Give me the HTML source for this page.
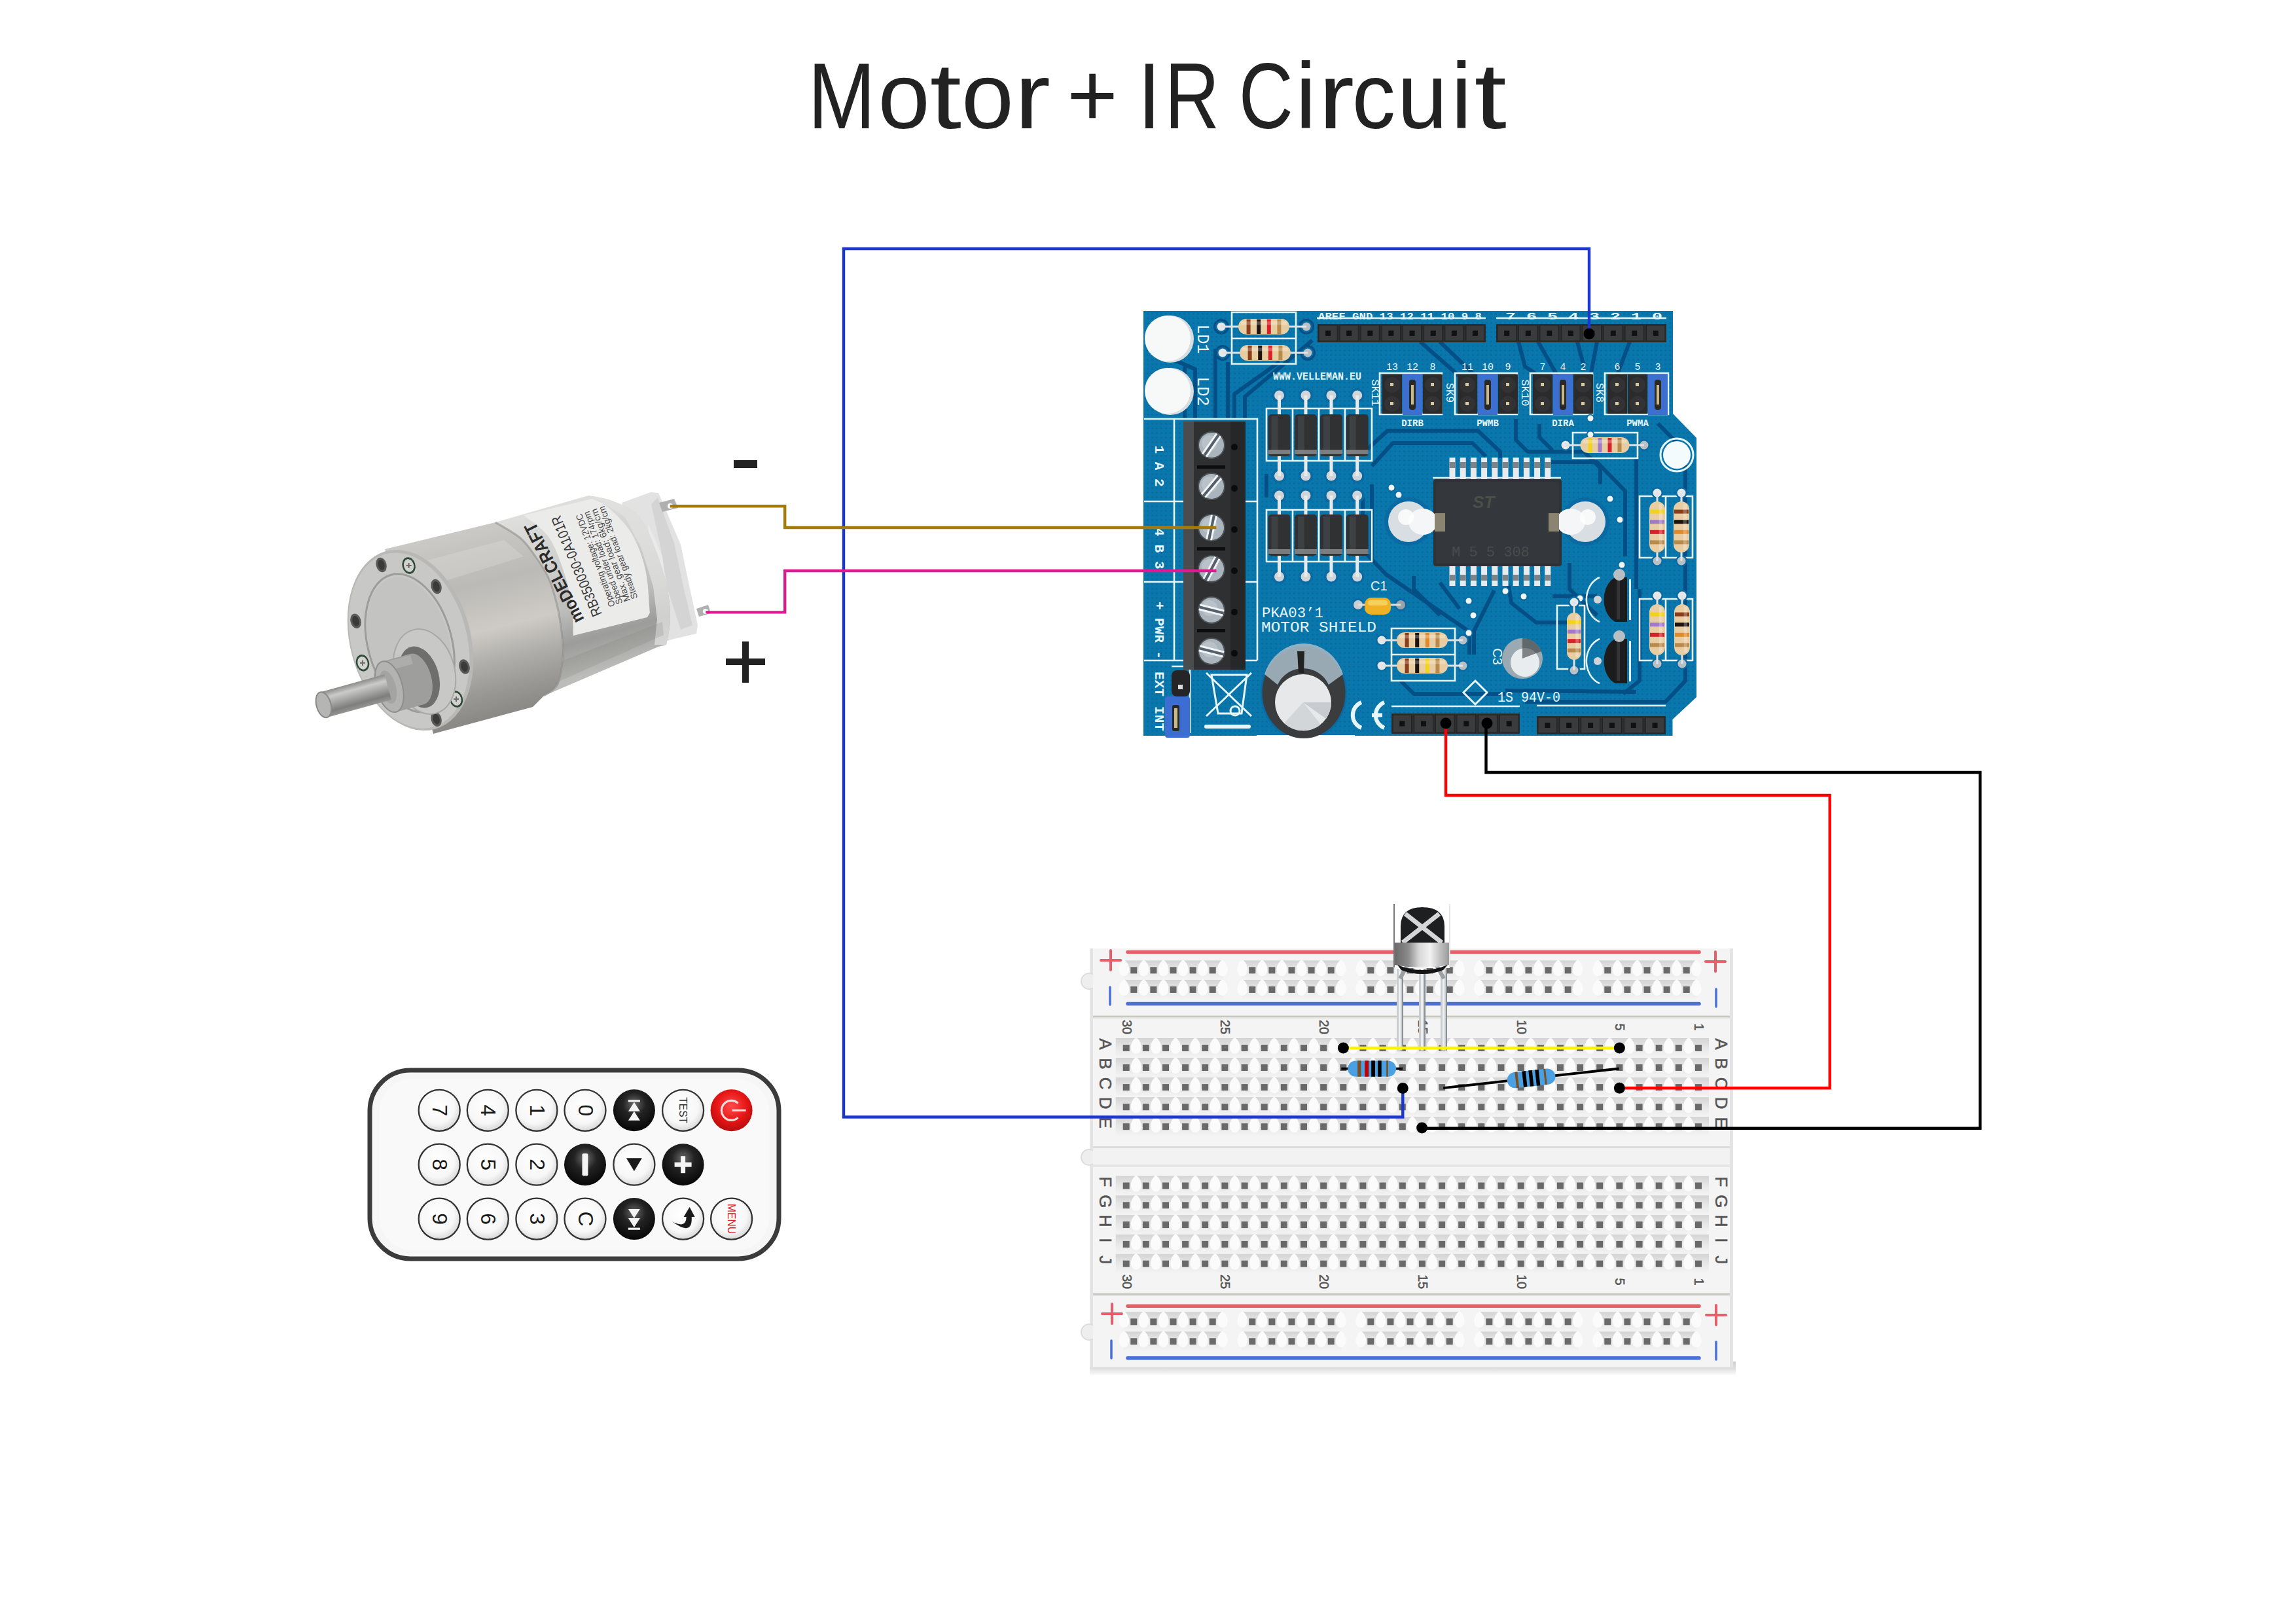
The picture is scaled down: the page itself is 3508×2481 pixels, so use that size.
<!DOCTYPE html>
<html><head><meta charset="utf-8"><style>
html,body{margin:0;padding:0;background:#fff;width:3508px;height:2481px;overflow:hidden}
svg{display:block}
</style></head><body><svg width="3508" height="2481" viewBox="0 0 3508 2481">
<defs>
 <linearGradient id="rowg" x1="0" y1="0" x2="0" y2="1">
  <stop offset="0" stop-color="#d4d4d4"/>
  <stop offset="0.45" stop-color="#e6e6e6"/>
  <stop offset="1" stop-color="#f4f4f4"/>
 </linearGradient>
 <radialGradient id="bump" cx="0.5" cy="0.45" r="0.5">
  <stop offset="0" stop-color="#ffffff"/>
  <stop offset="0.7" stop-color="#fafafa"/>
  <stop offset="1" stop-color="#f0f0f0"/>
 </radialGradient>
 <pattern id="pcbdots" x="0" y="0" width="7" height="7" patternUnits="userSpaceOnUse">
  <circle cx="3.5" cy="3.5" r="1.3" fill="#055d93" opacity="0.6"/>
 </pattern>
 <radialGradient id="whitebtn" cx="0.45" cy="0.4" r="0.6">
  <stop offset="0" stop-color="#ffffff"/><stop offset="0.7" stop-color="#f7f7f7"/><stop offset="1" stop-color="#d9d9d9"/>
 </radialGradient>
 <radialGradient id="blackbtn" cx="0.5" cy="0.35" r="0.6">
  <stop offset="0" stop-color="#6a6a6a"/><stop offset="0.45" stop-color="#232323"/><stop offset="1" stop-color="#0a0a0a"/>
 </radialGradient>
 <radialGradient id="redbtn" cx="0.5" cy="0.4" r="0.6">
  <stop offset="0" stop-color="#ff4a4a"/><stop offset="0.6" stop-color="#e61616"/><stop offset="1" stop-color="#b80c0c"/>
 </radialGradient>
 <linearGradient id="can" x1="0" y1="0" x2="1" y2="0">
  <stop offset="0" stop-color="#6a6a6a"/><stop offset="0.25" stop-color="#8c8c8c"/><stop offset="0.45" stop-color="#d8d8d8"/><stop offset="0.65" stop-color="#f2f2f2"/><stop offset="0.85" stop-color="#bdbdbd"/><stop offset="1" stop-color="#9a9a9a"/>
 </linearGradient>
 <linearGradient id="metalcyl" x1="0" y1="0" x2="0" y2="1">
  <stop offset="0" stop-color="#d6d6d4"/><stop offset="0.2" stop-color="#c9c9c7"/><stop offset="0.45" stop-color="#bdbdbb"/><stop offset="0.7" stop-color="#b0b0ae"/><stop offset="1" stop-color="#8e8e8c"/>
 </linearGradient>
 <linearGradient id="faceg" x1="0" y1="0" x2="1" y2="1">
  <stop offset="0" stop-color="#c9c9c7"/><stop offset="1" stop-color="#aeaeac"/>
 </linearGradient>
 <linearGradient id="shaftg" x1="0" y1="0" x2="0" y2="1">
  <stop offset="0" stop-color="#8a8a88"/><stop offset="0.35" stop-color="#d8d8d6"/><stop offset="0.7" stop-color="#a2a2a0"/><stop offset="1" stop-color="#707070"/>
 </linearGradient>
 <linearGradient id="bbshadow" x1="0" y1="0" x2="0" y2="1">
  <stop offset="0" stop-color="#cfcfcf"/><stop offset="0.5" stop-color="#e0e0e0"/><stop offset="1" stop-color="#ffffff"/>
 </linearGradient>
</defs>
<text transform="translate(1234.5 196.3) scale(0.865 1)" font-family="Liberation Sans, sans-serif" font-size="143" fill="#222">M</text><text transform="translate(1341.4 196.3) scale(0.997 1)" font-family="Liberation Sans, sans-serif" font-size="143" fill="#222">o</text><text transform="translate(1420.7 196.3) scale(1.214 1)" font-family="Liberation Sans, sans-serif" font-size="143" fill="#222">t</text><text transform="translate(1469.0 196.3) scale(1.004 1)" font-family="Liberation Sans, sans-serif" font-size="143" fill="#222">o</text><text transform="translate(1549.9 196.3) scale(1.154 1)" font-family="Liberation Sans, sans-serif" font-size="143" fill="#222">r</text><text transform="translate(1738.4 196.3) scale(0.879 1)" font-family="Liberation Sans, sans-serif" font-size="143" fill="#222">I</text><text transform="translate(1779.4 196.3) scale(0.811 1)" font-family="Liberation Sans, sans-serif" font-size="143" fill="#222">R</text><text transform="translate(1892.7 196.3) scale(0.805 1)" font-family="Liberation Sans, sans-serif" font-size="143" fill="#222">C</text><text transform="translate(1979.3 196.3) scale(1.000 1)" font-family="Liberation Sans, sans-serif" font-size="143" fill="#222">i</text><text transform="translate(2014.5 196.3) scale(1.146 1)" font-family="Liberation Sans, sans-serif" font-size="143" fill="#222">r</text><text transform="translate(2065.7 196.3) scale(0.927 1)" font-family="Liberation Sans, sans-serif" font-size="143" fill="#222">c</text><text transform="translate(2135.1 196.3) scale(0.961 1)" font-family="Liberation Sans, sans-serif" font-size="143" fill="#222">u</text><text transform="translate(2217.1 196.3) scale(1.000 1)" font-family="Liberation Sans, sans-serif" font-size="143" fill="#222">i</text><text transform="translate(2252.5 196.3) scale(1.243 1)" font-family="Liberation Sans, sans-serif" font-size="143" fill="#222">t</text><rect x="1636.6" y="142" width="64.6" height="9.2" fill="#222"/><rect x="1664.3" y="112.7" width="9.6" height="67.6" fill="#222"/><rect x="1121" y="703" width="36" height="12" fill="#222"/><rect x="1109" y="1006" width="60" height="10" fill="#222"/><rect x="1134" y="980" width="10" height="63" fill="#222"/><rect x="1665" y="2080" width="987" height="22" fill="url(#bbshadow)"/><rect x="1665" y="1449" width="983" height="640" fill="#e4e4e4"/><circle cx="1664" cy="1499" r="12" fill="#eeeeee" stroke="#dddddd" stroke-width="2"/><circle cx="1664" cy="1768" r="12" fill="#eeeeee" stroke="#dddddd" stroke-width="2"/><circle cx="1664" cy="2035" r="12" fill="#eeeeee" stroke="#dddddd" stroke-width="2"/><rect x="1670" y="1449" width="973" height="102" fill="#f4f4f4"/><rect x="1670" y="1556" width="973" height="196" fill="#f4f4f4"/><rect x="1670" y="1782" width="973" height="193" fill="#f4f4f4"/><rect x="1670" y="1980" width="973" height="108" fill="#f4f4f4"/><rect x="1670" y="1752" width="973" height="30" fill="#f2f2f2"/><rect x="1670" y="1751" width="973" height="3" fill="#dcdcdc"/><rect x="1670" y="1779" width="973" height="4" fill="#e6e6e6"/><rect x="1670" y="1551" width="973" height="5" fill="#e2e2de"/><rect x="1670" y="1552" width="973" height="2" fill="#c8c8c2"/><rect x="1670" y="1975" width="973" height="5" fill="#e2e2de"/><rect x="1670" y="1976" width="973" height="2" fill="#c8c8c2"/><rect x="1704.7" y="1586.0" width="906.3" height="30" fill="url(#rowg)"/><path d="M1735.8 1585.0C1746.8 1592.0 1745.8 1610.0 1735.8 1610.0C1725.8 1610.0 1724.8 1592.0 1735.8 1585.0Z" fill="#fbfbfb"/><path d="M1766.0 1585.0C1777.0 1592.0 1776.0 1610.0 1766.0 1610.0C1756.0 1610.0 1755.0 1592.0 1766.0 1585.0Z" fill="#fbfbfb"/><path d="M1796.1 1585.0C1807.1 1592.0 1806.1 1610.0 1796.1 1610.0C1786.1 1610.0 1785.1 1592.0 1796.1 1585.0Z" fill="#fbfbfb"/><path d="M1826.2 1585.0C1837.2 1592.0 1836.2 1610.0 1826.2 1610.0C1816.2 1610.0 1815.2 1592.0 1826.2 1585.0Z" fill="#fbfbfb"/><path d="M1856.4 1585.0C1867.4 1592.0 1866.4 1610.0 1856.4 1610.0C1846.4 1610.0 1845.4 1592.0 1856.4 1585.0Z" fill="#fbfbfb"/><path d="M1886.6 1585.0C1897.6 1592.0 1896.6 1610.0 1886.6 1610.0C1876.6 1610.0 1875.6 1592.0 1886.6 1585.0Z" fill="#fbfbfb"/><path d="M1916.7 1585.0C1927.7 1592.0 1926.7 1610.0 1916.7 1610.0C1906.7 1610.0 1905.7 1592.0 1916.7 1585.0Z" fill="#fbfbfb"/><path d="M1946.8 1585.0C1957.8 1592.0 1956.8 1610.0 1946.8 1610.0C1936.8 1610.0 1935.8 1592.0 1946.8 1585.0Z" fill="#fbfbfb"/><path d="M1977.0 1585.0C1988.0 1592.0 1987.0 1610.0 1977.0 1610.0C1967.0 1610.0 1966.0 1592.0 1977.0 1585.0Z" fill="#fbfbfb"/><path d="M2007.2 1585.0C2018.2 1592.0 2017.2 1610.0 2007.2 1610.0C1997.2 1610.0 1996.2 1592.0 2007.2 1585.0Z" fill="#fbfbfb"/><path d="M2037.3 1585.0C2048.3 1592.0 2047.3 1610.0 2037.3 1610.0C2027.3 1610.0 2026.3 1592.0 2037.3 1585.0Z" fill="#fbfbfb"/><path d="M2067.4 1585.0C2078.4 1592.0 2077.4 1610.0 2067.4 1610.0C2057.4 1610.0 2056.4 1592.0 2067.4 1585.0Z" fill="#fbfbfb"/><path d="M2097.6 1585.0C2108.6 1592.0 2107.6 1610.0 2097.6 1610.0C2087.6 1610.0 2086.6 1592.0 2097.6 1585.0Z" fill="#fbfbfb"/><path d="M2127.8 1585.0C2138.8 1592.0 2137.8 1610.0 2127.8 1610.0C2117.8 1610.0 2116.8 1592.0 2127.8 1585.0Z" fill="#fbfbfb"/><path d="M2157.9 1585.0C2168.9 1592.0 2167.9 1610.0 2157.9 1610.0C2147.9 1610.0 2146.9 1592.0 2157.9 1585.0Z" fill="#fbfbfb"/><path d="M2188.1 1585.0C2199.1 1592.0 2198.1 1610.0 2188.1 1610.0C2178.1 1610.0 2177.1 1592.0 2188.1 1585.0Z" fill="#fbfbfb"/><path d="M2218.2 1585.0C2229.2 1592.0 2228.2 1610.0 2218.2 1610.0C2208.2 1610.0 2207.2 1592.0 2218.2 1585.0Z" fill="#fbfbfb"/><path d="M2248.3 1585.0C2259.3 1592.0 2258.3 1610.0 2248.3 1610.0C2238.3 1610.0 2237.3 1592.0 2248.3 1585.0Z" fill="#fbfbfb"/><path d="M2278.5 1585.0C2289.5 1592.0 2288.5 1610.0 2278.5 1610.0C2268.5 1610.0 2267.5 1592.0 2278.5 1585.0Z" fill="#fbfbfb"/><path d="M2308.7 1585.0C2319.7 1592.0 2318.7 1610.0 2308.7 1610.0C2298.7 1610.0 2297.7 1592.0 2308.7 1585.0Z" fill="#fbfbfb"/><path d="M2338.8 1585.0C2349.8 1592.0 2348.8 1610.0 2338.8 1610.0C2328.8 1610.0 2327.8 1592.0 2338.8 1585.0Z" fill="#fbfbfb"/><path d="M2368.9 1585.0C2379.9 1592.0 2378.9 1610.0 2368.9 1610.0C2358.9 1610.0 2357.9 1592.0 2368.9 1585.0Z" fill="#fbfbfb"/><path d="M2399.1 1585.0C2410.1 1592.0 2409.1 1610.0 2399.1 1610.0C2389.1 1610.0 2388.1 1592.0 2399.1 1585.0Z" fill="#fbfbfb"/><path d="M2429.2 1585.0C2440.2 1592.0 2439.2 1610.0 2429.2 1610.0C2419.2 1610.0 2418.2 1592.0 2429.2 1585.0Z" fill="#fbfbfb"/><path d="M2459.4 1585.0C2470.4 1592.0 2469.4 1610.0 2459.4 1610.0C2449.4 1610.0 2448.4 1592.0 2459.4 1585.0Z" fill="#fbfbfb"/><path d="M2489.6 1585.0C2500.6 1592.0 2499.6 1610.0 2489.6 1610.0C2479.6 1610.0 2478.6 1592.0 2489.6 1585.0Z" fill="#fbfbfb"/><path d="M2519.7 1585.0C2530.7 1592.0 2529.7 1610.0 2519.7 1610.0C2509.7 1610.0 2508.7 1592.0 2519.7 1585.0Z" fill="#fbfbfb"/><path d="M2549.8 1585.0C2560.8 1592.0 2559.8 1610.0 2549.8 1610.0C2539.8 1610.0 2538.8 1592.0 2549.8 1585.0Z" fill="#fbfbfb"/><path d="M2580.0 1585.0C2591.0 1592.0 2590.0 1610.0 2580.0 1610.0C2570.0 1610.0 2569.0 1592.0 2580.0 1585.0Z" fill="#fbfbfb"/><rect x="1715.7" y="1596.0" width="10" height="10" fill="#696969"/><rect x="1745.8" y="1596.0" width="10" height="10" fill="#696969"/><rect x="1776.0" y="1596.0" width="10" height="10" fill="#696969"/><rect x="1806.1" y="1596.0" width="10" height="10" fill="#696969"/><rect x="1836.2" y="1596.0" width="10" height="10" fill="#696969"/><rect x="1866.4" y="1596.0" width="10" height="10" fill="#696969"/><rect x="1896.6" y="1596.0" width="10" height="10" fill="#696969"/><rect x="1926.7" y="1596.0" width="10" height="10" fill="#696969"/><rect x="1956.8" y="1596.0" width="10" height="10" fill="#696969"/><rect x="1987.0" y="1596.0" width="10" height="10" fill="#696969"/><rect x="2017.2" y="1596.0" width="10" height="10" fill="#696969"/><rect x="2047.3" y="1596.0" width="10" height="10" fill="#696969"/><rect x="2077.4" y="1596.0" width="10" height="10" fill="#696969"/><rect x="2107.6" y="1596.0" width="10" height="10" fill="#696969"/><rect x="2137.8" y="1596.0" width="10" height="10" fill="#696969"/><rect x="2167.9" y="1596.0" width="10" height="10" fill="#696969"/><rect x="2198.1" y="1596.0" width="10" height="10" fill="#696969"/><rect x="2228.2" y="1596.0" width="10" height="10" fill="#696969"/><rect x="2258.3" y="1596.0" width="10" height="10" fill="#696969"/><rect x="2288.5" y="1596.0" width="10" height="10" fill="#696969"/><rect x="2318.7" y="1596.0" width="10" height="10" fill="#696969"/><rect x="2348.8" y="1596.0" width="10" height="10" fill="#696969"/><rect x="2378.9" y="1596.0" width="10" height="10" fill="#696969"/><rect x="2409.1" y="1596.0" width="10" height="10" fill="#696969"/><rect x="2439.2" y="1596.0" width="10" height="10" fill="#696969"/><rect x="2469.4" y="1596.0" width="10" height="10" fill="#696969"/><rect x="2499.6" y="1596.0" width="10" height="10" fill="#696969"/><rect x="2529.7" y="1596.0" width="10" height="10" fill="#696969"/><rect x="2559.8" y="1596.0" width="10" height="10" fill="#696969"/><rect x="2590.0" y="1596.0" width="10" height="10" fill="#696969"/><rect x="1704.7" y="1616.0" width="906.3" height="30" fill="url(#rowg)"/><path d="M1735.8 1615.0C1746.8 1622.0 1745.8 1640.0 1735.8 1640.0C1725.8 1640.0 1724.8 1622.0 1735.8 1615.0Z" fill="#fbfbfb"/><path d="M1766.0 1615.0C1777.0 1622.0 1776.0 1640.0 1766.0 1640.0C1756.0 1640.0 1755.0 1622.0 1766.0 1615.0Z" fill="#fbfbfb"/><path d="M1796.1 1615.0C1807.1 1622.0 1806.1 1640.0 1796.1 1640.0C1786.1 1640.0 1785.1 1622.0 1796.1 1615.0Z" fill="#fbfbfb"/><path d="M1826.2 1615.0C1837.2 1622.0 1836.2 1640.0 1826.2 1640.0C1816.2 1640.0 1815.2 1622.0 1826.2 1615.0Z" fill="#fbfbfb"/><path d="M1856.4 1615.0C1867.4 1622.0 1866.4 1640.0 1856.4 1640.0C1846.4 1640.0 1845.4 1622.0 1856.4 1615.0Z" fill="#fbfbfb"/><path d="M1886.6 1615.0C1897.6 1622.0 1896.6 1640.0 1886.6 1640.0C1876.6 1640.0 1875.6 1622.0 1886.6 1615.0Z" fill="#fbfbfb"/><path d="M1916.7 1615.0C1927.7 1622.0 1926.7 1640.0 1916.7 1640.0C1906.7 1640.0 1905.7 1622.0 1916.7 1615.0Z" fill="#fbfbfb"/><path d="M1946.8 1615.0C1957.8 1622.0 1956.8 1640.0 1946.8 1640.0C1936.8 1640.0 1935.8 1622.0 1946.8 1615.0Z" fill="#fbfbfb"/><path d="M1977.0 1615.0C1988.0 1622.0 1987.0 1640.0 1977.0 1640.0C1967.0 1640.0 1966.0 1622.0 1977.0 1615.0Z" fill="#fbfbfb"/><path d="M2007.2 1615.0C2018.2 1622.0 2017.2 1640.0 2007.2 1640.0C1997.2 1640.0 1996.2 1622.0 2007.2 1615.0Z" fill="#fbfbfb"/><path d="M2037.3 1615.0C2048.3 1622.0 2047.3 1640.0 2037.3 1640.0C2027.3 1640.0 2026.3 1622.0 2037.3 1615.0Z" fill="#fbfbfb"/><path d="M2067.4 1615.0C2078.4 1622.0 2077.4 1640.0 2067.4 1640.0C2057.4 1640.0 2056.4 1622.0 2067.4 1615.0Z" fill="#fbfbfb"/><path d="M2097.6 1615.0C2108.6 1622.0 2107.6 1640.0 2097.6 1640.0C2087.6 1640.0 2086.6 1622.0 2097.6 1615.0Z" fill="#fbfbfb"/><path d="M2127.8 1615.0C2138.8 1622.0 2137.8 1640.0 2127.8 1640.0C2117.8 1640.0 2116.8 1622.0 2127.8 1615.0Z" fill="#fbfbfb"/><path d="M2157.9 1615.0C2168.9 1622.0 2167.9 1640.0 2157.9 1640.0C2147.9 1640.0 2146.9 1622.0 2157.9 1615.0Z" fill="#fbfbfb"/><path d="M2188.1 1615.0C2199.1 1622.0 2198.1 1640.0 2188.1 1640.0C2178.1 1640.0 2177.1 1622.0 2188.1 1615.0Z" fill="#fbfbfb"/><path d="M2218.2 1615.0C2229.2 1622.0 2228.2 1640.0 2218.2 1640.0C2208.2 1640.0 2207.2 1622.0 2218.2 1615.0Z" fill="#fbfbfb"/><path d="M2248.3 1615.0C2259.3 1622.0 2258.3 1640.0 2248.3 1640.0C2238.3 1640.0 2237.3 1622.0 2248.3 1615.0Z" fill="#fbfbfb"/><path d="M2278.5 1615.0C2289.5 1622.0 2288.5 1640.0 2278.5 1640.0C2268.5 1640.0 2267.5 1622.0 2278.5 1615.0Z" fill="#fbfbfb"/><path d="M2308.7 1615.0C2319.7 1622.0 2318.7 1640.0 2308.7 1640.0C2298.7 1640.0 2297.7 1622.0 2308.7 1615.0Z" fill="#fbfbfb"/><path d="M2338.8 1615.0C2349.8 1622.0 2348.8 1640.0 2338.8 1640.0C2328.8 1640.0 2327.8 1622.0 2338.8 1615.0Z" fill="#fbfbfb"/><path d="M2368.9 1615.0C2379.9 1622.0 2378.9 1640.0 2368.9 1640.0C2358.9 1640.0 2357.9 1622.0 2368.9 1615.0Z" fill="#fbfbfb"/><path d="M2399.1 1615.0C2410.1 1622.0 2409.1 1640.0 2399.1 1640.0C2389.1 1640.0 2388.1 1622.0 2399.1 1615.0Z" fill="#fbfbfb"/><path d="M2429.2 1615.0C2440.2 1622.0 2439.2 1640.0 2429.2 1640.0C2419.2 1640.0 2418.2 1622.0 2429.2 1615.0Z" fill="#fbfbfb"/><path d="M2459.4 1615.0C2470.4 1622.0 2469.4 1640.0 2459.4 1640.0C2449.4 1640.0 2448.4 1622.0 2459.4 1615.0Z" fill="#fbfbfb"/><path d="M2489.6 1615.0C2500.6 1622.0 2499.6 1640.0 2489.6 1640.0C2479.6 1640.0 2478.6 1622.0 2489.6 1615.0Z" fill="#fbfbfb"/><path d="M2519.7 1615.0C2530.7 1622.0 2529.7 1640.0 2519.7 1640.0C2509.7 1640.0 2508.7 1622.0 2519.7 1615.0Z" fill="#fbfbfb"/><path d="M2549.8 1615.0C2560.8 1622.0 2559.8 1640.0 2549.8 1640.0C2539.8 1640.0 2538.8 1622.0 2549.8 1615.0Z" fill="#fbfbfb"/><path d="M2580.0 1615.0C2591.0 1622.0 2590.0 1640.0 2580.0 1640.0C2570.0 1640.0 2569.0 1622.0 2580.0 1615.0Z" fill="#fbfbfb"/><rect x="1715.7" y="1626.0" width="10" height="10" fill="#696969"/><rect x="1745.8" y="1626.0" width="10" height="10" fill="#696969"/><rect x="1776.0" y="1626.0" width="10" height="10" fill="#696969"/><rect x="1806.1" y="1626.0" width="10" height="10" fill="#696969"/><rect x="1836.2" y="1626.0" width="10" height="10" fill="#696969"/><rect x="1866.4" y="1626.0" width="10" height="10" fill="#696969"/><rect x="1896.6" y="1626.0" width="10" height="10" fill="#696969"/><rect x="1926.7" y="1626.0" width="10" height="10" fill="#696969"/><rect x="1956.8" y="1626.0" width="10" height="10" fill="#696969"/><rect x="1987.0" y="1626.0" width="10" height="10" fill="#696969"/><rect x="2017.2" y="1626.0" width="10" height="10" fill="#696969"/><rect x="2047.3" y="1626.0" width="10" height="10" fill="#696969"/><rect x="2077.4" y="1626.0" width="10" height="10" fill="#696969"/><rect x="2107.6" y="1626.0" width="10" height="10" fill="#696969"/><rect x="2137.8" y="1626.0" width="10" height="10" fill="#696969"/><rect x="2167.9" y="1626.0" width="10" height="10" fill="#696969"/><rect x="2198.1" y="1626.0" width="10" height="10" fill="#696969"/><rect x="2228.2" y="1626.0" width="10" height="10" fill="#696969"/><rect x="2258.3" y="1626.0" width="10" height="10" fill="#696969"/><rect x="2288.5" y="1626.0" width="10" height="10" fill="#696969"/><rect x="2318.7" y="1626.0" width="10" height="10" fill="#696969"/><rect x="2348.8" y="1626.0" width="10" height="10" fill="#696969"/><rect x="2378.9" y="1626.0" width="10" height="10" fill="#696969"/><rect x="2409.1" y="1626.0" width="10" height="10" fill="#696969"/><rect x="2439.2" y="1626.0" width="10" height="10" fill="#696969"/><rect x="2469.4" y="1626.0" width="10" height="10" fill="#696969"/><rect x="2499.6" y="1626.0" width="10" height="10" fill="#696969"/><rect x="2529.7" y="1626.0" width="10" height="10" fill="#696969"/><rect x="2559.8" y="1626.0" width="10" height="10" fill="#696969"/><rect x="2590.0" y="1626.0" width="10" height="10" fill="#696969"/><rect x="1704.7" y="1646.1" width="906.3" height="30" fill="url(#rowg)"/><path d="M1735.8 1645.1C1746.8 1652.1 1745.8 1670.1 1735.8 1670.1C1725.8 1670.1 1724.8 1652.1 1735.8 1645.1Z" fill="#fbfbfb"/><path d="M1766.0 1645.1C1777.0 1652.1 1776.0 1670.1 1766.0 1670.1C1756.0 1670.1 1755.0 1652.1 1766.0 1645.1Z" fill="#fbfbfb"/><path d="M1796.1 1645.1C1807.1 1652.1 1806.1 1670.1 1796.1 1670.1C1786.1 1670.1 1785.1 1652.1 1796.1 1645.1Z" fill="#fbfbfb"/><path d="M1826.2 1645.1C1837.2 1652.1 1836.2 1670.1 1826.2 1670.1C1816.2 1670.1 1815.2 1652.1 1826.2 1645.1Z" fill="#fbfbfb"/><path d="M1856.4 1645.1C1867.4 1652.1 1866.4 1670.1 1856.4 1670.1C1846.4 1670.1 1845.4 1652.1 1856.4 1645.1Z" fill="#fbfbfb"/><path d="M1886.6 1645.1C1897.6 1652.1 1896.6 1670.1 1886.6 1670.1C1876.6 1670.1 1875.6 1652.1 1886.6 1645.1Z" fill="#fbfbfb"/><path d="M1916.7 1645.1C1927.7 1652.1 1926.7 1670.1 1916.7 1670.1C1906.7 1670.1 1905.7 1652.1 1916.7 1645.1Z" fill="#fbfbfb"/><path d="M1946.8 1645.1C1957.8 1652.1 1956.8 1670.1 1946.8 1670.1C1936.8 1670.1 1935.8 1652.1 1946.8 1645.1Z" fill="#fbfbfb"/><path d="M1977.0 1645.1C1988.0 1652.1 1987.0 1670.1 1977.0 1670.1C1967.0 1670.1 1966.0 1652.1 1977.0 1645.1Z" fill="#fbfbfb"/><path d="M2007.2 1645.1C2018.2 1652.1 2017.2 1670.1 2007.2 1670.1C1997.2 1670.1 1996.2 1652.1 2007.2 1645.1Z" fill="#fbfbfb"/><path d="M2037.3 1645.1C2048.3 1652.1 2047.3 1670.1 2037.3 1670.1C2027.3 1670.1 2026.3 1652.1 2037.3 1645.1Z" fill="#fbfbfb"/><path d="M2067.4 1645.1C2078.4 1652.1 2077.4 1670.1 2067.4 1670.1C2057.4 1670.1 2056.4 1652.1 2067.4 1645.1Z" fill="#fbfbfb"/><path d="M2097.6 1645.1C2108.6 1652.1 2107.6 1670.1 2097.6 1670.1C2087.6 1670.1 2086.6 1652.1 2097.6 1645.1Z" fill="#fbfbfb"/><path d="M2127.8 1645.1C2138.8 1652.1 2137.8 1670.1 2127.8 1670.1C2117.8 1670.1 2116.8 1652.1 2127.8 1645.1Z" fill="#fbfbfb"/><path d="M2157.9 1645.1C2168.9 1652.1 2167.9 1670.1 2157.9 1670.1C2147.9 1670.1 2146.9 1652.1 2157.9 1645.1Z" fill="#fbfbfb"/><path d="M2188.1 1645.1C2199.1 1652.1 2198.1 1670.1 2188.1 1670.1C2178.1 1670.1 2177.1 1652.1 2188.1 1645.1Z" fill="#fbfbfb"/><path d="M2218.2 1645.1C2229.2 1652.1 2228.2 1670.1 2218.2 1670.1C2208.2 1670.1 2207.2 1652.1 2218.2 1645.1Z" fill="#fbfbfb"/><path d="M2248.3 1645.1C2259.3 1652.1 2258.3 1670.1 2248.3 1670.1C2238.3 1670.1 2237.3 1652.1 2248.3 1645.1Z" fill="#fbfbfb"/><path d="M2278.5 1645.1C2289.5 1652.1 2288.5 1670.1 2278.5 1670.1C2268.5 1670.1 2267.5 1652.1 2278.5 1645.1Z" fill="#fbfbfb"/><path d="M2308.7 1645.1C2319.7 1652.1 2318.7 1670.1 2308.7 1670.1C2298.7 1670.1 2297.7 1652.1 2308.7 1645.1Z" fill="#fbfbfb"/><path d="M2338.8 1645.1C2349.8 1652.1 2348.8 1670.1 2338.8 1670.1C2328.8 1670.1 2327.8 1652.1 2338.8 1645.1Z" fill="#fbfbfb"/><path d="M2368.9 1645.1C2379.9 1652.1 2378.9 1670.1 2368.9 1670.1C2358.9 1670.1 2357.9 1652.1 2368.9 1645.1Z" fill="#fbfbfb"/><path d="M2399.1 1645.1C2410.1 1652.1 2409.1 1670.1 2399.1 1670.1C2389.1 1670.1 2388.1 1652.1 2399.1 1645.1Z" fill="#fbfbfb"/><path d="M2429.2 1645.1C2440.2 1652.1 2439.2 1670.1 2429.2 1670.1C2419.2 1670.1 2418.2 1652.1 2429.2 1645.1Z" fill="#fbfbfb"/><path d="M2459.4 1645.1C2470.4 1652.1 2469.4 1670.1 2459.4 1670.1C2449.4 1670.1 2448.4 1652.1 2459.4 1645.1Z" fill="#fbfbfb"/><path d="M2489.6 1645.1C2500.6 1652.1 2499.6 1670.1 2489.6 1670.1C2479.6 1670.1 2478.6 1652.1 2489.6 1645.1Z" fill="#fbfbfb"/><path d="M2519.7 1645.1C2530.7 1652.1 2529.7 1670.1 2519.7 1670.1C2509.7 1670.1 2508.7 1652.1 2519.7 1645.1Z" fill="#fbfbfb"/><path d="M2549.8 1645.1C2560.8 1652.1 2559.8 1670.1 2549.8 1670.1C2539.8 1670.1 2538.8 1652.1 2549.8 1645.1Z" fill="#fbfbfb"/><path d="M2580.0 1645.1C2591.0 1652.1 2590.0 1670.1 2580.0 1670.1C2570.0 1670.1 2569.0 1652.1 2580.0 1645.1Z" fill="#fbfbfb"/><rect x="1715.7" y="1656.1" width="10" height="10" fill="#696969"/><rect x="1745.8" y="1656.1" width="10" height="10" fill="#696969"/><rect x="1776.0" y="1656.1" width="10" height="10" fill="#696969"/><rect x="1806.1" y="1656.1" width="10" height="10" fill="#696969"/><rect x="1836.2" y="1656.1" width="10" height="10" fill="#696969"/><rect x="1866.4" y="1656.1" width="10" height="10" fill="#696969"/><rect x="1896.6" y="1656.1" width="10" height="10" fill="#696969"/><rect x="1926.7" y="1656.1" width="10" height="10" fill="#696969"/><rect x="1956.8" y="1656.1" width="10" height="10" fill="#696969"/><rect x="1987.0" y="1656.1" width="10" height="10" fill="#696969"/><rect x="2017.2" y="1656.1" width="10" height="10" fill="#696969"/><rect x="2047.3" y="1656.1" width="10" height="10" fill="#696969"/><rect x="2077.4" y="1656.1" width="10" height="10" fill="#696969"/><rect x="2107.6" y="1656.1" width="10" height="10" fill="#696969"/><rect x="2137.8" y="1656.1" width="10" height="10" fill="#696969"/><rect x="2167.9" y="1656.1" width="10" height="10" fill="#696969"/><rect x="2198.1" y="1656.1" width="10" height="10" fill="#696969"/><rect x="2228.2" y="1656.1" width="10" height="10" fill="#696969"/><rect x="2258.3" y="1656.1" width="10" height="10" fill="#696969"/><rect x="2288.5" y="1656.1" width="10" height="10" fill="#696969"/><rect x="2318.7" y="1656.1" width="10" height="10" fill="#696969"/><rect x="2348.8" y="1656.1" width="10" height="10" fill="#696969"/><rect x="2378.9" y="1656.1" width="10" height="10" fill="#696969"/><rect x="2409.1" y="1656.1" width="10" height="10" fill="#696969"/><rect x="2439.2" y="1656.1" width="10" height="10" fill="#696969"/><rect x="2469.4" y="1656.1" width="10" height="10" fill="#696969"/><rect x="2499.6" y="1656.1" width="10" height="10" fill="#696969"/><rect x="2529.7" y="1656.1" width="10" height="10" fill="#696969"/><rect x="2559.8" y="1656.1" width="10" height="10" fill="#696969"/><rect x="2590.0" y="1656.1" width="10" height="10" fill="#696969"/><rect x="1704.7" y="1676.2" width="906.3" height="30" fill="url(#rowg)"/><path d="M1735.8 1675.2C1746.8 1682.2 1745.8 1700.2 1735.8 1700.2C1725.8 1700.2 1724.8 1682.2 1735.8 1675.2Z" fill="#fbfbfb"/><path d="M1766.0 1675.2C1777.0 1682.2 1776.0 1700.2 1766.0 1700.2C1756.0 1700.2 1755.0 1682.2 1766.0 1675.2Z" fill="#fbfbfb"/><path d="M1796.1 1675.2C1807.1 1682.2 1806.1 1700.2 1796.1 1700.2C1786.1 1700.2 1785.1 1682.2 1796.1 1675.2Z" fill="#fbfbfb"/><path d="M1826.2 1675.2C1837.2 1682.2 1836.2 1700.2 1826.2 1700.2C1816.2 1700.2 1815.2 1682.2 1826.2 1675.2Z" fill="#fbfbfb"/><path d="M1856.4 1675.2C1867.4 1682.2 1866.4 1700.2 1856.4 1700.2C1846.4 1700.2 1845.4 1682.2 1856.4 1675.2Z" fill="#fbfbfb"/><path d="M1886.6 1675.2C1897.6 1682.2 1896.6 1700.2 1886.6 1700.2C1876.6 1700.2 1875.6 1682.2 1886.6 1675.2Z" fill="#fbfbfb"/><path d="M1916.7 1675.2C1927.7 1682.2 1926.7 1700.2 1916.7 1700.2C1906.7 1700.2 1905.7 1682.2 1916.7 1675.2Z" fill="#fbfbfb"/><path d="M1946.8 1675.2C1957.8 1682.2 1956.8 1700.2 1946.8 1700.2C1936.8 1700.2 1935.8 1682.2 1946.8 1675.2Z" fill="#fbfbfb"/><path d="M1977.0 1675.2C1988.0 1682.2 1987.0 1700.2 1977.0 1700.2C1967.0 1700.2 1966.0 1682.2 1977.0 1675.2Z" fill="#fbfbfb"/><path d="M2007.2 1675.2C2018.2 1682.2 2017.2 1700.2 2007.2 1700.2C1997.2 1700.2 1996.2 1682.2 2007.2 1675.2Z" fill="#fbfbfb"/><path d="M2037.3 1675.2C2048.3 1682.2 2047.3 1700.2 2037.3 1700.2C2027.3 1700.2 2026.3 1682.2 2037.3 1675.2Z" fill="#fbfbfb"/><path d="M2067.4 1675.2C2078.4 1682.2 2077.4 1700.2 2067.4 1700.2C2057.4 1700.2 2056.4 1682.2 2067.4 1675.2Z" fill="#fbfbfb"/><path d="M2097.6 1675.2C2108.6 1682.2 2107.6 1700.2 2097.6 1700.2C2087.6 1700.2 2086.6 1682.2 2097.6 1675.2Z" fill="#fbfbfb"/><path d="M2127.8 1675.2C2138.8 1682.2 2137.8 1700.2 2127.8 1700.2C2117.8 1700.2 2116.8 1682.2 2127.8 1675.2Z" fill="#fbfbfb"/><path d="M2157.9 1675.2C2168.9 1682.2 2167.9 1700.2 2157.9 1700.2C2147.9 1700.2 2146.9 1682.2 2157.9 1675.2Z" fill="#fbfbfb"/><path d="M2188.1 1675.2C2199.1 1682.2 2198.1 1700.2 2188.1 1700.2C2178.1 1700.2 2177.1 1682.2 2188.1 1675.2Z" fill="#fbfbfb"/><path d="M2218.2 1675.2C2229.2 1682.2 2228.2 1700.2 2218.2 1700.2C2208.2 1700.2 2207.2 1682.2 2218.2 1675.2Z" fill="#fbfbfb"/><path d="M2248.3 1675.2C2259.3 1682.2 2258.3 1700.2 2248.3 1700.2C2238.3 1700.2 2237.3 1682.2 2248.3 1675.2Z" fill="#fbfbfb"/><path d="M2278.5 1675.2C2289.5 1682.2 2288.5 1700.2 2278.5 1700.2C2268.5 1700.2 2267.5 1682.2 2278.5 1675.2Z" fill="#fbfbfb"/><path d="M2308.7 1675.2C2319.7 1682.2 2318.7 1700.2 2308.7 1700.2C2298.7 1700.2 2297.7 1682.2 2308.7 1675.2Z" fill="#fbfbfb"/><path d="M2338.8 1675.2C2349.8 1682.2 2348.8 1700.2 2338.8 1700.2C2328.8 1700.2 2327.8 1682.2 2338.8 1675.2Z" fill="#fbfbfb"/><path d="M2368.9 1675.2C2379.9 1682.2 2378.9 1700.2 2368.9 1700.2C2358.9 1700.2 2357.9 1682.2 2368.9 1675.2Z" fill="#fbfbfb"/><path d="M2399.1 1675.2C2410.1 1682.2 2409.1 1700.2 2399.1 1700.2C2389.1 1700.2 2388.1 1682.2 2399.1 1675.2Z" fill="#fbfbfb"/><path d="M2429.2 1675.2C2440.2 1682.2 2439.2 1700.2 2429.2 1700.2C2419.2 1700.2 2418.2 1682.2 2429.2 1675.2Z" fill="#fbfbfb"/><path d="M2459.4 1675.2C2470.4 1682.2 2469.4 1700.2 2459.4 1700.2C2449.4 1700.2 2448.4 1682.2 2459.4 1675.2Z" fill="#fbfbfb"/><path d="M2489.6 1675.2C2500.6 1682.2 2499.6 1700.2 2489.6 1700.2C2479.6 1700.2 2478.6 1682.2 2489.6 1675.2Z" fill="#fbfbfb"/><path d="M2519.7 1675.2C2530.7 1682.2 2529.7 1700.2 2519.7 1700.2C2509.7 1700.2 2508.7 1682.2 2519.7 1675.2Z" fill="#fbfbfb"/><path d="M2549.8 1675.2C2560.8 1682.2 2559.8 1700.2 2549.8 1700.2C2539.8 1700.2 2538.8 1682.2 2549.8 1675.2Z" fill="#fbfbfb"/><path d="M2580.0 1675.2C2591.0 1682.2 2590.0 1700.2 2580.0 1700.2C2570.0 1700.2 2569.0 1682.2 2580.0 1675.2Z" fill="#fbfbfb"/><rect x="1715.7" y="1686.2" width="10" height="10" fill="#696969"/><rect x="1745.8" y="1686.2" width="10" height="10" fill="#696969"/><rect x="1776.0" y="1686.2" width="10" height="10" fill="#696969"/><rect x="1806.1" y="1686.2" width="10" height="10" fill="#696969"/><rect x="1836.2" y="1686.2" width="10" height="10" fill="#696969"/><rect x="1866.4" y="1686.2" width="10" height="10" fill="#696969"/><rect x="1896.6" y="1686.2" width="10" height="10" fill="#696969"/><rect x="1926.7" y="1686.2" width="10" height="10" fill="#696969"/><rect x="1956.8" y="1686.2" width="10" height="10" fill="#696969"/><rect x="1987.0" y="1686.2" width="10" height="10" fill="#696969"/><rect x="2017.2" y="1686.2" width="10" height="10" fill="#696969"/><rect x="2047.3" y="1686.2" width="10" height="10" fill="#696969"/><rect x="2077.4" y="1686.2" width="10" height="10" fill="#696969"/><rect x="2107.6" y="1686.2" width="10" height="10" fill="#696969"/><rect x="2137.8" y="1686.2" width="10" height="10" fill="#696969"/><rect x="2167.9" y="1686.2" width="10" height="10" fill="#696969"/><rect x="2198.1" y="1686.2" width="10" height="10" fill="#696969"/><rect x="2228.2" y="1686.2" width="10" height="10" fill="#696969"/><rect x="2258.3" y="1686.2" width="10" height="10" fill="#696969"/><rect x="2288.5" y="1686.2" width="10" height="10" fill="#696969"/><rect x="2318.7" y="1686.2" width="10" height="10" fill="#696969"/><rect x="2348.8" y="1686.2" width="10" height="10" fill="#696969"/><rect x="2378.9" y="1686.2" width="10" height="10" fill="#696969"/><rect x="2409.1" y="1686.2" width="10" height="10" fill="#696969"/><rect x="2439.2" y="1686.2" width="10" height="10" fill="#696969"/><rect x="2469.4" y="1686.2" width="10" height="10" fill="#696969"/><rect x="2499.6" y="1686.2" width="10" height="10" fill="#696969"/><rect x="2529.7" y="1686.2" width="10" height="10" fill="#696969"/><rect x="2559.8" y="1686.2" width="10" height="10" fill="#696969"/><rect x="2590.0" y="1686.2" width="10" height="10" fill="#696969"/><rect x="1704.7" y="1706.2" width="906.3" height="30" fill="url(#rowg)"/><path d="M1735.8 1705.2C1746.8 1712.2 1745.8 1730.2 1735.8 1730.2C1725.8 1730.2 1724.8 1712.2 1735.8 1705.2Z" fill="#fbfbfb"/><path d="M1766.0 1705.2C1777.0 1712.2 1776.0 1730.2 1766.0 1730.2C1756.0 1730.2 1755.0 1712.2 1766.0 1705.2Z" fill="#fbfbfb"/><path d="M1796.1 1705.2C1807.1 1712.2 1806.1 1730.2 1796.1 1730.2C1786.1 1730.2 1785.1 1712.2 1796.1 1705.2Z" fill="#fbfbfb"/><path d="M1826.2 1705.2C1837.2 1712.2 1836.2 1730.2 1826.2 1730.2C1816.2 1730.2 1815.2 1712.2 1826.2 1705.2Z" fill="#fbfbfb"/><path d="M1856.4 1705.2C1867.4 1712.2 1866.4 1730.2 1856.4 1730.2C1846.4 1730.2 1845.4 1712.2 1856.4 1705.2Z" fill="#fbfbfb"/><path d="M1886.6 1705.2C1897.6 1712.2 1896.6 1730.2 1886.6 1730.2C1876.6 1730.2 1875.6 1712.2 1886.6 1705.2Z" fill="#fbfbfb"/><path d="M1916.7 1705.2C1927.7 1712.2 1926.7 1730.2 1916.7 1730.2C1906.7 1730.2 1905.7 1712.2 1916.7 1705.2Z" fill="#fbfbfb"/><path d="M1946.8 1705.2C1957.8 1712.2 1956.8 1730.2 1946.8 1730.2C1936.8 1730.2 1935.8 1712.2 1946.8 1705.2Z" fill="#fbfbfb"/><path d="M1977.0 1705.2C1988.0 1712.2 1987.0 1730.2 1977.0 1730.2C1967.0 1730.2 1966.0 1712.2 1977.0 1705.2Z" fill="#fbfbfb"/><path d="M2007.2 1705.2C2018.2 1712.2 2017.2 1730.2 2007.2 1730.2C1997.2 1730.2 1996.2 1712.2 2007.2 1705.2Z" fill="#fbfbfb"/><path d="M2037.3 1705.2C2048.3 1712.2 2047.3 1730.2 2037.3 1730.2C2027.3 1730.2 2026.3 1712.2 2037.3 1705.2Z" fill="#fbfbfb"/><path d="M2067.4 1705.2C2078.4 1712.2 2077.4 1730.2 2067.4 1730.2C2057.4 1730.2 2056.4 1712.2 2067.4 1705.2Z" fill="#fbfbfb"/><path d="M2097.6 1705.2C2108.6 1712.2 2107.6 1730.2 2097.6 1730.2C2087.6 1730.2 2086.6 1712.2 2097.6 1705.2Z" fill="#fbfbfb"/><path d="M2127.8 1705.2C2138.8 1712.2 2137.8 1730.2 2127.8 1730.2C2117.8 1730.2 2116.8 1712.2 2127.8 1705.2Z" fill="#fbfbfb"/><path d="M2157.9 1705.2C2168.9 1712.2 2167.9 1730.2 2157.9 1730.2C2147.9 1730.2 2146.9 1712.2 2157.9 1705.2Z" fill="#fbfbfb"/><path d="M2188.1 1705.2C2199.1 1712.2 2198.1 1730.2 2188.1 1730.2C2178.1 1730.2 2177.1 1712.2 2188.1 1705.2Z" fill="#fbfbfb"/><path d="M2218.2 1705.2C2229.2 1712.2 2228.2 1730.2 2218.2 1730.2C2208.2 1730.2 2207.2 1712.2 2218.2 1705.2Z" fill="#fbfbfb"/><path d="M2248.3 1705.2C2259.3 1712.2 2258.3 1730.2 2248.3 1730.2C2238.3 1730.2 2237.3 1712.2 2248.3 1705.2Z" fill="#fbfbfb"/><path d="M2278.5 1705.2C2289.5 1712.2 2288.5 1730.2 2278.5 1730.2C2268.5 1730.2 2267.5 1712.2 2278.5 1705.2Z" fill="#fbfbfb"/><path d="M2308.7 1705.2C2319.7 1712.2 2318.7 1730.2 2308.7 1730.2C2298.7 1730.2 2297.7 1712.2 2308.7 1705.2Z" fill="#fbfbfb"/><path d="M2338.8 1705.2C2349.8 1712.2 2348.8 1730.2 2338.8 1730.2C2328.8 1730.2 2327.8 1712.2 2338.8 1705.2Z" fill="#fbfbfb"/><path d="M2368.9 1705.2C2379.9 1712.2 2378.9 1730.2 2368.9 1730.2C2358.9 1730.2 2357.9 1712.2 2368.9 1705.2Z" fill="#fbfbfb"/><path d="M2399.1 1705.2C2410.1 1712.2 2409.1 1730.2 2399.1 1730.2C2389.1 1730.2 2388.1 1712.2 2399.1 1705.2Z" fill="#fbfbfb"/><path d="M2429.2 1705.2C2440.2 1712.2 2439.2 1730.2 2429.2 1730.2C2419.2 1730.2 2418.2 1712.2 2429.2 1705.2Z" fill="#fbfbfb"/><path d="M2459.4 1705.2C2470.4 1712.2 2469.4 1730.2 2459.4 1730.2C2449.4 1730.2 2448.4 1712.2 2459.4 1705.2Z" fill="#fbfbfb"/><path d="M2489.6 1705.2C2500.6 1712.2 2499.6 1730.2 2489.6 1730.2C2479.6 1730.2 2478.6 1712.2 2489.6 1705.2Z" fill="#fbfbfb"/><path d="M2519.7 1705.2C2530.7 1712.2 2529.7 1730.2 2519.7 1730.2C2509.7 1730.2 2508.7 1712.2 2519.7 1705.2Z" fill="#fbfbfb"/><path d="M2549.8 1705.2C2560.8 1712.2 2559.8 1730.2 2549.8 1730.2C2539.8 1730.2 2538.8 1712.2 2549.8 1705.2Z" fill="#fbfbfb"/><path d="M2580.0 1705.2C2591.0 1712.2 2590.0 1730.2 2580.0 1730.2C2570.0 1730.2 2569.0 1712.2 2580.0 1705.2Z" fill="#fbfbfb"/><rect x="1715.7" y="1716.2" width="10" height="10" fill="#696969"/><rect x="1745.8" y="1716.2" width="10" height="10" fill="#696969"/><rect x="1776.0" y="1716.2" width="10" height="10" fill="#696969"/><rect x="1806.1" y="1716.2" width="10" height="10" fill="#696969"/><rect x="1836.2" y="1716.2" width="10" height="10" fill="#696969"/><rect x="1866.4" y="1716.2" width="10" height="10" fill="#696969"/><rect x="1896.6" y="1716.2" width="10" height="10" fill="#696969"/><rect x="1926.7" y="1716.2" width="10" height="10" fill="#696969"/><rect x="1956.8" y="1716.2" width="10" height="10" fill="#696969"/><rect x="1987.0" y="1716.2" width="10" height="10" fill="#696969"/><rect x="2017.2" y="1716.2" width="10" height="10" fill="#696969"/><rect x="2047.3" y="1716.2" width="10" height="10" fill="#696969"/><rect x="2077.4" y="1716.2" width="10" height="10" fill="#696969"/><rect x="2107.6" y="1716.2" width="10" height="10" fill="#696969"/><rect x="2137.8" y="1716.2" width="10" height="10" fill="#696969"/><rect x="2167.9" y="1716.2" width="10" height="10" fill="#696969"/><rect x="2198.1" y="1716.2" width="10" height="10" fill="#696969"/><rect x="2228.2" y="1716.2" width="10" height="10" fill="#696969"/><rect x="2258.3" y="1716.2" width="10" height="10" fill="#696969"/><rect x="2288.5" y="1716.2" width="10" height="10" fill="#696969"/><rect x="2318.7" y="1716.2" width="10" height="10" fill="#696969"/><rect x="2348.8" y="1716.2" width="10" height="10" fill="#696969"/><rect x="2378.9" y="1716.2" width="10" height="10" fill="#696969"/><rect x="2409.1" y="1716.2" width="10" height="10" fill="#696969"/><rect x="2439.2" y="1716.2" width="10" height="10" fill="#696969"/><rect x="2469.4" y="1716.2" width="10" height="10" fill="#696969"/><rect x="2499.6" y="1716.2" width="10" height="10" fill="#696969"/><rect x="2529.7" y="1716.2" width="10" height="10" fill="#696969"/><rect x="2559.8" y="1716.2" width="10" height="10" fill="#696969"/><rect x="2590.0" y="1716.2" width="10" height="10" fill="#696969"/><rect x="1704.7" y="1796.5" width="906.3" height="30" fill="url(#rowg)"/><path d="M1735.8 1795.5C1746.8 1802.5 1745.8 1820.5 1735.8 1820.5C1725.8 1820.5 1724.8 1802.5 1735.8 1795.5Z" fill="#fbfbfb"/><path d="M1766.0 1795.5C1777.0 1802.5 1776.0 1820.5 1766.0 1820.5C1756.0 1820.5 1755.0 1802.5 1766.0 1795.5Z" fill="#fbfbfb"/><path d="M1796.1 1795.5C1807.1 1802.5 1806.1 1820.5 1796.1 1820.5C1786.1 1820.5 1785.1 1802.5 1796.1 1795.5Z" fill="#fbfbfb"/><path d="M1826.2 1795.5C1837.2 1802.5 1836.2 1820.5 1826.2 1820.5C1816.2 1820.5 1815.2 1802.5 1826.2 1795.5Z" fill="#fbfbfb"/><path d="M1856.4 1795.5C1867.4 1802.5 1866.4 1820.5 1856.4 1820.5C1846.4 1820.5 1845.4 1802.5 1856.4 1795.5Z" fill="#fbfbfb"/><path d="M1886.6 1795.5C1897.6 1802.5 1896.6 1820.5 1886.6 1820.5C1876.6 1820.5 1875.6 1802.5 1886.6 1795.5Z" fill="#fbfbfb"/><path d="M1916.7 1795.5C1927.7 1802.5 1926.7 1820.5 1916.7 1820.5C1906.7 1820.5 1905.7 1802.5 1916.7 1795.5Z" fill="#fbfbfb"/><path d="M1946.8 1795.5C1957.8 1802.5 1956.8 1820.5 1946.8 1820.5C1936.8 1820.5 1935.8 1802.5 1946.8 1795.5Z" fill="#fbfbfb"/><path d="M1977.0 1795.5C1988.0 1802.5 1987.0 1820.5 1977.0 1820.5C1967.0 1820.5 1966.0 1802.5 1977.0 1795.5Z" fill="#fbfbfb"/><path d="M2007.2 1795.5C2018.2 1802.5 2017.2 1820.5 2007.2 1820.5C1997.2 1820.5 1996.2 1802.5 2007.2 1795.5Z" fill="#fbfbfb"/><path d="M2037.3 1795.5C2048.3 1802.5 2047.3 1820.5 2037.3 1820.5C2027.3 1820.5 2026.3 1802.5 2037.3 1795.5Z" fill="#fbfbfb"/><path d="M2067.4 1795.5C2078.4 1802.5 2077.4 1820.5 2067.4 1820.5C2057.4 1820.5 2056.4 1802.5 2067.4 1795.5Z" fill="#fbfbfb"/><path d="M2097.6 1795.5C2108.6 1802.5 2107.6 1820.5 2097.6 1820.5C2087.6 1820.5 2086.6 1802.5 2097.6 1795.5Z" fill="#fbfbfb"/><path d="M2127.8 1795.5C2138.8 1802.5 2137.8 1820.5 2127.8 1820.5C2117.8 1820.5 2116.8 1802.5 2127.8 1795.5Z" fill="#fbfbfb"/><path d="M2157.9 1795.5C2168.9 1802.5 2167.9 1820.5 2157.9 1820.5C2147.9 1820.5 2146.9 1802.5 2157.9 1795.5Z" fill="#fbfbfb"/><path d="M2188.1 1795.5C2199.1 1802.5 2198.1 1820.5 2188.1 1820.5C2178.1 1820.5 2177.1 1802.5 2188.1 1795.5Z" fill="#fbfbfb"/><path d="M2218.2 1795.5C2229.2 1802.5 2228.2 1820.5 2218.2 1820.5C2208.2 1820.5 2207.2 1802.5 2218.2 1795.5Z" fill="#fbfbfb"/><path d="M2248.3 1795.5C2259.3 1802.5 2258.3 1820.5 2248.3 1820.5C2238.3 1820.5 2237.3 1802.5 2248.3 1795.5Z" fill="#fbfbfb"/><path d="M2278.5 1795.5C2289.5 1802.5 2288.5 1820.5 2278.5 1820.5C2268.5 1820.5 2267.5 1802.5 2278.5 1795.5Z" fill="#fbfbfb"/><path d="M2308.7 1795.5C2319.7 1802.5 2318.7 1820.5 2308.7 1820.5C2298.7 1820.5 2297.7 1802.5 2308.7 1795.5Z" fill="#fbfbfb"/><path d="M2338.8 1795.5C2349.8 1802.5 2348.8 1820.5 2338.8 1820.5C2328.8 1820.5 2327.8 1802.5 2338.8 1795.5Z" fill="#fbfbfb"/><path d="M2368.9 1795.5C2379.9 1802.5 2378.9 1820.5 2368.9 1820.5C2358.9 1820.5 2357.9 1802.5 2368.9 1795.5Z" fill="#fbfbfb"/><path d="M2399.1 1795.5C2410.1 1802.5 2409.1 1820.5 2399.1 1820.5C2389.1 1820.5 2388.1 1802.5 2399.1 1795.5Z" fill="#fbfbfb"/><path d="M2429.2 1795.5C2440.2 1802.5 2439.2 1820.5 2429.2 1820.5C2419.2 1820.5 2418.2 1802.5 2429.2 1795.5Z" fill="#fbfbfb"/><path d="M2459.4 1795.5C2470.4 1802.5 2469.4 1820.5 2459.4 1820.5C2449.4 1820.5 2448.4 1802.5 2459.4 1795.5Z" fill="#fbfbfb"/><path d="M2489.6 1795.5C2500.6 1802.5 2499.6 1820.5 2489.6 1820.5C2479.6 1820.5 2478.6 1802.5 2489.6 1795.5Z" fill="#fbfbfb"/><path d="M2519.7 1795.5C2530.7 1802.5 2529.7 1820.5 2519.7 1820.5C2509.7 1820.5 2508.7 1802.5 2519.7 1795.5Z" fill="#fbfbfb"/><path d="M2549.8 1795.5C2560.8 1802.5 2559.8 1820.5 2549.8 1820.5C2539.8 1820.5 2538.8 1802.5 2549.8 1795.5Z" fill="#fbfbfb"/><path d="M2580.0 1795.5C2591.0 1802.5 2590.0 1820.5 2580.0 1820.5C2570.0 1820.5 2569.0 1802.5 2580.0 1795.5Z" fill="#fbfbfb"/><rect x="1715.7" y="1806.5" width="10" height="10" fill="#696969"/><rect x="1745.8" y="1806.5" width="10" height="10" fill="#696969"/><rect x="1776.0" y="1806.5" width="10" height="10" fill="#696969"/><rect x="1806.1" y="1806.5" width="10" height="10" fill="#696969"/><rect x="1836.2" y="1806.5" width="10" height="10" fill="#696969"/><rect x="1866.4" y="1806.5" width="10" height="10" fill="#696969"/><rect x="1896.6" y="1806.5" width="10" height="10" fill="#696969"/><rect x="1926.7" y="1806.5" width="10" height="10" fill="#696969"/><rect x="1956.8" y="1806.5" width="10" height="10" fill="#696969"/><rect x="1987.0" y="1806.5" width="10" height="10" fill="#696969"/><rect x="2017.2" y="1806.5" width="10" height="10" fill="#696969"/><rect x="2047.3" y="1806.5" width="10" height="10" fill="#696969"/><rect x="2077.4" y="1806.5" width="10" height="10" fill="#696969"/><rect x="2107.6" y="1806.5" width="10" height="10" fill="#696969"/><rect x="2137.8" y="1806.5" width="10" height="10" fill="#696969"/><rect x="2167.9" y="1806.5" width="10" height="10" fill="#696969"/><rect x="2198.1" y="1806.5" width="10" height="10" fill="#696969"/><rect x="2228.2" y="1806.5" width="10" height="10" fill="#696969"/><rect x="2258.3" y="1806.5" width="10" height="10" fill="#696969"/><rect x="2288.5" y="1806.5" width="10" height="10" fill="#696969"/><rect x="2318.7" y="1806.5" width="10" height="10" fill="#696969"/><rect x="2348.8" y="1806.5" width="10" height="10" fill="#696969"/><rect x="2378.9" y="1806.5" width="10" height="10" fill="#696969"/><rect x="2409.1" y="1806.5" width="10" height="10" fill="#696969"/><rect x="2439.2" y="1806.5" width="10" height="10" fill="#696969"/><rect x="2469.4" y="1806.5" width="10" height="10" fill="#696969"/><rect x="2499.6" y="1806.5" width="10" height="10" fill="#696969"/><rect x="2529.7" y="1806.5" width="10" height="10" fill="#696969"/><rect x="2559.8" y="1806.5" width="10" height="10" fill="#696969"/><rect x="2590.0" y="1806.5" width="10" height="10" fill="#696969"/><rect x="1704.7" y="1826.3" width="906.3" height="30" fill="url(#rowg)"/><path d="M1735.8 1825.3C1746.8 1832.3 1745.8 1850.3 1735.8 1850.3C1725.8 1850.3 1724.8 1832.3 1735.8 1825.3Z" fill="#fbfbfb"/><path d="M1766.0 1825.3C1777.0 1832.3 1776.0 1850.3 1766.0 1850.3C1756.0 1850.3 1755.0 1832.3 1766.0 1825.3Z" fill="#fbfbfb"/><path d="M1796.1 1825.3C1807.1 1832.3 1806.1 1850.3 1796.1 1850.3C1786.1 1850.3 1785.1 1832.3 1796.1 1825.3Z" fill="#fbfbfb"/><path d="M1826.2 1825.3C1837.2 1832.3 1836.2 1850.3 1826.2 1850.3C1816.2 1850.3 1815.2 1832.3 1826.2 1825.3Z" fill="#fbfbfb"/><path d="M1856.4 1825.3C1867.4 1832.3 1866.4 1850.3 1856.4 1850.3C1846.4 1850.3 1845.4 1832.3 1856.4 1825.3Z" fill="#fbfbfb"/><path d="M1886.6 1825.3C1897.6 1832.3 1896.6 1850.3 1886.6 1850.3C1876.6 1850.3 1875.6 1832.3 1886.6 1825.3Z" fill="#fbfbfb"/><path d="M1916.7 1825.3C1927.7 1832.3 1926.7 1850.3 1916.7 1850.3C1906.7 1850.3 1905.7 1832.3 1916.7 1825.3Z" fill="#fbfbfb"/><path d="M1946.8 1825.3C1957.8 1832.3 1956.8 1850.3 1946.8 1850.3C1936.8 1850.3 1935.8 1832.3 1946.8 1825.3Z" fill="#fbfbfb"/><path d="M1977.0 1825.3C1988.0 1832.3 1987.0 1850.3 1977.0 1850.3C1967.0 1850.3 1966.0 1832.3 1977.0 1825.3Z" fill="#fbfbfb"/><path d="M2007.2 1825.3C2018.2 1832.3 2017.2 1850.3 2007.2 1850.3C1997.2 1850.3 1996.2 1832.3 2007.2 1825.3Z" fill="#fbfbfb"/><path d="M2037.3 1825.3C2048.3 1832.3 2047.3 1850.3 2037.3 1850.3C2027.3 1850.3 2026.3 1832.3 2037.3 1825.3Z" fill="#fbfbfb"/><path d="M2067.4 1825.3C2078.4 1832.3 2077.4 1850.3 2067.4 1850.3C2057.4 1850.3 2056.4 1832.3 2067.4 1825.3Z" fill="#fbfbfb"/><path d="M2097.6 1825.3C2108.6 1832.3 2107.6 1850.3 2097.6 1850.3C2087.6 1850.3 2086.6 1832.3 2097.6 1825.3Z" fill="#fbfbfb"/><path d="M2127.8 1825.3C2138.8 1832.3 2137.8 1850.3 2127.8 1850.3C2117.8 1850.3 2116.8 1832.3 2127.8 1825.3Z" fill="#fbfbfb"/><path d="M2157.9 1825.3C2168.9 1832.3 2167.9 1850.3 2157.9 1850.3C2147.9 1850.3 2146.9 1832.3 2157.9 1825.3Z" fill="#fbfbfb"/><path d="M2188.1 1825.3C2199.1 1832.3 2198.1 1850.3 2188.1 1850.3C2178.1 1850.3 2177.1 1832.3 2188.1 1825.3Z" fill="#fbfbfb"/><path d="M2218.2 1825.3C2229.2 1832.3 2228.2 1850.3 2218.2 1850.3C2208.2 1850.3 2207.2 1832.3 2218.2 1825.3Z" fill="#fbfbfb"/><path d="M2248.3 1825.3C2259.3 1832.3 2258.3 1850.3 2248.3 1850.3C2238.3 1850.3 2237.3 1832.3 2248.3 1825.3Z" fill="#fbfbfb"/><path d="M2278.5 1825.3C2289.5 1832.3 2288.5 1850.3 2278.5 1850.3C2268.5 1850.3 2267.5 1832.3 2278.5 1825.3Z" fill="#fbfbfb"/><path d="M2308.7 1825.3C2319.7 1832.3 2318.7 1850.3 2308.7 1850.3C2298.7 1850.3 2297.7 1832.3 2308.7 1825.3Z" fill="#fbfbfb"/><path d="M2338.8 1825.3C2349.8 1832.3 2348.8 1850.3 2338.8 1850.3C2328.8 1850.3 2327.8 1832.3 2338.8 1825.3Z" fill="#fbfbfb"/><path d="M2368.9 1825.3C2379.9 1832.3 2378.9 1850.3 2368.9 1850.3C2358.9 1850.3 2357.9 1832.3 2368.9 1825.3Z" fill="#fbfbfb"/><path d="M2399.1 1825.3C2410.1 1832.3 2409.1 1850.3 2399.1 1850.3C2389.1 1850.3 2388.1 1832.3 2399.1 1825.3Z" fill="#fbfbfb"/><path d="M2429.2 1825.3C2440.2 1832.3 2439.2 1850.3 2429.2 1850.3C2419.2 1850.3 2418.2 1832.3 2429.2 1825.3Z" fill="#fbfbfb"/><path d="M2459.4 1825.3C2470.4 1832.3 2469.4 1850.3 2459.4 1850.3C2449.4 1850.3 2448.4 1832.3 2459.4 1825.3Z" fill="#fbfbfb"/><path d="M2489.6 1825.3C2500.6 1832.3 2499.6 1850.3 2489.6 1850.3C2479.6 1850.3 2478.6 1832.3 2489.6 1825.3Z" fill="#fbfbfb"/><path d="M2519.7 1825.3C2530.7 1832.3 2529.7 1850.3 2519.7 1850.3C2509.7 1850.3 2508.7 1832.3 2519.7 1825.3Z" fill="#fbfbfb"/><path d="M2549.8 1825.3C2560.8 1832.3 2559.8 1850.3 2549.8 1850.3C2539.8 1850.3 2538.8 1832.3 2549.8 1825.3Z" fill="#fbfbfb"/><path d="M2580.0 1825.3C2591.0 1832.3 2590.0 1850.3 2580.0 1850.3C2570.0 1850.3 2569.0 1832.3 2580.0 1825.3Z" fill="#fbfbfb"/><rect x="1715.7" y="1836.3" width="10" height="10" fill="#696969"/><rect x="1745.8" y="1836.3" width="10" height="10" fill="#696969"/><rect x="1776.0" y="1836.3" width="10" height="10" fill="#696969"/><rect x="1806.1" y="1836.3" width="10" height="10" fill="#696969"/><rect x="1836.2" y="1836.3" width="10" height="10" fill="#696969"/><rect x="1866.4" y="1836.3" width="10" height="10" fill="#696969"/><rect x="1896.6" y="1836.3" width="10" height="10" fill="#696969"/><rect x="1926.7" y="1836.3" width="10" height="10" fill="#696969"/><rect x="1956.8" y="1836.3" width="10" height="10" fill="#696969"/><rect x="1987.0" y="1836.3" width="10" height="10" fill="#696969"/><rect x="2017.2" y="1836.3" width="10" height="10" fill="#696969"/><rect x="2047.3" y="1836.3" width="10" height="10" fill="#696969"/><rect x="2077.4" y="1836.3" width="10" height="10" fill="#696969"/><rect x="2107.6" y="1836.3" width="10" height="10" fill="#696969"/><rect x="2137.8" y="1836.3" width="10" height="10" fill="#696969"/><rect x="2167.9" y="1836.3" width="10" height="10" fill="#696969"/><rect x="2198.1" y="1836.3" width="10" height="10" fill="#696969"/><rect x="2228.2" y="1836.3" width="10" height="10" fill="#696969"/><rect x="2258.3" y="1836.3" width="10" height="10" fill="#696969"/><rect x="2288.5" y="1836.3" width="10" height="10" fill="#696969"/><rect x="2318.7" y="1836.3" width="10" height="10" fill="#696969"/><rect x="2348.8" y="1836.3" width="10" height="10" fill="#696969"/><rect x="2378.9" y="1836.3" width="10" height="10" fill="#696969"/><rect x="2409.1" y="1836.3" width="10" height="10" fill="#696969"/><rect x="2439.2" y="1836.3" width="10" height="10" fill="#696969"/><rect x="2469.4" y="1836.3" width="10" height="10" fill="#696969"/><rect x="2499.6" y="1836.3" width="10" height="10" fill="#696969"/><rect x="2529.7" y="1836.3" width="10" height="10" fill="#696969"/><rect x="2559.8" y="1836.3" width="10" height="10" fill="#696969"/><rect x="2590.0" y="1836.3" width="10" height="10" fill="#696969"/><rect x="1704.7" y="1856.1" width="906.3" height="30" fill="url(#rowg)"/><path d="M1735.8 1855.1C1746.8 1862.1 1745.8 1880.1 1735.8 1880.1C1725.8 1880.1 1724.8 1862.1 1735.8 1855.1Z" fill="#fbfbfb"/><path d="M1766.0 1855.1C1777.0 1862.1 1776.0 1880.1 1766.0 1880.1C1756.0 1880.1 1755.0 1862.1 1766.0 1855.1Z" fill="#fbfbfb"/><path d="M1796.1 1855.1C1807.1 1862.1 1806.1 1880.1 1796.1 1880.1C1786.1 1880.1 1785.1 1862.1 1796.1 1855.1Z" fill="#fbfbfb"/><path d="M1826.2 1855.1C1837.2 1862.1 1836.2 1880.1 1826.2 1880.1C1816.2 1880.1 1815.2 1862.1 1826.2 1855.1Z" fill="#fbfbfb"/><path d="M1856.4 1855.1C1867.4 1862.1 1866.4 1880.1 1856.4 1880.1C1846.4 1880.1 1845.4 1862.1 1856.4 1855.1Z" fill="#fbfbfb"/><path d="M1886.6 1855.1C1897.6 1862.1 1896.6 1880.1 1886.6 1880.1C1876.6 1880.1 1875.6 1862.1 1886.6 1855.1Z" fill="#fbfbfb"/><path d="M1916.7 1855.1C1927.7 1862.1 1926.7 1880.1 1916.7 1880.1C1906.7 1880.1 1905.7 1862.1 1916.7 1855.1Z" fill="#fbfbfb"/><path d="M1946.8 1855.1C1957.8 1862.1 1956.8 1880.1 1946.8 1880.1C1936.8 1880.1 1935.8 1862.1 1946.8 1855.1Z" fill="#fbfbfb"/><path d="M1977.0 1855.1C1988.0 1862.1 1987.0 1880.1 1977.0 1880.1C1967.0 1880.1 1966.0 1862.1 1977.0 1855.1Z" fill="#fbfbfb"/><path d="M2007.2 1855.1C2018.2 1862.1 2017.2 1880.1 2007.2 1880.1C1997.2 1880.1 1996.2 1862.1 2007.2 1855.1Z" fill="#fbfbfb"/><path d="M2037.3 1855.1C2048.3 1862.1 2047.3 1880.1 2037.3 1880.1C2027.3 1880.1 2026.3 1862.1 2037.3 1855.1Z" fill="#fbfbfb"/><path d="M2067.4 1855.1C2078.4 1862.1 2077.4 1880.1 2067.4 1880.1C2057.4 1880.1 2056.4 1862.1 2067.4 1855.1Z" fill="#fbfbfb"/><path d="M2097.6 1855.1C2108.6 1862.1 2107.6 1880.1 2097.6 1880.1C2087.6 1880.1 2086.6 1862.1 2097.6 1855.1Z" fill="#fbfbfb"/><path d="M2127.8 1855.1C2138.8 1862.1 2137.8 1880.1 2127.8 1880.1C2117.8 1880.1 2116.8 1862.1 2127.8 1855.1Z" fill="#fbfbfb"/><path d="M2157.9 1855.1C2168.9 1862.1 2167.9 1880.1 2157.9 1880.1C2147.9 1880.1 2146.9 1862.1 2157.9 1855.1Z" fill="#fbfbfb"/><path d="M2188.1 1855.1C2199.1 1862.1 2198.1 1880.1 2188.1 1880.1C2178.1 1880.1 2177.1 1862.1 2188.1 1855.1Z" fill="#fbfbfb"/><path d="M2218.2 1855.1C2229.2 1862.1 2228.2 1880.1 2218.2 1880.1C2208.2 1880.1 2207.2 1862.1 2218.2 1855.1Z" fill="#fbfbfb"/><path d="M2248.3 1855.1C2259.3 1862.1 2258.3 1880.1 2248.3 1880.1C2238.3 1880.1 2237.3 1862.1 2248.3 1855.1Z" fill="#fbfbfb"/><path d="M2278.5 1855.1C2289.5 1862.1 2288.5 1880.1 2278.5 1880.1C2268.5 1880.1 2267.5 1862.1 2278.5 1855.1Z" fill="#fbfbfb"/><path d="M2308.7 1855.1C2319.7 1862.1 2318.7 1880.1 2308.7 1880.1C2298.7 1880.1 2297.7 1862.1 2308.7 1855.1Z" fill="#fbfbfb"/><path d="M2338.8 1855.1C2349.8 1862.1 2348.8 1880.1 2338.8 1880.1C2328.8 1880.1 2327.8 1862.1 2338.8 1855.1Z" fill="#fbfbfb"/><path d="M2368.9 1855.1C2379.9 1862.1 2378.9 1880.1 2368.9 1880.1C2358.9 1880.1 2357.9 1862.1 2368.9 1855.1Z" fill="#fbfbfb"/><path d="M2399.1 1855.1C2410.1 1862.1 2409.1 1880.1 2399.1 1880.1C2389.1 1880.1 2388.1 1862.1 2399.1 1855.1Z" fill="#fbfbfb"/><path d="M2429.2 1855.1C2440.2 1862.1 2439.2 1880.1 2429.2 1880.1C2419.2 1880.1 2418.2 1862.1 2429.2 1855.1Z" fill="#fbfbfb"/><path d="M2459.4 1855.1C2470.4 1862.1 2469.4 1880.1 2459.4 1880.1C2449.4 1880.1 2448.4 1862.1 2459.4 1855.1Z" fill="#fbfbfb"/><path d="M2489.6 1855.1C2500.6 1862.1 2499.6 1880.1 2489.6 1880.1C2479.6 1880.1 2478.6 1862.1 2489.6 1855.1Z" fill="#fbfbfb"/><path d="M2519.7 1855.1C2530.7 1862.1 2529.7 1880.1 2519.7 1880.1C2509.7 1880.1 2508.7 1862.1 2519.7 1855.1Z" fill="#fbfbfb"/><path d="M2549.8 1855.1C2560.8 1862.1 2559.8 1880.1 2549.8 1880.1C2539.8 1880.1 2538.8 1862.1 2549.8 1855.1Z" fill="#fbfbfb"/><path d="M2580.0 1855.1C2591.0 1862.1 2590.0 1880.1 2580.0 1880.1C2570.0 1880.1 2569.0 1862.1 2580.0 1855.1Z" fill="#fbfbfb"/><rect x="1715.7" y="1866.1" width="10" height="10" fill="#696969"/><rect x="1745.8" y="1866.1" width="10" height="10" fill="#696969"/><rect x="1776.0" y="1866.1" width="10" height="10" fill="#696969"/><rect x="1806.1" y="1866.1" width="10" height="10" fill="#696969"/><rect x="1836.2" y="1866.1" width="10" height="10" fill="#696969"/><rect x="1866.4" y="1866.1" width="10" height="10" fill="#696969"/><rect x="1896.6" y="1866.1" width="10" height="10" fill="#696969"/><rect x="1926.7" y="1866.1" width="10" height="10" fill="#696969"/><rect x="1956.8" y="1866.1" width="10" height="10" fill="#696969"/><rect x="1987.0" y="1866.1" width="10" height="10" fill="#696969"/><rect x="2017.2" y="1866.1" width="10" height="10" fill="#696969"/><rect x="2047.3" y="1866.1" width="10" height="10" fill="#696969"/><rect x="2077.4" y="1866.1" width="10" height="10" fill="#696969"/><rect x="2107.6" y="1866.1" width="10" height="10" fill="#696969"/><rect x="2137.8" y="1866.1" width="10" height="10" fill="#696969"/><rect x="2167.9" y="1866.1" width="10" height="10" fill="#696969"/><rect x="2198.1" y="1866.1" width="10" height="10" fill="#696969"/><rect x="2228.2" y="1866.1" width="10" height="10" fill="#696969"/><rect x="2258.3" y="1866.1" width="10" height="10" fill="#696969"/><rect x="2288.5" y="1866.1" width="10" height="10" fill="#696969"/><rect x="2318.7" y="1866.1" width="10" height="10" fill="#696969"/><rect x="2348.8" y="1866.1" width="10" height="10" fill="#696969"/><rect x="2378.9" y="1866.1" width="10" height="10" fill="#696969"/><rect x="2409.1" y="1866.1" width="10" height="10" fill="#696969"/><rect x="2439.2" y="1866.1" width="10" height="10" fill="#696969"/><rect x="2469.4" y="1866.1" width="10" height="10" fill="#696969"/><rect x="2499.6" y="1866.1" width="10" height="10" fill="#696969"/><rect x="2529.7" y="1866.1" width="10" height="10" fill="#696969"/><rect x="2559.8" y="1866.1" width="10" height="10" fill="#696969"/><rect x="2590.0" y="1866.1" width="10" height="10" fill="#696969"/><rect x="1704.7" y="1885.9" width="906.3" height="30" fill="url(#rowg)"/><path d="M1735.8 1884.9C1746.8 1891.9 1745.8 1909.9 1735.8 1909.9C1725.8 1909.9 1724.8 1891.9 1735.8 1884.9Z" fill="#fbfbfb"/><path d="M1766.0 1884.9C1777.0 1891.9 1776.0 1909.9 1766.0 1909.9C1756.0 1909.9 1755.0 1891.9 1766.0 1884.9Z" fill="#fbfbfb"/><path d="M1796.1 1884.9C1807.1 1891.9 1806.1 1909.9 1796.1 1909.9C1786.1 1909.9 1785.1 1891.9 1796.1 1884.9Z" fill="#fbfbfb"/><path d="M1826.2 1884.9C1837.2 1891.9 1836.2 1909.9 1826.2 1909.9C1816.2 1909.9 1815.2 1891.9 1826.2 1884.9Z" fill="#fbfbfb"/><path d="M1856.4 1884.9C1867.4 1891.9 1866.4 1909.9 1856.4 1909.9C1846.4 1909.9 1845.4 1891.9 1856.4 1884.9Z" fill="#fbfbfb"/><path d="M1886.6 1884.9C1897.6 1891.9 1896.6 1909.9 1886.6 1909.9C1876.6 1909.9 1875.6 1891.9 1886.6 1884.9Z" fill="#fbfbfb"/><path d="M1916.7 1884.9C1927.7 1891.9 1926.7 1909.9 1916.7 1909.9C1906.7 1909.9 1905.7 1891.9 1916.7 1884.9Z" fill="#fbfbfb"/><path d="M1946.8 1884.9C1957.8 1891.9 1956.8 1909.9 1946.8 1909.9C1936.8 1909.9 1935.8 1891.9 1946.8 1884.9Z" fill="#fbfbfb"/><path d="M1977.0 1884.9C1988.0 1891.9 1987.0 1909.9 1977.0 1909.9C1967.0 1909.9 1966.0 1891.9 1977.0 1884.9Z" fill="#fbfbfb"/><path d="M2007.2 1884.9C2018.2 1891.9 2017.2 1909.9 2007.2 1909.9C1997.2 1909.9 1996.2 1891.9 2007.2 1884.9Z" fill="#fbfbfb"/><path d="M2037.3 1884.9C2048.3 1891.9 2047.3 1909.9 2037.3 1909.9C2027.3 1909.9 2026.3 1891.9 2037.3 1884.9Z" fill="#fbfbfb"/><path d="M2067.4 1884.9C2078.4 1891.9 2077.4 1909.9 2067.4 1909.9C2057.4 1909.9 2056.4 1891.9 2067.4 1884.9Z" fill="#fbfbfb"/><path d="M2097.6 1884.9C2108.6 1891.9 2107.6 1909.9 2097.6 1909.9C2087.6 1909.9 2086.6 1891.9 2097.6 1884.9Z" fill="#fbfbfb"/><path d="M2127.8 1884.9C2138.8 1891.9 2137.8 1909.9 2127.8 1909.9C2117.8 1909.9 2116.8 1891.9 2127.8 1884.9Z" fill="#fbfbfb"/><path d="M2157.9 1884.9C2168.9 1891.9 2167.9 1909.9 2157.9 1909.9C2147.9 1909.9 2146.9 1891.9 2157.9 1884.9Z" fill="#fbfbfb"/><path d="M2188.1 1884.9C2199.1 1891.9 2198.1 1909.9 2188.1 1909.9C2178.1 1909.9 2177.1 1891.9 2188.1 1884.9Z" fill="#fbfbfb"/><path d="M2218.2 1884.9C2229.2 1891.9 2228.2 1909.9 2218.2 1909.9C2208.2 1909.9 2207.2 1891.9 2218.2 1884.9Z" fill="#fbfbfb"/><path d="M2248.3 1884.9C2259.3 1891.9 2258.3 1909.9 2248.3 1909.9C2238.3 1909.9 2237.3 1891.9 2248.3 1884.9Z" fill="#fbfbfb"/><path d="M2278.5 1884.9C2289.5 1891.9 2288.5 1909.9 2278.5 1909.9C2268.5 1909.9 2267.5 1891.9 2278.5 1884.9Z" fill="#fbfbfb"/><path d="M2308.7 1884.9C2319.7 1891.9 2318.7 1909.9 2308.7 1909.9C2298.7 1909.9 2297.7 1891.9 2308.7 1884.9Z" fill="#fbfbfb"/><path d="M2338.8 1884.9C2349.8 1891.9 2348.8 1909.9 2338.8 1909.9C2328.8 1909.9 2327.8 1891.9 2338.8 1884.9Z" fill="#fbfbfb"/><path d="M2368.9 1884.9C2379.9 1891.9 2378.9 1909.9 2368.9 1909.9C2358.9 1909.9 2357.9 1891.9 2368.9 1884.9Z" fill="#fbfbfb"/><path d="M2399.1 1884.9C2410.1 1891.9 2409.1 1909.9 2399.1 1909.9C2389.1 1909.9 2388.1 1891.9 2399.1 1884.9Z" fill="#fbfbfb"/><path d="M2429.2 1884.9C2440.2 1891.9 2439.2 1909.9 2429.2 1909.9C2419.2 1909.9 2418.2 1891.9 2429.2 1884.9Z" fill="#fbfbfb"/><path d="M2459.4 1884.9C2470.4 1891.9 2469.4 1909.9 2459.4 1909.9C2449.4 1909.9 2448.4 1891.9 2459.4 1884.9Z" fill="#fbfbfb"/><path d="M2489.6 1884.9C2500.6 1891.9 2499.6 1909.9 2489.6 1909.9C2479.6 1909.9 2478.6 1891.9 2489.6 1884.9Z" fill="#fbfbfb"/><path d="M2519.7 1884.9C2530.7 1891.9 2529.7 1909.9 2519.7 1909.9C2509.7 1909.9 2508.7 1891.9 2519.7 1884.9Z" fill="#fbfbfb"/><path d="M2549.8 1884.9C2560.8 1891.9 2559.8 1909.9 2549.8 1909.9C2539.8 1909.9 2538.8 1891.9 2549.8 1884.9Z" fill="#fbfbfb"/><path d="M2580.0 1884.9C2591.0 1891.9 2590.0 1909.9 2580.0 1909.9C2570.0 1909.9 2569.0 1891.9 2580.0 1884.9Z" fill="#fbfbfb"/><rect x="1715.7" y="1895.9" width="10" height="10" fill="#696969"/><rect x="1745.8" y="1895.9" width="10" height="10" fill="#696969"/><rect x="1776.0" y="1895.9" width="10" height="10" fill="#696969"/><rect x="1806.1" y="1895.9" width="10" height="10" fill="#696969"/><rect x="1836.2" y="1895.9" width="10" height="10" fill="#696969"/><rect x="1866.4" y="1895.9" width="10" height="10" fill="#696969"/><rect x="1896.6" y="1895.9" width="10" height="10" fill="#696969"/><rect x="1926.7" y="1895.9" width="10" height="10" fill="#696969"/><rect x="1956.8" y="1895.9" width="10" height="10" fill="#696969"/><rect x="1987.0" y="1895.9" width="10" height="10" fill="#696969"/><rect x="2017.2" y="1895.9" width="10" height="10" fill="#696969"/><rect x="2047.3" y="1895.9" width="10" height="10" fill="#696969"/><rect x="2077.4" y="1895.9" width="10" height="10" fill="#696969"/><rect x="2107.6" y="1895.9" width="10" height="10" fill="#696969"/><rect x="2137.8" y="1895.9" width="10" height="10" fill="#696969"/><rect x="2167.9" y="1895.9" width="10" height="10" fill="#696969"/><rect x="2198.1" y="1895.9" width="10" height="10" fill="#696969"/><rect x="2228.2" y="1895.9" width="10" height="10" fill="#696969"/><rect x="2258.3" y="1895.9" width="10" height="10" fill="#696969"/><rect x="2288.5" y="1895.9" width="10" height="10" fill="#696969"/><rect x="2318.7" y="1895.9" width="10" height="10" fill="#696969"/><rect x="2348.8" y="1895.9" width="10" height="10" fill="#696969"/><rect x="2378.9" y="1895.9" width="10" height="10" fill="#696969"/><rect x="2409.1" y="1895.9" width="10" height="10" fill="#696969"/><rect x="2439.2" y="1895.9" width="10" height="10" fill="#696969"/><rect x="2469.4" y="1895.9" width="10" height="10" fill="#696969"/><rect x="2499.6" y="1895.9" width="10" height="10" fill="#696969"/><rect x="2529.7" y="1895.9" width="10" height="10" fill="#696969"/><rect x="2559.8" y="1895.9" width="10" height="10" fill="#696969"/><rect x="2590.0" y="1895.9" width="10" height="10" fill="#696969"/><rect x="1704.7" y="1915.7" width="906.3" height="30" fill="url(#rowg)"/><path d="M1735.8 1914.7C1746.8 1921.7 1745.8 1939.7 1735.8 1939.7C1725.8 1939.7 1724.8 1921.7 1735.8 1914.7Z" fill="#fbfbfb"/><path d="M1766.0 1914.7C1777.0 1921.7 1776.0 1939.7 1766.0 1939.7C1756.0 1939.7 1755.0 1921.7 1766.0 1914.7Z" fill="#fbfbfb"/><path d="M1796.1 1914.7C1807.1 1921.7 1806.1 1939.7 1796.1 1939.7C1786.1 1939.7 1785.1 1921.7 1796.1 1914.7Z" fill="#fbfbfb"/><path d="M1826.2 1914.7C1837.2 1921.7 1836.2 1939.7 1826.2 1939.7C1816.2 1939.7 1815.2 1921.7 1826.2 1914.7Z" fill="#fbfbfb"/><path d="M1856.4 1914.7C1867.4 1921.7 1866.4 1939.7 1856.4 1939.7C1846.4 1939.7 1845.4 1921.7 1856.4 1914.7Z" fill="#fbfbfb"/><path d="M1886.6 1914.7C1897.6 1921.7 1896.6 1939.7 1886.6 1939.7C1876.6 1939.7 1875.6 1921.7 1886.6 1914.7Z" fill="#fbfbfb"/><path d="M1916.7 1914.7C1927.7 1921.7 1926.7 1939.7 1916.7 1939.7C1906.7 1939.7 1905.7 1921.7 1916.7 1914.7Z" fill="#fbfbfb"/><path d="M1946.8 1914.7C1957.8 1921.7 1956.8 1939.7 1946.8 1939.7C1936.8 1939.7 1935.8 1921.7 1946.8 1914.7Z" fill="#fbfbfb"/><path d="M1977.0 1914.7C1988.0 1921.7 1987.0 1939.7 1977.0 1939.7C1967.0 1939.7 1966.0 1921.7 1977.0 1914.7Z" fill="#fbfbfb"/><path d="M2007.2 1914.7C2018.2 1921.7 2017.2 1939.7 2007.2 1939.7C1997.2 1939.7 1996.2 1921.7 2007.2 1914.7Z" fill="#fbfbfb"/><path d="M2037.3 1914.7C2048.3 1921.7 2047.3 1939.7 2037.3 1939.7C2027.3 1939.7 2026.3 1921.7 2037.3 1914.7Z" fill="#fbfbfb"/><path d="M2067.4 1914.7C2078.4 1921.7 2077.4 1939.7 2067.4 1939.7C2057.4 1939.7 2056.4 1921.7 2067.4 1914.7Z" fill="#fbfbfb"/><path d="M2097.6 1914.7C2108.6 1921.7 2107.6 1939.7 2097.6 1939.7C2087.6 1939.7 2086.6 1921.7 2097.6 1914.7Z" fill="#fbfbfb"/><path d="M2127.8 1914.7C2138.8 1921.7 2137.8 1939.7 2127.8 1939.7C2117.8 1939.7 2116.8 1921.7 2127.8 1914.7Z" fill="#fbfbfb"/><path d="M2157.9 1914.7C2168.9 1921.7 2167.9 1939.7 2157.9 1939.7C2147.9 1939.7 2146.9 1921.7 2157.9 1914.7Z" fill="#fbfbfb"/><path d="M2188.1 1914.7C2199.1 1921.7 2198.1 1939.7 2188.1 1939.7C2178.1 1939.7 2177.1 1921.7 2188.1 1914.7Z" fill="#fbfbfb"/><path d="M2218.2 1914.7C2229.2 1921.7 2228.2 1939.7 2218.2 1939.7C2208.2 1939.7 2207.2 1921.7 2218.2 1914.7Z" fill="#fbfbfb"/><path d="M2248.3 1914.7C2259.3 1921.7 2258.3 1939.7 2248.3 1939.7C2238.3 1939.7 2237.3 1921.7 2248.3 1914.7Z" fill="#fbfbfb"/><path d="M2278.5 1914.7C2289.5 1921.7 2288.5 1939.7 2278.5 1939.7C2268.5 1939.7 2267.5 1921.7 2278.5 1914.7Z" fill="#fbfbfb"/><path d="M2308.7 1914.7C2319.7 1921.7 2318.7 1939.7 2308.7 1939.7C2298.7 1939.7 2297.7 1921.7 2308.7 1914.7Z" fill="#fbfbfb"/><path d="M2338.8 1914.7C2349.8 1921.7 2348.8 1939.7 2338.8 1939.7C2328.8 1939.7 2327.8 1921.7 2338.8 1914.7Z" fill="#fbfbfb"/><path d="M2368.9 1914.7C2379.9 1921.7 2378.9 1939.7 2368.9 1939.7C2358.9 1939.7 2357.9 1921.7 2368.9 1914.7Z" fill="#fbfbfb"/><path d="M2399.1 1914.7C2410.1 1921.7 2409.1 1939.7 2399.1 1939.7C2389.1 1939.7 2388.1 1921.7 2399.1 1914.7Z" fill="#fbfbfb"/><path d="M2429.2 1914.7C2440.2 1921.7 2439.2 1939.7 2429.2 1939.7C2419.2 1939.7 2418.2 1921.7 2429.2 1914.7Z" fill="#fbfbfb"/><path d="M2459.4 1914.7C2470.4 1921.7 2469.4 1939.7 2459.4 1939.7C2449.4 1939.7 2448.4 1921.7 2459.4 1914.7Z" fill="#fbfbfb"/><path d="M2489.6 1914.7C2500.6 1921.7 2499.6 1939.7 2489.6 1939.7C2479.6 1939.7 2478.6 1921.7 2489.6 1914.7Z" fill="#fbfbfb"/><path d="M2519.7 1914.7C2530.7 1921.7 2529.7 1939.7 2519.7 1939.7C2509.7 1939.7 2508.7 1921.7 2519.7 1914.7Z" fill="#fbfbfb"/><path d="M2549.8 1914.7C2560.8 1921.7 2559.8 1939.7 2549.8 1939.7C2539.8 1939.7 2538.8 1921.7 2549.8 1914.7Z" fill="#fbfbfb"/><path d="M2580.0 1914.7C2591.0 1921.7 2590.0 1939.7 2580.0 1939.7C2570.0 1939.7 2569.0 1921.7 2580.0 1914.7Z" fill="#fbfbfb"/><rect x="1715.7" y="1925.7" width="10" height="10" fill="#696969"/><rect x="1745.8" y="1925.7" width="10" height="10" fill="#696969"/><rect x="1776.0" y="1925.7" width="10" height="10" fill="#696969"/><rect x="1806.1" y="1925.7" width="10" height="10" fill="#696969"/><rect x="1836.2" y="1925.7" width="10" height="10" fill="#696969"/><rect x="1866.4" y="1925.7" width="10" height="10" fill="#696969"/><rect x="1896.6" y="1925.7" width="10" height="10" fill="#696969"/><rect x="1926.7" y="1925.7" width="10" height="10" fill="#696969"/><rect x="1956.8" y="1925.7" width="10" height="10" fill="#696969"/><rect x="1987.0" y="1925.7" width="10" height="10" fill="#696969"/><rect x="2017.2" y="1925.7" width="10" height="10" fill="#696969"/><rect x="2047.3" y="1925.7" width="10" height="10" fill="#696969"/><rect x="2077.4" y="1925.7" width="10" height="10" fill="#696969"/><rect x="2107.6" y="1925.7" width="10" height="10" fill="#696969"/><rect x="2137.8" y="1925.7" width="10" height="10" fill="#696969"/><rect x="2167.9" y="1925.7" width="10" height="10" fill="#696969"/><rect x="2198.1" y="1925.7" width="10" height="10" fill="#696969"/><rect x="2228.2" y="1925.7" width="10" height="10" fill="#696969"/><rect x="2258.3" y="1925.7" width="10" height="10" fill="#696969"/><rect x="2288.5" y="1925.7" width="10" height="10" fill="#696969"/><rect x="2318.7" y="1925.7" width="10" height="10" fill="#696969"/><rect x="2348.8" y="1925.7" width="10" height="10" fill="#696969"/><rect x="2378.9" y="1925.7" width="10" height="10" fill="#696969"/><rect x="2409.1" y="1925.7" width="10" height="10" fill="#696969"/><rect x="2439.2" y="1925.7" width="10" height="10" fill="#696969"/><rect x="2469.4" y="1925.7" width="10" height="10" fill="#696969"/><rect x="2499.6" y="1925.7" width="10" height="10" fill="#696969"/><rect x="2529.7" y="1925.7" width="10" height="10" fill="#696969"/><rect x="2559.8" y="1925.7" width="10" height="10" fill="#696969"/><rect x="2590.0" y="1925.7" width="10" height="10" fill="#696969"/><rect x="1716.3" y="1467.3" width="152.4" height="30" fill="url(#rowg)"/><rect x="1897.3" y="1467.3" width="152.4" height="30" fill="url(#rowg)"/><rect x="2078.3" y="1467.3" width="152.4" height="30" fill="url(#rowg)"/><rect x="2259.3" y="1467.3" width="152.4" height="30" fill="url(#rowg)"/><rect x="2440.3" y="1467.3" width="152.4" height="30" fill="url(#rowg)"/><path d="M1717.3 1466.3C1728.3 1473.3 1727.3 1491.3 1717.3 1491.3C1707.3 1491.3 1706.3 1473.3 1717.3 1466.3Z" fill="#fbfbfb"/><path d="M1747.4 1466.3C1758.4 1473.3 1757.4 1491.3 1747.4 1491.3C1737.4 1491.3 1736.4 1473.3 1747.4 1466.3Z" fill="#fbfbfb"/><path d="M1777.5 1466.3C1788.5 1473.3 1787.5 1491.3 1777.5 1491.3C1767.5 1491.3 1766.5 1473.3 1777.5 1466.3Z" fill="#fbfbfb"/><path d="M1807.6 1466.3C1818.6 1473.3 1817.6 1491.3 1807.6 1491.3C1797.6 1491.3 1796.6 1473.3 1807.6 1466.3Z" fill="#fbfbfb"/><path d="M1837.7 1466.3C1848.7 1473.3 1847.7 1491.3 1837.7 1491.3C1827.7 1491.3 1826.7 1473.3 1837.7 1466.3Z" fill="#fbfbfb"/><path d="M1867.7 1466.3C1878.7 1473.3 1877.7 1491.3 1867.7 1491.3C1857.7 1491.3 1856.7 1473.3 1867.7 1466.3Z" fill="#fbfbfb"/><path d="M1898.3 1466.3C1909.3 1473.3 1908.3 1491.3 1898.3 1491.3C1888.3 1491.3 1887.3 1473.3 1898.3 1466.3Z" fill="#fbfbfb"/><path d="M1928.4 1466.3C1939.4 1473.3 1938.4 1491.3 1928.4 1491.3C1918.4 1491.3 1917.4 1473.3 1928.4 1466.3Z" fill="#fbfbfb"/><path d="M1958.5 1466.3C1969.5 1473.3 1968.5 1491.3 1958.5 1491.3C1948.5 1491.3 1947.5 1473.3 1958.5 1466.3Z" fill="#fbfbfb"/><path d="M1988.6 1466.3C1999.6 1473.3 1998.6 1491.3 1988.6 1491.3C1978.6 1491.3 1977.6 1473.3 1988.6 1466.3Z" fill="#fbfbfb"/><path d="M2018.7 1466.3C2029.7 1473.3 2028.7 1491.3 2018.7 1491.3C2008.7 1491.3 2007.7 1473.3 2018.7 1466.3Z" fill="#fbfbfb"/><path d="M2048.7 1466.3C2059.7 1473.3 2058.7 1491.3 2048.7 1491.3C2038.7 1491.3 2037.7 1473.3 2048.7 1466.3Z" fill="#fbfbfb"/><path d="M2079.3 1466.3C2090.3 1473.3 2089.3 1491.3 2079.3 1491.3C2069.3 1491.3 2068.3 1473.3 2079.3 1466.3Z" fill="#fbfbfb"/><path d="M2109.4 1466.3C2120.4 1473.3 2119.4 1491.3 2109.4 1491.3C2099.4 1491.3 2098.4 1473.3 2109.4 1466.3Z" fill="#fbfbfb"/><path d="M2139.5 1466.3C2150.5 1473.3 2149.5 1491.3 2139.5 1491.3C2129.5 1491.3 2128.5 1473.3 2139.5 1466.3Z" fill="#fbfbfb"/><path d="M2169.6 1466.3C2180.6 1473.3 2179.6 1491.3 2169.6 1491.3C2159.6 1491.3 2158.6 1473.3 2169.6 1466.3Z" fill="#fbfbfb"/><path d="M2199.7 1466.3C2210.7 1473.3 2209.7 1491.3 2199.7 1491.3C2189.7 1491.3 2188.7 1473.3 2199.7 1466.3Z" fill="#fbfbfb"/><path d="M2229.7 1466.3C2240.7 1473.3 2239.7 1491.3 2229.7 1491.3C2219.7 1491.3 2218.7 1473.3 2229.7 1466.3Z" fill="#fbfbfb"/><path d="M2260.3 1466.3C2271.3 1473.3 2270.3 1491.3 2260.3 1491.3C2250.3 1491.3 2249.3 1473.3 2260.3 1466.3Z" fill="#fbfbfb"/><path d="M2290.4 1466.3C2301.4 1473.3 2300.4 1491.3 2290.4 1491.3C2280.4 1491.3 2279.4 1473.3 2290.4 1466.3Z" fill="#fbfbfb"/><path d="M2320.5 1466.3C2331.5 1473.3 2330.5 1491.3 2320.5 1491.3C2310.5 1491.3 2309.5 1473.3 2320.5 1466.3Z" fill="#fbfbfb"/><path d="M2350.6 1466.3C2361.6 1473.3 2360.6 1491.3 2350.6 1491.3C2340.6 1491.3 2339.6 1473.3 2350.6 1466.3Z" fill="#fbfbfb"/><path d="M2380.7 1466.3C2391.7 1473.3 2390.7 1491.3 2380.7 1491.3C2370.7 1491.3 2369.7 1473.3 2380.7 1466.3Z" fill="#fbfbfb"/><path d="M2410.7 1466.3C2421.7 1473.3 2420.7 1491.3 2410.7 1491.3C2400.7 1491.3 2399.7 1473.3 2410.7 1466.3Z" fill="#fbfbfb"/><path d="M2441.3 1466.3C2452.3 1473.3 2451.3 1491.3 2441.3 1491.3C2431.3 1491.3 2430.3 1473.3 2441.3 1466.3Z" fill="#fbfbfb"/><path d="M2471.4 1466.3C2482.4 1473.3 2481.4 1491.3 2471.4 1491.3C2461.4 1491.3 2460.4 1473.3 2471.4 1466.3Z" fill="#fbfbfb"/><path d="M2501.5 1466.3C2512.5 1473.3 2511.5 1491.3 2501.5 1491.3C2491.5 1491.3 2490.5 1473.3 2501.5 1466.3Z" fill="#fbfbfb"/><path d="M2531.6 1466.3C2542.6 1473.3 2541.6 1491.3 2531.6 1491.3C2521.6 1491.3 2520.6 1473.3 2531.6 1466.3Z" fill="#fbfbfb"/><path d="M2561.7 1466.3C2572.7 1473.3 2571.7 1491.3 2561.7 1491.3C2551.7 1491.3 2550.7 1473.3 2561.7 1466.3Z" fill="#fbfbfb"/><path d="M2591.7 1466.3C2602.7 1473.3 2601.7 1491.3 2591.7 1491.3C2581.7 1491.3 2580.7 1473.3 2591.7 1466.3Z" fill="#fbfbfb"/><rect x="1727.3" y="1477.3" width="10" height="10" fill="#696969"/><rect x="1757.4" y="1477.3" width="10" height="10" fill="#696969"/><rect x="1787.5" y="1477.3" width="10" height="10" fill="#696969"/><rect x="1817.6" y="1477.3" width="10" height="10" fill="#696969"/><rect x="1847.7" y="1477.3" width="10" height="10" fill="#696969"/><rect x="1908.3" y="1477.3" width="10" height="10" fill="#696969"/><rect x="1938.4" y="1477.3" width="10" height="10" fill="#696969"/><rect x="1968.5" y="1477.3" width="10" height="10" fill="#696969"/><rect x="1998.6" y="1477.3" width="10" height="10" fill="#696969"/><rect x="2028.7" y="1477.3" width="10" height="10" fill="#696969"/><rect x="2089.3" y="1477.3" width="10" height="10" fill="#696969"/><rect x="2119.4" y="1477.3" width="10" height="10" fill="#696969"/><rect x="2149.5" y="1477.3" width="10" height="10" fill="#696969"/><rect x="2179.6" y="1477.3" width="10" height="10" fill="#696969"/><rect x="2209.7" y="1477.3" width="10" height="10" fill="#696969"/><rect x="2270.3" y="1477.3" width="10" height="10" fill="#696969"/><rect x="2300.4" y="1477.3" width="10" height="10" fill="#696969"/><rect x="2330.5" y="1477.3" width="10" height="10" fill="#696969"/><rect x="2360.6" y="1477.3" width="10" height="10" fill="#696969"/><rect x="2390.7" y="1477.3" width="10" height="10" fill="#696969"/><rect x="2451.3" y="1477.3" width="10" height="10" fill="#696969"/><rect x="2481.4" y="1477.3" width="10" height="10" fill="#696969"/><rect x="2511.5" y="1477.3" width="10" height="10" fill="#696969"/><rect x="2541.6" y="1477.3" width="10" height="10" fill="#696969"/><rect x="2571.7" y="1477.3" width="10" height="10" fill="#696969"/><rect x="1716.3" y="1496.9" width="152.4" height="30" fill="url(#rowg)"/><rect x="1897.3" y="1496.9" width="152.4" height="30" fill="url(#rowg)"/><rect x="2078.3" y="1496.9" width="152.4" height="30" fill="url(#rowg)"/><rect x="2259.3" y="1496.9" width="152.4" height="30" fill="url(#rowg)"/><rect x="2440.3" y="1496.9" width="152.4" height="30" fill="url(#rowg)"/><path d="M1717.3 1495.9C1728.3 1502.9 1727.3 1520.9 1717.3 1520.9C1707.3 1520.9 1706.3 1502.9 1717.3 1495.9Z" fill="#fbfbfb"/><path d="M1747.4 1495.9C1758.4 1502.9 1757.4 1520.9 1747.4 1520.9C1737.4 1520.9 1736.4 1502.9 1747.4 1495.9Z" fill="#fbfbfb"/><path d="M1777.5 1495.9C1788.5 1502.9 1787.5 1520.9 1777.5 1520.9C1767.5 1520.9 1766.5 1502.9 1777.5 1495.9Z" fill="#fbfbfb"/><path d="M1807.6 1495.9C1818.6 1502.9 1817.6 1520.9 1807.6 1520.9C1797.6 1520.9 1796.6 1502.9 1807.6 1495.9Z" fill="#fbfbfb"/><path d="M1837.7 1495.9C1848.7 1502.9 1847.7 1520.9 1837.7 1520.9C1827.7 1520.9 1826.7 1502.9 1837.7 1495.9Z" fill="#fbfbfb"/><path d="M1867.7 1495.9C1878.7 1502.9 1877.7 1520.9 1867.7 1520.9C1857.7 1520.9 1856.7 1502.9 1867.7 1495.9Z" fill="#fbfbfb"/><path d="M1898.3 1495.9C1909.3 1502.9 1908.3 1520.9 1898.3 1520.9C1888.3 1520.9 1887.3 1502.9 1898.3 1495.9Z" fill="#fbfbfb"/><path d="M1928.4 1495.9C1939.4 1502.9 1938.4 1520.9 1928.4 1520.9C1918.4 1520.9 1917.4 1502.9 1928.4 1495.9Z" fill="#fbfbfb"/><path d="M1958.5 1495.9C1969.5 1502.9 1968.5 1520.9 1958.5 1520.9C1948.5 1520.9 1947.5 1502.9 1958.5 1495.9Z" fill="#fbfbfb"/><path d="M1988.6 1495.9C1999.6 1502.9 1998.6 1520.9 1988.6 1520.9C1978.6 1520.9 1977.6 1502.9 1988.6 1495.9Z" fill="#fbfbfb"/><path d="M2018.7 1495.9C2029.7 1502.9 2028.7 1520.9 2018.7 1520.9C2008.7 1520.9 2007.7 1502.9 2018.7 1495.9Z" fill="#fbfbfb"/><path d="M2048.7 1495.9C2059.7 1502.9 2058.7 1520.9 2048.7 1520.9C2038.7 1520.9 2037.7 1502.9 2048.7 1495.9Z" fill="#fbfbfb"/><path d="M2079.3 1495.9C2090.3 1502.9 2089.3 1520.9 2079.3 1520.9C2069.3 1520.9 2068.3 1502.9 2079.3 1495.9Z" fill="#fbfbfb"/><path d="M2109.4 1495.9C2120.4 1502.9 2119.4 1520.9 2109.4 1520.9C2099.4 1520.9 2098.4 1502.9 2109.4 1495.9Z" fill="#fbfbfb"/><path d="M2139.5 1495.9C2150.5 1502.9 2149.5 1520.9 2139.5 1520.9C2129.5 1520.9 2128.5 1502.9 2139.5 1495.9Z" fill="#fbfbfb"/><path d="M2169.6 1495.9C2180.6 1502.9 2179.6 1520.9 2169.6 1520.9C2159.6 1520.9 2158.6 1502.9 2169.6 1495.9Z" fill="#fbfbfb"/><path d="M2199.7 1495.9C2210.7 1502.9 2209.7 1520.9 2199.7 1520.9C2189.7 1520.9 2188.7 1502.9 2199.7 1495.9Z" fill="#fbfbfb"/><path d="M2229.7 1495.9C2240.7 1502.9 2239.7 1520.9 2229.7 1520.9C2219.7 1520.9 2218.7 1502.9 2229.7 1495.9Z" fill="#fbfbfb"/><path d="M2260.3 1495.9C2271.3 1502.9 2270.3 1520.9 2260.3 1520.9C2250.3 1520.9 2249.3 1502.9 2260.3 1495.9Z" fill="#fbfbfb"/><path d="M2290.4 1495.9C2301.4 1502.9 2300.4 1520.9 2290.4 1520.9C2280.4 1520.9 2279.4 1502.9 2290.4 1495.9Z" fill="#fbfbfb"/><path d="M2320.5 1495.9C2331.5 1502.9 2330.5 1520.9 2320.5 1520.9C2310.5 1520.9 2309.5 1502.9 2320.5 1495.9Z" fill="#fbfbfb"/><path d="M2350.6 1495.9C2361.6 1502.9 2360.6 1520.9 2350.6 1520.9C2340.6 1520.9 2339.6 1502.9 2350.6 1495.9Z" fill="#fbfbfb"/><path d="M2380.7 1495.9C2391.7 1502.9 2390.7 1520.9 2380.7 1520.9C2370.7 1520.9 2369.7 1502.9 2380.7 1495.9Z" fill="#fbfbfb"/><path d="M2410.7 1495.9C2421.7 1502.9 2420.7 1520.9 2410.7 1520.9C2400.7 1520.9 2399.7 1502.9 2410.7 1495.9Z" fill="#fbfbfb"/><path d="M2441.3 1495.9C2452.3 1502.9 2451.3 1520.9 2441.3 1520.9C2431.3 1520.9 2430.3 1502.9 2441.3 1495.9Z" fill="#fbfbfb"/><path d="M2471.4 1495.9C2482.4 1502.9 2481.4 1520.9 2471.4 1520.9C2461.4 1520.9 2460.4 1502.9 2471.4 1495.9Z" fill="#fbfbfb"/><path d="M2501.5 1495.9C2512.5 1502.9 2511.5 1520.9 2501.5 1520.9C2491.5 1520.9 2490.5 1502.9 2501.5 1495.9Z" fill="#fbfbfb"/><path d="M2531.6 1495.9C2542.6 1502.9 2541.6 1520.9 2531.6 1520.9C2521.6 1520.9 2520.6 1502.9 2531.6 1495.9Z" fill="#fbfbfb"/><path d="M2561.7 1495.9C2572.7 1502.9 2571.7 1520.9 2561.7 1520.9C2551.7 1520.9 2550.7 1502.9 2561.7 1495.9Z" fill="#fbfbfb"/><path d="M2591.7 1495.9C2602.7 1502.9 2601.7 1520.9 2591.7 1520.9C2581.7 1520.9 2580.7 1502.9 2591.7 1495.9Z" fill="#fbfbfb"/><rect x="1727.3" y="1506.9" width="10" height="10" fill="#696969"/><rect x="1757.4" y="1506.9" width="10" height="10" fill="#696969"/><rect x="1787.5" y="1506.9" width="10" height="10" fill="#696969"/><rect x="1817.6" y="1506.9" width="10" height="10" fill="#696969"/><rect x="1847.7" y="1506.9" width="10" height="10" fill="#696969"/><rect x="1908.3" y="1506.9" width="10" height="10" fill="#696969"/><rect x="1938.4" y="1506.9" width="10" height="10" fill="#696969"/><rect x="1968.5" y="1506.9" width="10" height="10" fill="#696969"/><rect x="1998.6" y="1506.9" width="10" height="10" fill="#696969"/><rect x="2028.7" y="1506.9" width="10" height="10" fill="#696969"/><rect x="2089.3" y="1506.9" width="10" height="10" fill="#696969"/><rect x="2119.4" y="1506.9" width="10" height="10" fill="#696969"/><rect x="2149.5" y="1506.9" width="10" height="10" fill="#696969"/><rect x="2179.6" y="1506.9" width="10" height="10" fill="#696969"/><rect x="2209.7" y="1506.9" width="10" height="10" fill="#696969"/><rect x="2270.3" y="1506.9" width="10" height="10" fill="#696969"/><rect x="2300.4" y="1506.9" width="10" height="10" fill="#696969"/><rect x="2330.5" y="1506.9" width="10" height="10" fill="#696969"/><rect x="2360.6" y="1506.9" width="10" height="10" fill="#696969"/><rect x="2390.7" y="1506.9" width="10" height="10" fill="#696969"/><rect x="2451.3" y="1506.9" width="10" height="10" fill="#696969"/><rect x="2481.4" y="1506.9" width="10" height="10" fill="#696969"/><rect x="2511.5" y="1506.9" width="10" height="10" fill="#696969"/><rect x="2541.6" y="1506.9" width="10" height="10" fill="#696969"/><rect x="2571.7" y="1506.9" width="10" height="10" fill="#696969"/><rect x="1716.3" y="2004.3" width="152.4" height="30" fill="url(#rowg)"/><rect x="1897.3" y="2004.3" width="152.4" height="30" fill="url(#rowg)"/><rect x="2078.3" y="2004.3" width="152.4" height="30" fill="url(#rowg)"/><rect x="2259.3" y="2004.3" width="152.4" height="30" fill="url(#rowg)"/><rect x="2440.3" y="2004.3" width="152.4" height="30" fill="url(#rowg)"/><path d="M1717.3 2003.3C1728.3 2010.3 1727.3 2028.3 1717.3 2028.3C1707.3 2028.3 1706.3 2010.3 1717.3 2003.3Z" fill="#fbfbfb"/><path d="M1747.4 2003.3C1758.4 2010.3 1757.4 2028.3 1747.4 2028.3C1737.4 2028.3 1736.4 2010.3 1747.4 2003.3Z" fill="#fbfbfb"/><path d="M1777.5 2003.3C1788.5 2010.3 1787.5 2028.3 1777.5 2028.3C1767.5 2028.3 1766.5 2010.3 1777.5 2003.3Z" fill="#fbfbfb"/><path d="M1807.6 2003.3C1818.6 2010.3 1817.6 2028.3 1807.6 2028.3C1797.6 2028.3 1796.6 2010.3 1807.6 2003.3Z" fill="#fbfbfb"/><path d="M1837.7 2003.3C1848.7 2010.3 1847.7 2028.3 1837.7 2028.3C1827.7 2028.3 1826.7 2010.3 1837.7 2003.3Z" fill="#fbfbfb"/><path d="M1867.7 2003.3C1878.7 2010.3 1877.7 2028.3 1867.7 2028.3C1857.7 2028.3 1856.7 2010.3 1867.7 2003.3Z" fill="#fbfbfb"/><path d="M1898.3 2003.3C1909.3 2010.3 1908.3 2028.3 1898.3 2028.3C1888.3 2028.3 1887.3 2010.3 1898.3 2003.3Z" fill="#fbfbfb"/><path d="M1928.4 2003.3C1939.4 2010.3 1938.4 2028.3 1928.4 2028.3C1918.4 2028.3 1917.4 2010.3 1928.4 2003.3Z" fill="#fbfbfb"/><path d="M1958.5 2003.3C1969.5 2010.3 1968.5 2028.3 1958.5 2028.3C1948.5 2028.3 1947.5 2010.3 1958.5 2003.3Z" fill="#fbfbfb"/><path d="M1988.6 2003.3C1999.6 2010.3 1998.6 2028.3 1988.6 2028.3C1978.6 2028.3 1977.6 2010.3 1988.6 2003.3Z" fill="#fbfbfb"/><path d="M2018.7 2003.3C2029.7 2010.3 2028.7 2028.3 2018.7 2028.3C2008.7 2028.3 2007.7 2010.3 2018.7 2003.3Z" fill="#fbfbfb"/><path d="M2048.7 2003.3C2059.7 2010.3 2058.7 2028.3 2048.7 2028.3C2038.7 2028.3 2037.7 2010.3 2048.7 2003.3Z" fill="#fbfbfb"/><path d="M2079.3 2003.3C2090.3 2010.3 2089.3 2028.3 2079.3 2028.3C2069.3 2028.3 2068.3 2010.3 2079.3 2003.3Z" fill="#fbfbfb"/><path d="M2109.4 2003.3C2120.4 2010.3 2119.4 2028.3 2109.4 2028.3C2099.4 2028.3 2098.4 2010.3 2109.4 2003.3Z" fill="#fbfbfb"/><path d="M2139.5 2003.3C2150.5 2010.3 2149.5 2028.3 2139.5 2028.3C2129.5 2028.3 2128.5 2010.3 2139.5 2003.3Z" fill="#fbfbfb"/><path d="M2169.6 2003.3C2180.6 2010.3 2179.6 2028.3 2169.6 2028.3C2159.6 2028.3 2158.6 2010.3 2169.6 2003.3Z" fill="#fbfbfb"/><path d="M2199.7 2003.3C2210.7 2010.3 2209.7 2028.3 2199.7 2028.3C2189.7 2028.3 2188.7 2010.3 2199.7 2003.3Z" fill="#fbfbfb"/><path d="M2229.7 2003.3C2240.7 2010.3 2239.7 2028.3 2229.7 2028.3C2219.7 2028.3 2218.7 2010.3 2229.7 2003.3Z" fill="#fbfbfb"/><path d="M2260.3 2003.3C2271.3 2010.3 2270.3 2028.3 2260.3 2028.3C2250.3 2028.3 2249.3 2010.3 2260.3 2003.3Z" fill="#fbfbfb"/><path d="M2290.4 2003.3C2301.4 2010.3 2300.4 2028.3 2290.4 2028.3C2280.4 2028.3 2279.4 2010.3 2290.4 2003.3Z" fill="#fbfbfb"/><path d="M2320.5 2003.3C2331.5 2010.3 2330.5 2028.3 2320.5 2028.3C2310.5 2028.3 2309.5 2010.3 2320.5 2003.3Z" fill="#fbfbfb"/><path d="M2350.6 2003.3C2361.6 2010.3 2360.6 2028.3 2350.6 2028.3C2340.6 2028.3 2339.6 2010.3 2350.6 2003.3Z" fill="#fbfbfb"/><path d="M2380.7 2003.3C2391.7 2010.3 2390.7 2028.3 2380.7 2028.3C2370.7 2028.3 2369.7 2010.3 2380.7 2003.3Z" fill="#fbfbfb"/><path d="M2410.7 2003.3C2421.7 2010.3 2420.7 2028.3 2410.7 2028.3C2400.7 2028.3 2399.7 2010.3 2410.7 2003.3Z" fill="#fbfbfb"/><path d="M2441.3 2003.3C2452.3 2010.3 2451.3 2028.3 2441.3 2028.3C2431.3 2028.3 2430.3 2010.3 2441.3 2003.3Z" fill="#fbfbfb"/><path d="M2471.4 2003.3C2482.4 2010.3 2481.4 2028.3 2471.4 2028.3C2461.4 2028.3 2460.4 2010.3 2471.4 2003.3Z" fill="#fbfbfb"/><path d="M2501.5 2003.3C2512.5 2010.3 2511.5 2028.3 2501.5 2028.3C2491.5 2028.3 2490.5 2010.3 2501.5 2003.3Z" fill="#fbfbfb"/><path d="M2531.6 2003.3C2542.6 2010.3 2541.6 2028.3 2531.6 2028.3C2521.6 2028.3 2520.6 2010.3 2531.6 2003.3Z" fill="#fbfbfb"/><path d="M2561.7 2003.3C2572.7 2010.3 2571.7 2028.3 2561.7 2028.3C2551.7 2028.3 2550.7 2010.3 2561.7 2003.3Z" fill="#fbfbfb"/><path d="M2591.7 2003.3C2602.7 2010.3 2601.7 2028.3 2591.7 2028.3C2581.7 2028.3 2580.7 2010.3 2591.7 2003.3Z" fill="#fbfbfb"/><rect x="1727.3" y="2014.3" width="10" height="10" fill="#696969"/><rect x="1757.4" y="2014.3" width="10" height="10" fill="#696969"/><rect x="1787.5" y="2014.3" width="10" height="10" fill="#696969"/><rect x="1817.6" y="2014.3" width="10" height="10" fill="#696969"/><rect x="1847.7" y="2014.3" width="10" height="10" fill="#696969"/><rect x="1908.3" y="2014.3" width="10" height="10" fill="#696969"/><rect x="1938.4" y="2014.3" width="10" height="10" fill="#696969"/><rect x="1968.5" y="2014.3" width="10" height="10" fill="#696969"/><rect x="1998.6" y="2014.3" width="10" height="10" fill="#696969"/><rect x="2028.7" y="2014.3" width="10" height="10" fill="#696969"/><rect x="2089.3" y="2014.3" width="10" height="10" fill="#696969"/><rect x="2119.4" y="2014.3" width="10" height="10" fill="#696969"/><rect x="2149.5" y="2014.3" width="10" height="10" fill="#696969"/><rect x="2179.6" y="2014.3" width="10" height="10" fill="#696969"/><rect x="2209.7" y="2014.3" width="10" height="10" fill="#696969"/><rect x="2270.3" y="2014.3" width="10" height="10" fill="#696969"/><rect x="2300.4" y="2014.3" width="10" height="10" fill="#696969"/><rect x="2330.5" y="2014.3" width="10" height="10" fill="#696969"/><rect x="2360.6" y="2014.3" width="10" height="10" fill="#696969"/><rect x="2390.7" y="2014.3" width="10" height="10" fill="#696969"/><rect x="2451.3" y="2014.3" width="10" height="10" fill="#696969"/><rect x="2481.4" y="2014.3" width="10" height="10" fill="#696969"/><rect x="2511.5" y="2014.3" width="10" height="10" fill="#696969"/><rect x="2541.6" y="2014.3" width="10" height="10" fill="#696969"/><rect x="2571.7" y="2014.3" width="10" height="10" fill="#696969"/><rect x="1716.3" y="2034.3" width="152.4" height="30" fill="url(#rowg)"/><rect x="1897.3" y="2034.3" width="152.4" height="30" fill="url(#rowg)"/><rect x="2078.3" y="2034.3" width="152.4" height="30" fill="url(#rowg)"/><rect x="2259.3" y="2034.3" width="152.4" height="30" fill="url(#rowg)"/><rect x="2440.3" y="2034.3" width="152.4" height="30" fill="url(#rowg)"/><path d="M1717.3 2033.3C1728.3 2040.3 1727.3 2058.3 1717.3 2058.3C1707.3 2058.3 1706.3 2040.3 1717.3 2033.3Z" fill="#fbfbfb"/><path d="M1747.4 2033.3C1758.4 2040.3 1757.4 2058.3 1747.4 2058.3C1737.4 2058.3 1736.4 2040.3 1747.4 2033.3Z" fill="#fbfbfb"/><path d="M1777.5 2033.3C1788.5 2040.3 1787.5 2058.3 1777.5 2058.3C1767.5 2058.3 1766.5 2040.3 1777.5 2033.3Z" fill="#fbfbfb"/><path d="M1807.6 2033.3C1818.6 2040.3 1817.6 2058.3 1807.6 2058.3C1797.6 2058.3 1796.6 2040.3 1807.6 2033.3Z" fill="#fbfbfb"/><path d="M1837.7 2033.3C1848.7 2040.3 1847.7 2058.3 1837.7 2058.3C1827.7 2058.3 1826.7 2040.3 1837.7 2033.3Z" fill="#fbfbfb"/><path d="M1867.7 2033.3C1878.7 2040.3 1877.7 2058.3 1867.7 2058.3C1857.7 2058.3 1856.7 2040.3 1867.7 2033.3Z" fill="#fbfbfb"/><path d="M1898.3 2033.3C1909.3 2040.3 1908.3 2058.3 1898.3 2058.3C1888.3 2058.3 1887.3 2040.3 1898.3 2033.3Z" fill="#fbfbfb"/><path d="M1928.4 2033.3C1939.4 2040.3 1938.4 2058.3 1928.4 2058.3C1918.4 2058.3 1917.4 2040.3 1928.4 2033.3Z" fill="#fbfbfb"/><path d="M1958.5 2033.3C1969.5 2040.3 1968.5 2058.3 1958.5 2058.3C1948.5 2058.3 1947.5 2040.3 1958.5 2033.3Z" fill="#fbfbfb"/><path d="M1988.6 2033.3C1999.6 2040.3 1998.6 2058.3 1988.6 2058.3C1978.6 2058.3 1977.6 2040.3 1988.6 2033.3Z" fill="#fbfbfb"/><path d="M2018.7 2033.3C2029.7 2040.3 2028.7 2058.3 2018.7 2058.3C2008.7 2058.3 2007.7 2040.3 2018.7 2033.3Z" fill="#fbfbfb"/><path d="M2048.7 2033.3C2059.7 2040.3 2058.7 2058.3 2048.7 2058.3C2038.7 2058.3 2037.7 2040.3 2048.7 2033.3Z" fill="#fbfbfb"/><path d="M2079.3 2033.3C2090.3 2040.3 2089.3 2058.3 2079.3 2058.3C2069.3 2058.3 2068.3 2040.3 2079.3 2033.3Z" fill="#fbfbfb"/><path d="M2109.4 2033.3C2120.4 2040.3 2119.4 2058.3 2109.4 2058.3C2099.4 2058.3 2098.4 2040.3 2109.4 2033.3Z" fill="#fbfbfb"/><path d="M2139.5 2033.3C2150.5 2040.3 2149.5 2058.3 2139.5 2058.3C2129.5 2058.3 2128.5 2040.3 2139.5 2033.3Z" fill="#fbfbfb"/><path d="M2169.6 2033.3C2180.6 2040.3 2179.6 2058.3 2169.6 2058.3C2159.6 2058.3 2158.6 2040.3 2169.6 2033.3Z" fill="#fbfbfb"/><path d="M2199.7 2033.3C2210.7 2040.3 2209.7 2058.3 2199.7 2058.3C2189.7 2058.3 2188.7 2040.3 2199.7 2033.3Z" fill="#fbfbfb"/><path d="M2229.7 2033.3C2240.7 2040.3 2239.7 2058.3 2229.7 2058.3C2219.7 2058.3 2218.7 2040.3 2229.7 2033.3Z" fill="#fbfbfb"/><path d="M2260.3 2033.3C2271.3 2040.3 2270.3 2058.3 2260.3 2058.3C2250.3 2058.3 2249.3 2040.3 2260.3 2033.3Z" fill="#fbfbfb"/><path d="M2290.4 2033.3C2301.4 2040.3 2300.4 2058.3 2290.4 2058.3C2280.4 2058.3 2279.4 2040.3 2290.4 2033.3Z" fill="#fbfbfb"/><path d="M2320.5 2033.3C2331.5 2040.3 2330.5 2058.3 2320.5 2058.3C2310.5 2058.3 2309.5 2040.3 2320.5 2033.3Z" fill="#fbfbfb"/><path d="M2350.6 2033.3C2361.6 2040.3 2360.6 2058.3 2350.6 2058.3C2340.6 2058.3 2339.6 2040.3 2350.6 2033.3Z" fill="#fbfbfb"/><path d="M2380.7 2033.3C2391.7 2040.3 2390.7 2058.3 2380.7 2058.3C2370.7 2058.3 2369.7 2040.3 2380.7 2033.3Z" fill="#fbfbfb"/><path d="M2410.7 2033.3C2421.7 2040.3 2420.7 2058.3 2410.7 2058.3C2400.7 2058.3 2399.7 2040.3 2410.7 2033.3Z" fill="#fbfbfb"/><path d="M2441.3 2033.3C2452.3 2040.3 2451.3 2058.3 2441.3 2058.3C2431.3 2058.3 2430.3 2040.3 2441.3 2033.3Z" fill="#fbfbfb"/><path d="M2471.4 2033.3C2482.4 2040.3 2481.4 2058.3 2471.4 2058.3C2461.4 2058.3 2460.4 2040.3 2471.4 2033.3Z" fill="#fbfbfb"/><path d="M2501.5 2033.3C2512.5 2040.3 2511.5 2058.3 2501.5 2058.3C2491.5 2058.3 2490.5 2040.3 2501.5 2033.3Z" fill="#fbfbfb"/><path d="M2531.6 2033.3C2542.6 2040.3 2541.6 2058.3 2531.6 2058.3C2521.6 2058.3 2520.6 2040.3 2531.6 2033.3Z" fill="#fbfbfb"/><path d="M2561.7 2033.3C2572.7 2040.3 2571.7 2058.3 2561.7 2058.3C2551.7 2058.3 2550.7 2040.3 2561.7 2033.3Z" fill="#fbfbfb"/><path d="M2591.7 2033.3C2602.7 2040.3 2601.7 2058.3 2591.7 2058.3C2581.7 2058.3 2580.7 2040.3 2591.7 2033.3Z" fill="#fbfbfb"/><rect x="1727.3" y="2044.3" width="10" height="10" fill="#696969"/><rect x="1757.4" y="2044.3" width="10" height="10" fill="#696969"/><rect x="1787.5" y="2044.3" width="10" height="10" fill="#696969"/><rect x="1817.6" y="2044.3" width="10" height="10" fill="#696969"/><rect x="1847.7" y="2044.3" width="10" height="10" fill="#696969"/><rect x="1908.3" y="2044.3" width="10" height="10" fill="#696969"/><rect x="1938.4" y="2044.3" width="10" height="10" fill="#696969"/><rect x="1968.5" y="2044.3" width="10" height="10" fill="#696969"/><rect x="1998.6" y="2044.3" width="10" height="10" fill="#696969"/><rect x="2028.7" y="2044.3" width="10" height="10" fill="#696969"/><rect x="2089.3" y="2044.3" width="10" height="10" fill="#696969"/><rect x="2119.4" y="2044.3" width="10" height="10" fill="#696969"/><rect x="2149.5" y="2044.3" width="10" height="10" fill="#696969"/><rect x="2179.6" y="2044.3" width="10" height="10" fill="#696969"/><rect x="2209.7" y="2044.3" width="10" height="10" fill="#696969"/><rect x="2270.3" y="2044.3" width="10" height="10" fill="#696969"/><rect x="2300.4" y="2044.3" width="10" height="10" fill="#696969"/><rect x="2330.5" y="2044.3" width="10" height="10" fill="#696969"/><rect x="2360.6" y="2044.3" width="10" height="10" fill="#696969"/><rect x="2390.7" y="2044.3" width="10" height="10" fill="#696969"/><rect x="2451.3" y="2044.3" width="10" height="10" fill="#696969"/><rect x="2481.4" y="2044.3" width="10" height="10" fill="#696969"/><rect x="2511.5" y="2044.3" width="10" height="10" fill="#696969"/><rect x="2541.6" y="2044.3" width="10" height="10" fill="#696969"/><rect x="2571.7" y="2044.3" width="10" height="10" fill="#696969"/><line x1="1723" y1="1454.6" x2="2596" y2="1454.6" stroke="#e45f68" stroke-width="5.5" stroke-linecap="round"/><line x1="1723" y1="1533.6" x2="2596" y2="1533.6" stroke="#4a6fd6" stroke-width="5.5" stroke-linecap="round"/><line x1="1723" y1="1995.3" x2="2596" y2="1995.3" stroke="#e45f68" stroke-width="5.5" stroke-linecap="round"/><line x1="1723" y1="2074.7" x2="2596" y2="2074.7" stroke="#4a6fd6" stroke-width="5.5" stroke-linecap="round"/><path d="M1682 1467h30M1697 1452v30" stroke="#e45f68" stroke-width="4" stroke-linecap="round"/><path d="M2606 1469h30M2621 1454v30" stroke="#e45f68" stroke-width="4" stroke-linecap="round"/><path d="M1684 2007h30M1699 1992v30" stroke="#e45f68" stroke-width="4" stroke-linecap="round"/><path d="M2607 2009h30M2622 1994v30" stroke="#e45f68" stroke-width="4" stroke-linecap="round"/><line x1="1696" y1="1508" x2="1696" y2="1535" stroke="#4a6fd6" stroke-width="3.5" stroke-linecap="round"/><line x1="2622" y1="1511" x2="2622" y2="1538" stroke="#4a6fd6" stroke-width="3.5" stroke-linecap="round"/><line x1="1698" y1="2048" x2="1698" y2="2075" stroke="#4a6fd6" stroke-width="3.5" stroke-linecap="round"/><line x1="2622" y1="2050" x2="2622" y2="2077" stroke="#4a6fd6" stroke-width="3.5" stroke-linecap="round"/><text transform="translate(1721.7 1569) rotate(90)" font-family="Liberation Sans, sans-serif" font-size="20" fill="#555" stroke="#555" stroke-width="0.5" text-anchor="middle" dominant-baseline="central">30</text><text transform="translate(1721.7 1958) rotate(90)" font-family="Liberation Sans, sans-serif" font-size="20" fill="#555" stroke="#555" stroke-width="0.5" text-anchor="middle" dominant-baseline="central">30</text><text transform="translate(1872.4 1569) rotate(90)" font-family="Liberation Sans, sans-serif" font-size="20" fill="#555" stroke="#555" stroke-width="0.5" text-anchor="middle" dominant-baseline="central">25</text><text transform="translate(1872.4 1958) rotate(90)" font-family="Liberation Sans, sans-serif" font-size="20" fill="#555" stroke="#555" stroke-width="0.5" text-anchor="middle" dominant-baseline="central">25</text><text transform="translate(2023.2 1569) rotate(90)" font-family="Liberation Sans, sans-serif" font-size="20" fill="#555" stroke="#555" stroke-width="0.5" text-anchor="middle" dominant-baseline="central">20</text><text transform="translate(2023.2 1958) rotate(90)" font-family="Liberation Sans, sans-serif" font-size="20" fill="#555" stroke="#555" stroke-width="0.5" text-anchor="middle" dominant-baseline="central">20</text><text transform="translate(2173.9 1569) rotate(90)" font-family="Liberation Sans, sans-serif" font-size="20" fill="#555" stroke="#555" stroke-width="0.5" text-anchor="middle" dominant-baseline="central">15</text><text transform="translate(2173.9 1958) rotate(90)" font-family="Liberation Sans, sans-serif" font-size="20" fill="#555" stroke="#555" stroke-width="0.5" text-anchor="middle" dominant-baseline="central">15</text><text transform="translate(2324.7 1569) rotate(90)" font-family="Liberation Sans, sans-serif" font-size="20" fill="#555" stroke="#555" stroke-width="0.5" text-anchor="middle" dominant-baseline="central">10</text><text transform="translate(2324.7 1958) rotate(90)" font-family="Liberation Sans, sans-serif" font-size="20" fill="#555" stroke="#555" stroke-width="0.5" text-anchor="middle" dominant-baseline="central">10</text><text transform="translate(2475.4 1569) rotate(90)" font-family="Liberation Sans, sans-serif" font-size="20" fill="#555" stroke="#555" stroke-width="0.5" text-anchor="middle" dominant-baseline="central">5</text><text transform="translate(2475.4 1958) rotate(90)" font-family="Liberation Sans, sans-serif" font-size="20" fill="#555" stroke="#555" stroke-width="0.5" text-anchor="middle" dominant-baseline="central">5</text><text transform="translate(2596.0 1569) rotate(90)" font-family="Liberation Sans, sans-serif" font-size="20" fill="#555" stroke="#555" stroke-width="0.5" text-anchor="middle" dominant-baseline="central">1</text><text transform="translate(2596.0 1958) rotate(90)" font-family="Liberation Sans, sans-serif" font-size="20" fill="#555" stroke="#555" stroke-width="0.5" text-anchor="middle" dominant-baseline="central">1</text><text transform="translate(1689 1595.0) rotate(90)" font-family="Liberation Sans, sans-serif" font-size="26" fill="#555" stroke="#555" stroke-width="0.5" text-anchor="middle" dominant-baseline="central">A</text><text transform="translate(2630 1595.0) rotate(90)" font-family="Liberation Sans, sans-serif" font-size="26" fill="#555" stroke="#555" stroke-width="0.5" text-anchor="middle" dominant-baseline="central">A</text><text transform="translate(1689 1625.0) rotate(90)" font-family="Liberation Sans, sans-serif" font-size="26" fill="#555" stroke="#555" stroke-width="0.5" text-anchor="middle" dominant-baseline="central">B</text><text transform="translate(2630 1625.0) rotate(90)" font-family="Liberation Sans, sans-serif" font-size="26" fill="#555" stroke="#555" stroke-width="0.5" text-anchor="middle" dominant-baseline="central">B</text><text transform="translate(1689 1655.1) rotate(90)" font-family="Liberation Sans, sans-serif" font-size="26" fill="#555" stroke="#555" stroke-width="0.5" text-anchor="middle" dominant-baseline="central">C</text><text transform="translate(2630 1655.1) rotate(90)" font-family="Liberation Sans, sans-serif" font-size="26" fill="#555" stroke="#555" stroke-width="0.5" text-anchor="middle" dominant-baseline="central">C</text><text transform="translate(1689 1685.2) rotate(90)" font-family="Liberation Sans, sans-serif" font-size="26" fill="#555" stroke="#555" stroke-width="0.5" text-anchor="middle" dominant-baseline="central">D</text><text transform="translate(2630 1685.2) rotate(90)" font-family="Liberation Sans, sans-serif" font-size="26" fill="#555" stroke="#555" stroke-width="0.5" text-anchor="middle" dominant-baseline="central">D</text><text transform="translate(1689 1715.2) rotate(90)" font-family="Liberation Sans, sans-serif" font-size="26" fill="#555" stroke="#555" stroke-width="0.5" text-anchor="middle" dominant-baseline="central">E</text><text transform="translate(2630 1715.2) rotate(90)" font-family="Liberation Sans, sans-serif" font-size="26" fill="#555" stroke="#555" stroke-width="0.5" text-anchor="middle" dominant-baseline="central">E</text><text transform="translate(1689 1805.5) rotate(90)" font-family="Liberation Sans, sans-serif" font-size="26" fill="#555" stroke="#555" stroke-width="0.5" text-anchor="middle" dominant-baseline="central">F</text><text transform="translate(2630 1805.5) rotate(90)" font-family="Liberation Sans, sans-serif" font-size="26" fill="#555" stroke="#555" stroke-width="0.5" text-anchor="middle" dominant-baseline="central">F</text><text transform="translate(1689 1835.3) rotate(90)" font-family="Liberation Sans, sans-serif" font-size="26" fill="#555" stroke="#555" stroke-width="0.5" text-anchor="middle" dominant-baseline="central">G</text><text transform="translate(2630 1835.3) rotate(90)" font-family="Liberation Sans, sans-serif" font-size="26" fill="#555" stroke="#555" stroke-width="0.5" text-anchor="middle" dominant-baseline="central">G</text><text transform="translate(1689 1865.1) rotate(90)" font-family="Liberation Sans, sans-serif" font-size="26" fill="#555" stroke="#555" stroke-width="0.5" text-anchor="middle" dominant-baseline="central">H</text><text transform="translate(2630 1865.1) rotate(90)" font-family="Liberation Sans, sans-serif" font-size="26" fill="#555" stroke="#555" stroke-width="0.5" text-anchor="middle" dominant-baseline="central">H</text><text transform="translate(1689 1894.9) rotate(90)" font-family="Liberation Sans, sans-serif" font-size="26" fill="#555" stroke="#555" stroke-width="0.5" text-anchor="middle" dominant-baseline="central">I</text><text transform="translate(2630 1894.9) rotate(90)" font-family="Liberation Sans, sans-serif" font-size="26" fill="#555" stroke="#555" stroke-width="0.5" text-anchor="middle" dominant-baseline="central">I</text><text transform="translate(1689 1924.7) rotate(90)" font-family="Liberation Sans, sans-serif" font-size="26" fill="#555" stroke="#555" stroke-width="0.5" text-anchor="middle" dominant-baseline="central">J</text><text transform="translate(2630 1924.7) rotate(90)" font-family="Liberation Sans, sans-serif" font-size="26" fill="#555" stroke="#555" stroke-width="0.5" text-anchor="middle" dominant-baseline="central">J</text><path d="M1747 475H2556V632L2592 669V1065L2555.5 1099V1124H1747Z" fill="#0a77ac"/><path d="M1747 475H2556V632L2592 669V1065L2555.5 1099V1124H1747Z" fill="url(#pcbdots)"/><path d="M1790 548 L1826 564 L1826 640" fill="none" stroke="#044f86" stroke-width="6" stroke-linejoin="round"/><path d="M1857 533 L1857 640" fill="none" stroke="#044f86" stroke-width="6" stroke-linejoin="round"/><path d="M1876 553 L1876 640" fill="none" stroke="#044f86" stroke-width="6" stroke-linejoin="round"/><path d="M1955 553 L1886 602 L1886 640" fill="none" stroke="#044f86" stroke-width="6" stroke-linejoin="round"/><path d="M2005 520 L1902 606 L1902 640" fill="none" stroke="#044f86" stroke-width="6" stroke-linejoin="round"/><path d="M1810 560 L1810 640" fill="none" stroke="#044f86" stroke-width="6" stroke-linejoin="round"/><path d="M2085 690 L2120 658 L2258 658 L2292 690 L2292 700" fill="none" stroke="#044f86" stroke-width="6" stroke-linejoin="round"/><path d="M2096 712 L2128 677 L2250 677 L2270 697" fill="none" stroke="#044f86" stroke-width="6" stroke-linejoin="round"/><path d="M2316 640 L2316 672 L2334 690 L2420 690 L2445 715 L2445 740" fill="none" stroke="#044f86" stroke-width="6" stroke-linejoin="round"/><path d="M2352 648 L2352 668 L2372 688" fill="none" stroke="#044f86" stroke-width="6" stroke-linejoin="round"/><path d="M2370 706 L2440 706 L2483 750 L2483 850" fill="none" stroke="#044f86" stroke-width="6" stroke-linejoin="round"/><path d="M2500 700 L2500 900" fill="none" stroke="#044f86" stroke-width="6" stroke-linejoin="round"/><path d="M2533 647 L2575 690 L2575 1040 L2545 1072 L2330 1072" fill="none" stroke="#044f86" stroke-width="6" stroke-linejoin="round"/><path d="M2082 760 L2082 840 L2120 880" fill="none" stroke="#044f86" stroke-width="6" stroke-linejoin="round"/><path d="M2117 877 L2245 965 L2245 1000" fill="none" stroke="#044f86" stroke-width="6" stroke-linejoin="round"/><path d="M2283 902 L2252 964 L2252 1000" fill="none" stroke="#044f86" stroke-width="6" stroke-linejoin="round"/><path d="M2305 895 L2309 921 L2347 951 L2400 951" fill="none" stroke="#044f86" stroke-width="6" stroke-linejoin="round"/><path d="M2372 911 L2440 911" fill="none" stroke="#044f86" stroke-width="6" stroke-linejoin="round"/><path d="M2300 1055 L2500 1057" fill="none" stroke="#044f86" stroke-width="6" stroke-linejoin="round"/><path d="M2140 1040 L2160 1060 L2300 1060" fill="none" stroke="#044f86" stroke-width="6" stroke-linejoin="round"/><path d="M2170 522 L2230 575" fill="none" stroke="#044f86" stroke-width="6" stroke-linejoin="round"/><path d="M2200 522 L2255 575" fill="none" stroke="#044f86" stroke-width="6" stroke-linejoin="round"/><path d="M2320 522 L2330 560 L2360 580" fill="none" stroke="#044f86" stroke-width="6" stroke-linejoin="round"/><path d="M2350 522 L2380 575" fill="none" stroke="#044f86" stroke-width="6" stroke-linejoin="round"/><path d="M2410 522 L2420 560" fill="none" stroke="#044f86" stroke-width="6" stroke-linejoin="round"/><path d="M2440 522 L2430 575" fill="none" stroke="#044f86" stroke-width="6" stroke-linejoin="round"/><path d="M2490 522 L2470 575" fill="none" stroke="#044f86" stroke-width="6" stroke-linejoin="round"/><path d="M2160 880 L2160 900 L2200 940" fill="none" stroke="#044f86" stroke-width="6" stroke-linejoin="round"/><path d="M2200 890 L2230 930" fill="none" stroke="#044f86" stroke-width="6" stroke-linejoin="round"/><path d="M2398 860 L2398 900 L2440 940" fill="none" stroke="#044f86" stroke-width="6" stroke-linejoin="round"/><path d="M2505 900 L2505 1040 L2480 1060" fill="none" stroke="#044f86" stroke-width="6" stroke-linejoin="round"/><path d="M1935 724 L1935 760" fill="none" stroke="#044f86" stroke-width="6" stroke-linejoin="round"/><path d="M2096 740 L2096 860" fill="none" stroke="#044f86" stroke-width="6" stroke-linejoin="round"/><circle cx="1866" cy="499" r="12" fill="#044f86"/><circle cx="1996" cy="499" r="12" fill="#044f86"/><circle cx="1868" cy="539" r="12" fill="#044f86"/><circle cx="1998" cy="539" r="12" fill="#044f86"/><path d="M1748 640H1921V1009" fill="none" stroke="#e6f6fb" stroke-width="2.6"/><path d="M1794 640V1009" fill="none" stroke="#e6f6fb" stroke-width="2.6"/><path d="M1748 766H1921" fill="none" stroke="#e6f6fb" stroke-width="2.6"/><path d="M1748 889H1921" fill="none" stroke="#e6f6fb" stroke-width="2.6"/><path d="M1748 1009H1921" fill="none" stroke="#e6f6fb" stroke-width="2.6"/><path d="M1882 477H1980V556H1882Z" fill="none" stroke="#e6f6fb" stroke-width="2.6"/><path d="M1882 517H1980" fill="none" stroke="#e6f6fb" stroke-width="2.6"/><path d="M1935 624H2096V704H1935Z" fill="none" stroke="#e6f6fb" stroke-width="2.6"/><path d="M1975 624V704" fill="none" stroke="#e6f6fb" stroke-width="2.6"/><path d="M2015 624V704" fill="none" stroke="#e6f6fb" stroke-width="2.6"/><path d="M2055 624V704" fill="none" stroke="#e6f6fb" stroke-width="2.6"/><path d="M1935 779H2096V858H1935Z" fill="none" stroke="#e6f6fb" stroke-width="2.6"/><path d="M1975 779V858" fill="none" stroke="#e6f6fb" stroke-width="2.6"/><path d="M2015 779V858" fill="none" stroke="#e6f6fb" stroke-width="2.6"/><path d="M2055 779V858" fill="none" stroke="#e6f6fb" stroke-width="2.6"/><path d="M2126 960H2223V1040H2126Z" fill="none" stroke="#e6f6fb" stroke-width="2.6"/><path d="M2126 1000H2223" fill="none" stroke="#e6f6fb" stroke-width="2.6"/><path d="M2403 661H2502V700H2403Z" fill="none" stroke="#e6f6fb" stroke-width="2.6"/><path d="M2505 758H2586V852H2505Z" fill="none" stroke="#e6f6fb" stroke-width="2.6"/><path d="M2545 758V852" fill="none" stroke="#e6f6fb" stroke-width="2.6"/><path d="M2505 915H2586V1009H2505Z" fill="none" stroke="#e6f6fb" stroke-width="2.6"/><path d="M2545 915V1009" fill="none" stroke="#e6f6fb" stroke-width="2.6"/><path d="M2379 925H2421V1022H2379Z" fill="none" stroke="#e6f6fb" stroke-width="2.6"/><path d="M2108 570H2203V633H2108Z" fill="none" stroke="#e6f6fb" stroke-width="2.6"/><path d="M2223 570H2318V633H2223Z" fill="none" stroke="#e6f6fb" stroke-width="2.6"/><path d="M2338 570H2433V633H2338Z" fill="none" stroke="#e6f6fb" stroke-width="2.6"/><path d="M2452 570H2549V633H2452Z" fill="none" stroke="#e6f6fb" stroke-width="2.6"/><path d="M1790 1018H1818V1120" fill="none" stroke="#e6f6fb" stroke-width="2.6"/><path d="M2012 486H2270" fill="none" stroke="#e6f6fb" stroke-width="2.6"/><path d="M2286 486H2546" fill="none" stroke="#e6f6fb" stroke-width="2.6"/><path d="M2126 1079H2322" fill="none" stroke="#e6f6fb" stroke-width="2.6"/><path d="M2348 1078H2545" fill="none" stroke="#e6f6fb" stroke-width="2.6"/><path d="M2189 730H2385" fill="none" stroke="#e6f6fb" stroke-width="2.6"/><circle cx="2562" cy="695" r="25" fill="none" stroke="#e6f6fb" stroke-width="3"/><circle cx="2562" cy="695" r="21" fill="#f4fbfd"/><circle cx="2006" cy="654" r="6.5" fill="#0a6aa3"/><circle cx="2006" cy="654" r="4.5" fill="#eef6f8"/><circle cx="2126" cy="745" r="6.5" fill="#0a6aa3"/><circle cx="2126" cy="745" r="4.5" fill="#eef6f8"/><circle cx="2137" cy="756" r="6.5" fill="#0a6aa3"/><circle cx="2137" cy="756" r="4.5" fill="#eef6f8"/><circle cx="2291" cy="749" r="6.5" fill="#0a6aa3"/><circle cx="2291" cy="749" r="4.5" fill="#eef6f8"/><circle cx="2311" cy="756" r="6.5" fill="#0a6aa3"/><circle cx="2311" cy="756" r="4.5" fill="#eef6f8"/><circle cx="2430" cy="639" r="6.5" fill="#0a6aa3"/><circle cx="2430" cy="639" r="4.5" fill="#eef6f8"/><circle cx="2430" cy="664" r="6.5" fill="#0a6aa3"/><circle cx="2430" cy="664" r="4.5" fill="#eef6f8"/><circle cx="2460" cy="762" r="6.5" fill="#0a6aa3"/><circle cx="2460" cy="762" r="4.5" fill="#eef6f8"/><circle cx="2475" cy="794" r="6.5" fill="#0a6aa3"/><circle cx="2475" cy="794" r="4.5" fill="#eef6f8"/><circle cx="2244" cy="918" r="6.5" fill="#0a6aa3"/><circle cx="2244" cy="918" r="4.5" fill="#eef6f8"/><circle cx="2251" cy="940" r="6.5" fill="#0a6aa3"/><circle cx="2251" cy="940" r="4.5" fill="#eef6f8"/><circle cx="2244" cy="967" r="6.5" fill="#0a6aa3"/><circle cx="2244" cy="967" r="4.5" fill="#eef6f8"/><circle cx="2300" cy="903" r="6.5" fill="#0a6aa3"/><circle cx="2300" cy="903" r="4.5" fill="#eef6f8"/><circle cx="2328" cy="911" r="6.5" fill="#0a6aa3"/><circle cx="2328" cy="911" r="4.5" fill="#eef6f8"/><circle cx="2414" cy="914" r="6.5" fill="#0a6aa3"/><circle cx="2414" cy="914" r="4.5" fill="#eef6f8"/><circle cx="2478" cy="863" r="6.5" fill="#0a6aa3"/><circle cx="2478" cy="863" r="4.5" fill="#eef6f8"/><circle cx="1788" cy="518" r="36" fill="#d8dde0"/><circle cx="1784" cy="517" r="35" fill="#f7f8f8"/><circle cx="1788" cy="598" r="36" fill="#d8dde0"/><circle cx="1784" cy="597" r="35" fill="#f7f8f8"/><text transform="translate(1836 518) rotate(90)" font-family="Liberation Mono, monospace" font-size="25" fill="#e6f6fb" text-anchor="middle" dominant-baseline="central">LD1</text><text transform="translate(1836 598) rotate(90)" font-family="Liberation Mono, monospace" font-size="25" fill="#e6f6fb" text-anchor="middle" dominant-baseline="central">LD2</text><g transform="translate(1931.0 499.0) rotate(0)"><circle cx="-65.0" cy="0" r="9" fill="#0a6aa3"/><circle cx="65.0" cy="0" r="9" fill="#0a6aa3"/><circle cx="-65.0" cy="0" r="6.5" fill="#e4e8ea"/><circle cx="65.0" cy="0" r="6.5" fill="#b9c0c4"/><line x1="-65.0" y1="0" x2="65.0" y2="0" stroke="#dfe3e3" stroke-width="3"/><rect x="-39.0" y="-12.0" width="78.0" height="24.0" rx="12.0" fill="#e8cca2"/><rect x="-26.4" y="-11.0" width="6.0" height="22.0" fill="#8a3e1c"/><rect x="-10.8" y="-11.0" width="6.0" height="22.0" fill="#1d1410"/><rect x="4.8" y="-11.0" width="6.0" height="22.0" fill="#d8202a"/><rect x="20.4" y="-11.0" width="6.0" height="22.0" fill="#b98a4a"/><rect x="-35.0" y="-8.0" width="70.0" height="5.3" fill="#fff" opacity="0.25"/></g><g transform="translate(1933.0 539.0) rotate(0)"><circle cx="-65.0" cy="0" r="9" fill="#0a6aa3"/><circle cx="65.0" cy="0" r="9" fill="#0a6aa3"/><circle cx="-65.0" cy="0" r="6.5" fill="#e4e8ea"/><circle cx="65.0" cy="0" r="6.5" fill="#b9c0c4"/><line x1="-65.0" y1="0" x2="65.0" y2="0" stroke="#dfe3e3" stroke-width="3"/><rect x="-39.0" y="-12.0" width="78.0" height="24.0" rx="12.0" fill="#e8cca2"/><rect x="-26.4" y="-11.0" width="6.0" height="22.0" fill="#8a3e1c"/><rect x="-10.8" y="-11.0" width="6.0" height="22.0" fill="#1d1410"/><rect x="4.8" y="-11.0" width="6.0" height="22.0" fill="#d8202a"/><rect x="20.4" y="-11.0" width="6.0" height="22.0" fill="#b98a4a"/><rect x="-35.0" y="-8.0" width="70.0" height="5.3" fill="#fff" opacity="0.25"/></g><g transform="translate(2452.0 680.0) rotate(0)"><circle cx="-60.0" cy="0" r="9" fill="#0a6aa3"/><circle cx="60.0" cy="0" r="9" fill="#0a6aa3"/><circle cx="-60.0" cy="0" r="6.5" fill="#e4e8ea"/><circle cx="60.0" cy="0" r="6.5" fill="#b9c0c4"/><line x1="-60.0" y1="0" x2="60.0" y2="0" stroke="#dfe3e3" stroke-width="3"/><rect x="-37.5" y="-12.0" width="75.0" height="24.0" rx="12.0" fill="#e8cca2"/><rect x="-25.5" y="-11.0" width="6.0" height="22.0" fill="#f2d21a"/><rect x="-10.5" y="-11.0" width="6.0" height="22.0" fill="#a07ac8"/><rect x="4.5" y="-11.0" width="6.0" height="22.0" fill="#d8202a"/><rect x="19.5" y="-11.0" width="6.0" height="22.0" fill="#b98a4a"/><rect x="-33.5" y="-8.0" width="67.0" height="5.3" fill="#fff" opacity="0.25"/></g><g transform="translate(2173.0 978.0) rotate(0)"><circle cx="-62.0" cy="0" r="9" fill="#0a6aa3"/><circle cx="62.0" cy="0" r="9" fill="#0a6aa3"/><circle cx="-62.0" cy="0" r="6.5" fill="#e4e8ea"/><circle cx="62.0" cy="0" r="6.5" fill="#b9c0c4"/><line x1="-62.0" y1="0" x2="62.0" y2="0" stroke="#dfe3e3" stroke-width="3"/><rect x="-39.0" y="-12.0" width="78.0" height="24.0" rx="12.0" fill="#e8cca2"/><rect x="-26.4" y="-11.0" width="6.0" height="22.0" fill="#8a3e1c"/><rect x="-10.8" y="-11.0" width="6.0" height="22.0" fill="#1d1410"/><rect x="4.8" y="-11.0" width="6.0" height="22.0" fill="#e08a2a"/><rect x="20.4" y="-11.0" width="6.0" height="22.0" fill="#b98a4a"/><rect x="-35.0" y="-8.0" width="70.0" height="5.3" fill="#fff" opacity="0.25"/></g><g transform="translate(2173.0 1017.0) rotate(0)"><circle cx="-62.0" cy="0" r="9" fill="#0a6aa3"/><circle cx="62.0" cy="0" r="9" fill="#0a6aa3"/><circle cx="-62.0" cy="0" r="6.5" fill="#e4e8ea"/><circle cx="62.0" cy="0" r="6.5" fill="#b9c0c4"/><line x1="-62.0" y1="0" x2="62.0" y2="0" stroke="#dfe3e3" stroke-width="3"/><rect x="-39.0" y="-12.0" width="78.0" height="24.0" rx="12.0" fill="#e8cca2"/><rect x="-26.4" y="-11.0" width="6.0" height="22.0" fill="#8a3e1c"/><rect x="-10.8" y="-11.0" width="6.0" height="22.0" fill="#1d1410"/><rect x="4.8" y="-11.0" width="6.0" height="22.0" fill="#f2d21a"/><rect x="20.4" y="-11.0" width="6.0" height="22.0" fill="#b98a4a"/><rect x="-35.0" y="-8.0" width="70.0" height="5.3" fill="#fff" opacity="0.25"/></g><g transform="translate(2532.0 805.0) rotate(90)"><circle cx="-52.0" cy="0" r="9" fill="#0a6aa3"/><circle cx="52.0" cy="0" r="9" fill="#0a6aa3"/><circle cx="-52.0" cy="0" r="6.5" fill="#e4e8ea"/><circle cx="52.0" cy="0" r="6.5" fill="#b9c0c4"/><line x1="-52.0" y1="0" x2="52.0" y2="0" stroke="#dfe3e3" stroke-width="3"/><rect x="-39.0" y="-12.0" width="78.0" height="24.0" rx="12.0" fill="#e8cca2"/><rect x="-26.4" y="-11.0" width="6.0" height="22.0" fill="#f2d21a"/><rect x="-10.8" y="-11.0" width="6.0" height="22.0" fill="#a07ac8"/><rect x="4.8" y="-11.0" width="6.0" height="22.0" fill="#d8202a"/><rect x="20.4" y="-11.0" width="6.0" height="22.0" fill="#b98a4a"/><rect x="-35.0" y="-8.0" width="70.0" height="5.3" fill="#fff" opacity="0.25"/></g><g transform="translate(2569.0 805.0) rotate(90)"><circle cx="-52.0" cy="0" r="9" fill="#0a6aa3"/><circle cx="52.0" cy="0" r="9" fill="#0a6aa3"/><circle cx="-52.0" cy="0" r="6.5" fill="#e4e8ea"/><circle cx="52.0" cy="0" r="6.5" fill="#b9c0c4"/><line x1="-52.0" y1="0" x2="52.0" y2="0" stroke="#dfe3e3" stroke-width="3"/><rect x="-39.0" y="-12.0" width="78.0" height="24.0" rx="12.0" fill="#e8cca2"/><rect x="-26.4" y="-11.0" width="6.0" height="22.0" fill="#8a3e1c"/><rect x="-10.8" y="-11.0" width="6.0" height="22.0" fill="#1d1410"/><rect x="4.8" y="-11.0" width="6.0" height="22.0" fill="#e08a2a"/><rect x="20.4" y="-11.0" width="6.0" height="22.0" fill="#b98a4a"/><rect x="-35.0" y="-8.0" width="70.0" height="5.3" fill="#fff" opacity="0.25"/></g><g transform="translate(2532.0 962.0) rotate(90)"><circle cx="-52.0" cy="0" r="9" fill="#0a6aa3"/><circle cx="52.0" cy="0" r="9" fill="#0a6aa3"/><circle cx="-52.0" cy="0" r="6.5" fill="#e4e8ea"/><circle cx="52.0" cy="0" r="6.5" fill="#b9c0c4"/><line x1="-52.0" y1="0" x2="52.0" y2="0" stroke="#dfe3e3" stroke-width="3"/><rect x="-39.0" y="-12.0" width="78.0" height="24.0" rx="12.0" fill="#e8cca2"/><rect x="-26.4" y="-11.0" width="6.0" height="22.0" fill="#f2d21a"/><rect x="-10.8" y="-11.0" width="6.0" height="22.0" fill="#a07ac8"/><rect x="4.8" y="-11.0" width="6.0" height="22.0" fill="#d8202a"/><rect x="20.4" y="-11.0" width="6.0" height="22.0" fill="#b98a4a"/><rect x="-35.0" y="-8.0" width="70.0" height="5.3" fill="#fff" opacity="0.25"/></g><g transform="translate(2570.0 962.0) rotate(90)"><circle cx="-52.0" cy="0" r="9" fill="#0a6aa3"/><circle cx="52.0" cy="0" r="9" fill="#0a6aa3"/><circle cx="-52.0" cy="0" r="6.5" fill="#e4e8ea"/><circle cx="52.0" cy="0" r="6.5" fill="#b9c0c4"/><line x1="-52.0" y1="0" x2="52.0" y2="0" stroke="#dfe3e3" stroke-width="3"/><rect x="-39.0" y="-12.0" width="78.0" height="24.0" rx="12.0" fill="#e8cca2"/><rect x="-26.4" y="-11.0" width="6.0" height="22.0" fill="#8a3e1c"/><rect x="-10.8" y="-11.0" width="6.0" height="22.0" fill="#1d1410"/><rect x="4.8" y="-11.0" width="6.0" height="22.0" fill="#e08a2a"/><rect x="20.4" y="-11.0" width="6.0" height="22.0" fill="#b98a4a"/><rect x="-35.0" y="-8.0" width="70.0" height="5.3" fill="#fff" opacity="0.25"/></g><g transform="translate(2405.0 972.0) rotate(90)"><circle cx="-52.0" cy="0" r="9" fill="#0a6aa3"/><circle cx="52.0" cy="0" r="9" fill="#0a6aa3"/><circle cx="-52.0" cy="0" r="6.5" fill="#e4e8ea"/><circle cx="52.0" cy="0" r="6.5" fill="#b9c0c4"/><line x1="-52.0" y1="0" x2="52.0" y2="0" stroke="#dfe3e3" stroke-width="3"/><rect x="-36.0" y="-11.0" width="72.0" height="22.0" rx="11.0" fill="#e8cca2"/><rect x="-24.6" y="-10.0" width="6.0" height="20.0" fill="#f2d21a"/><rect x="-10.2" y="-10.0" width="6.0" height="20.0" fill="#a07ac8"/><rect x="4.2" y="-10.0" width="6.0" height="20.0" fill="#d8202a"/><rect x="18.6" y="-10.0" width="6.0" height="20.0" fill="#b98a4a"/><rect x="-32.0" y="-7.0" width="64.0" height="4.8" fill="#fff" opacity="0.25"/></g><rect x="2013.0" y="495.0" width="257.0" height="28.0" fill="#2c2d2f"/><rect x="2015.0" y="497.0" width="28.1" height="24.0" fill="#3a3b3d" stroke="#222" stroke-width="1"/><rect x="2025.1" y="505.0" width="8" height="8" fill="#111"/><rect x="2047.1" y="497.0" width="28.1" height="24.0" fill="#3a3b3d" stroke="#222" stroke-width="1"/><rect x="2057.2" y="505.0" width="8" height="8" fill="#111"/><rect x="2079.2" y="497.0" width="28.1" height="24.0" fill="#3a3b3d" stroke="#222" stroke-width="1"/><rect x="2089.3" y="505.0" width="8" height="8" fill="#111"/><rect x="2111.4" y="497.0" width="28.1" height="24.0" fill="#3a3b3d" stroke="#222" stroke-width="1"/><rect x="2121.4" y="505.0" width="8" height="8" fill="#111"/><rect x="2143.5" y="497.0" width="28.1" height="24.0" fill="#3a3b3d" stroke="#222" stroke-width="1"/><rect x="2153.6" y="505.0" width="8" height="8" fill="#111"/><rect x="2175.6" y="497.0" width="28.1" height="24.0" fill="#3a3b3d" stroke="#222" stroke-width="1"/><rect x="2185.7" y="505.0" width="8" height="8" fill="#111"/><rect x="2207.8" y="497.0" width="28.1" height="24.0" fill="#3a3b3d" stroke="#222" stroke-width="1"/><rect x="2217.8" y="505.0" width="8" height="8" fill="#111"/><rect x="2239.9" y="497.0" width="28.1" height="24.0" fill="#3a3b3d" stroke="#222" stroke-width="1"/><rect x="2249.9" y="505.0" width="8" height="8" fill="#111"/><rect x="2286.0" y="495.0" width="260.0" height="28.0" fill="#2c2d2f"/><rect x="2288.0" y="497.0" width="28.5" height="24.0" fill="#3a3b3d" stroke="#222" stroke-width="1"/><rect x="2298.2" y="505.0" width="8" height="8" fill="#111"/><rect x="2320.5" y="497.0" width="28.5" height="24.0" fill="#3a3b3d" stroke="#222" stroke-width="1"/><rect x="2330.8" y="505.0" width="8" height="8" fill="#111"/><rect x="2353.0" y="497.0" width="28.5" height="24.0" fill="#3a3b3d" stroke="#222" stroke-width="1"/><rect x="2363.2" y="505.0" width="8" height="8" fill="#111"/><rect x="2385.5" y="497.0" width="28.5" height="24.0" fill="#3a3b3d" stroke="#222" stroke-width="1"/><rect x="2395.8" y="505.0" width="8" height="8" fill="#111"/><rect x="2418.0" y="497.0" width="28.5" height="24.0" fill="#3a3b3d" stroke="#222" stroke-width="1"/><rect x="2428.2" y="505.0" width="8" height="8" fill="#111"/><rect x="2450.5" y="497.0" width="28.5" height="24.0" fill="#3a3b3d" stroke="#222" stroke-width="1"/><rect x="2460.8" y="505.0" width="8" height="8" fill="#111"/><rect x="2483.0" y="497.0" width="28.5" height="24.0" fill="#3a3b3d" stroke="#222" stroke-width="1"/><rect x="2493.2" y="505.0" width="8" height="8" fill="#111"/><rect x="2515.5" y="497.0" width="28.5" height="24.0" fill="#3a3b3d" stroke="#222" stroke-width="1"/><rect x="2525.8" y="505.0" width="8" height="8" fill="#111"/><rect x="2126.0" y="1090.0" width="196.0" height="31.0" fill="#2c2d2f"/><rect x="2128.0" y="1092.0" width="28.7" height="27.0" fill="#3a3b3d" stroke="#222" stroke-width="1"/><rect x="2138.3" y="1101.5" width="8" height="8" fill="#111"/><rect x="2160.7" y="1092.0" width="28.7" height="27.0" fill="#3a3b3d" stroke="#222" stroke-width="1"/><rect x="2171.0" y="1101.5" width="8" height="8" fill="#111"/><rect x="2193.3" y="1092.0" width="28.7" height="27.0" fill="#3a3b3d" stroke="#222" stroke-width="1"/><rect x="2203.7" y="1101.5" width="8" height="8" fill="#111"/><rect x="2226.0" y="1092.0" width="28.7" height="27.0" fill="#3a3b3d" stroke="#222" stroke-width="1"/><rect x="2236.3" y="1101.5" width="8" height="8" fill="#111"/><rect x="2258.7" y="1092.0" width="28.7" height="27.0" fill="#3a3b3d" stroke="#222" stroke-width="1"/><rect x="2269.0" y="1101.5" width="8" height="8" fill="#111"/><rect x="2291.3" y="1092.0" width="28.7" height="27.0" fill="#3a3b3d" stroke="#222" stroke-width="1"/><rect x="2301.7" y="1101.5" width="8" height="8" fill="#111"/><rect x="2348.0" y="1094.0" width="197.0" height="28.0" fill="#2c2d2f"/><rect x="2350.0" y="1096.0" width="28.8" height="24.0" fill="#3a3b3d" stroke="#222" stroke-width="1"/><rect x="2360.4" y="1104.0" width="8" height="8" fill="#111"/><rect x="2382.8" y="1096.0" width="28.8" height="24.0" fill="#3a3b3d" stroke="#222" stroke-width="1"/><rect x="2393.2" y="1104.0" width="8" height="8" fill="#111"/><rect x="2415.7" y="1096.0" width="28.8" height="24.0" fill="#3a3b3d" stroke="#222" stroke-width="1"/><rect x="2426.1" y="1104.0" width="8" height="8" fill="#111"/><rect x="2448.5" y="1096.0" width="28.8" height="24.0" fill="#3a3b3d" stroke="#222" stroke-width="1"/><rect x="2458.9" y="1104.0" width="8" height="8" fill="#111"/><rect x="2481.3" y="1096.0" width="28.8" height="24.0" fill="#3a3b3d" stroke="#222" stroke-width="1"/><rect x="2491.8" y="1104.0" width="8" height="8" fill="#111"/><rect x="2514.2" y="1096.0" width="28.8" height="24.0" fill="#3a3b3d" stroke="#222" stroke-width="1"/><rect x="2524.6" y="1104.0" width="8" height="8" fill="#111"/><text x="2014" y="488" font-family="Liberation Mono, monospace" font-size="15" font-weight="bold" fill="#e6f6fb" textLength="250" lengthAdjust="spacingAndGlyphs">AREF GND 13  12  11  10   9   8</text><text x="2300" y="488" font-family="Liberation Mono, monospace" font-size="15" font-weight="bold" fill="#e6f6fb" textLength="240" lengthAdjust="spacingAndGlyphs">7   6   5   4   3   2   1   0</text><rect x="2112.0" y="572" width="30" height="60" fill="#2b2b2c"/><circle cx="2127.0" cy="588" r="12" fill="#333335"/><circle cx="2127.0" cy="617" r="12" fill="#333335"/><rect x="2124.0" y="585" width="5" height="5" fill="#d6c9a0"/><rect x="2124.0" y="614" width="5" height="5" fill="#d6c9a0"/><text x="2127.0" y="565" font-family="Liberation Mono, monospace" font-size="15" fill="#e6f6fb" text-anchor="middle">13</text><rect x="2143.0" y="572" width="30" height="62" fill="#3d6fd0"/><rect x="2153.0" y="580" width="10" height="46" rx="4" fill="#2a2a22"/><rect x="2156.0" y="588" width="4" height="30" fill="#c9b98a"/><text x="2158.0" y="565" font-family="Liberation Mono, monospace" font-size="15" fill="#e6f6fb" text-anchor="middle">12</text><rect x="2174.0" y="572" width="30" height="60" fill="#2b2b2c"/><circle cx="2189.0" cy="588" r="12" fill="#333335"/><circle cx="2189.0" cy="617" r="12" fill="#333335"/><rect x="2186.0" y="585" width="5" height="5" fill="#d6c9a0"/><rect x="2186.0" y="614" width="5" height="5" fill="#d6c9a0"/><text x="2189.0" y="565" font-family="Liberation Mono, monospace" font-size="15" fill="#e6f6fb" text-anchor="middle">8</text><text x="2158.0" y="651" font-family="Liberation Mono, monospace" font-size="14" font-weight="bold" fill="#e6f6fb" text-anchor="middle">DIRB</text><rect x="2227.0" y="572" width="30" height="60" fill="#2b2b2c"/><circle cx="2242.0" cy="588" r="12" fill="#333335"/><circle cx="2242.0" cy="617" r="12" fill="#333335"/><rect x="2239.0" y="585" width="5" height="5" fill="#d6c9a0"/><rect x="2239.0" y="614" width="5" height="5" fill="#d6c9a0"/><text x="2242.0" y="565" font-family="Liberation Mono, monospace" font-size="15" fill="#e6f6fb" text-anchor="middle">11</text><rect x="2258.0" y="572" width="30" height="62" fill="#3d6fd0"/><rect x="2268.0" y="580" width="10" height="46" rx="4" fill="#2a2a22"/><rect x="2271.0" y="588" width="4" height="30" fill="#c9b98a"/><text x="2273.0" y="565" font-family="Liberation Mono, monospace" font-size="15" fill="#e6f6fb" text-anchor="middle">10</text><rect x="2289.0" y="572" width="30" height="60" fill="#2b2b2c"/><circle cx="2304.0" cy="588" r="12" fill="#333335"/><circle cx="2304.0" cy="617" r="12" fill="#333335"/><rect x="2301.0" y="585" width="5" height="5" fill="#d6c9a0"/><rect x="2301.0" y="614" width="5" height="5" fill="#d6c9a0"/><text x="2304.0" y="565" font-family="Liberation Mono, monospace" font-size="15" fill="#e6f6fb" text-anchor="middle">9</text><text x="2273.0" y="651" font-family="Liberation Mono, monospace" font-size="14" font-weight="bold" fill="#e6f6fb" text-anchor="middle">PWMB</text><rect x="2342.0" y="572" width="30" height="60" fill="#2b2b2c"/><circle cx="2357.0" cy="588" r="12" fill="#333335"/><circle cx="2357.0" cy="617" r="12" fill="#333335"/><rect x="2354.0" y="585" width="5" height="5" fill="#d6c9a0"/><rect x="2354.0" y="614" width="5" height="5" fill="#d6c9a0"/><text x="2357.0" y="565" font-family="Liberation Mono, monospace" font-size="15" fill="#e6f6fb" text-anchor="middle">7</text><rect x="2373.0" y="572" width="30" height="62" fill="#3d6fd0"/><rect x="2383.0" y="580" width="10" height="46" rx="4" fill="#2a2a22"/><rect x="2386.0" y="588" width="4" height="30" fill="#c9b98a"/><text x="2388.0" y="565" font-family="Liberation Mono, monospace" font-size="15" fill="#e6f6fb" text-anchor="middle">4</text><rect x="2404.0" y="572" width="30" height="60" fill="#2b2b2c"/><circle cx="2419.0" cy="588" r="12" fill="#333335"/><circle cx="2419.0" cy="617" r="12" fill="#333335"/><rect x="2416.0" y="585" width="5" height="5" fill="#d6c9a0"/><rect x="2416.0" y="614" width="5" height="5" fill="#d6c9a0"/><text x="2419.0" y="565" font-family="Liberation Mono, monospace" font-size="15" fill="#e6f6fb" text-anchor="middle">2</text><text x="2388.0" y="651" font-family="Liberation Mono, monospace" font-size="14" font-weight="bold" fill="#e6f6fb" text-anchor="middle">DIRA</text><rect x="2456.0" y="572" width="30" height="60" fill="#2b2b2c"/><circle cx="2471.0" cy="588" r="12" fill="#333335"/><circle cx="2471.0" cy="617" r="12" fill="#333335"/><rect x="2468.0" y="585" width="5" height="5" fill="#d6c9a0"/><rect x="2468.0" y="614" width="5" height="5" fill="#d6c9a0"/><text x="2471.0" y="565" font-family="Liberation Mono, monospace" font-size="15" fill="#e6f6fb" text-anchor="middle">6</text><rect x="2487.0" y="572" width="30" height="60" fill="#2b2b2c"/><circle cx="2502.0" cy="588" r="12" fill="#333335"/><circle cx="2502.0" cy="617" r="12" fill="#333335"/><rect x="2499.0" y="585" width="5" height="5" fill="#d6c9a0"/><rect x="2499.0" y="614" width="5" height="5" fill="#d6c9a0"/><text x="2502.0" y="565" font-family="Liberation Mono, monospace" font-size="15" fill="#e6f6fb" text-anchor="middle">5</text><rect x="2518.0" y="572" width="30" height="62" fill="#3d6fd0"/><rect x="2528.0" y="580" width="10" height="46" rx="4" fill="#2a2a22"/><rect x="2531.0" y="588" width="4" height="30" fill="#c9b98a"/><text x="2533.0" y="565" font-family="Liberation Mono, monospace" font-size="15" fill="#e6f6fb" text-anchor="middle">3</text><text x="2502.0" y="651" font-family="Liberation Mono, monospace" font-size="14" font-weight="bold" fill="#e6f6fb" text-anchor="middle">PWMA</text><text transform="translate(2214 600) rotate(90)" font-family="Liberation Mono, monospace" font-size="17" fill="#e6f6fb" text-anchor="middle" dominant-baseline="central">SK9</text><text transform="translate(2329 600) rotate(90)" font-family="Liberation Mono, monospace" font-size="17" fill="#e6f6fb" text-anchor="middle" dominant-baseline="central">SK10</text><text transform="translate(2443 600) rotate(90)" font-family="Liberation Mono, monospace" font-size="17" fill="#e6f6fb" text-anchor="middle" dominant-baseline="central">SK8</text><text transform="translate(2100 600) rotate(90)" font-family="Liberation Mono, monospace" font-size="17" fill="#e6f6fb" text-anchor="middle" dominant-baseline="central">SK11</text><text x="1945" y="580" font-family="Liberation Mono, monospace" font-size="16" font-weight="bold" fill="#e6f6fb" textLength="135" lengthAdjust="spacingAndGlyphs">WWW.VELLEMAN.EU</text><circle cx="1954.5" cy="604" r="11" fill="#0a6aa3"/><circle cx="1954.5" cy="727" r="11" fill="#0a6aa3"/><circle cx="1954.5" cy="604" r="7.5" fill="#cfd5d8"/><circle cx="1954.5" cy="727" r="7.5" fill="#cfd5d8"/><line x1="1954.5" y1="604" x2="1954.5" y2="727" stroke="#e8eaea" stroke-width="5"/><rect x="1937.5" y="633" width="34" height="64" rx="5" fill="#2f3133"/><rect x="1942.5" y="636" width="10" height="58" fill="#4a4c4e" opacity="0.6"/><rect x="1937.5" y="687" width="34" height="7" fill="#8d9091" opacity="0.8"/><circle cx="1995.0" cy="604" r="11" fill="#0a6aa3"/><circle cx="1995.0" cy="727" r="11" fill="#0a6aa3"/><circle cx="1995.0" cy="604" r="7.5" fill="#cfd5d8"/><circle cx="1995.0" cy="727" r="7.5" fill="#cfd5d8"/><line x1="1995.0" y1="604" x2="1995.0" y2="727" stroke="#e8eaea" stroke-width="5"/><rect x="1978.0" y="633" width="34" height="64" rx="5" fill="#2f3133"/><rect x="1983.0" y="636" width="10" height="58" fill="#4a4c4e" opacity="0.6"/><rect x="1978.0" y="687" width="34" height="7" fill="#8d9091" opacity="0.8"/><circle cx="2034.0" cy="604" r="11" fill="#0a6aa3"/><circle cx="2034.0" cy="727" r="11" fill="#0a6aa3"/><circle cx="2034.0" cy="604" r="7.5" fill="#cfd5d8"/><circle cx="2034.0" cy="727" r="7.5" fill="#cfd5d8"/><line x1="2034.0" y1="604" x2="2034.0" y2="727" stroke="#e8eaea" stroke-width="5"/><rect x="2017.0" y="633" width="34" height="64" rx="5" fill="#2f3133"/><rect x="2022.0" y="636" width="10" height="58" fill="#4a4c4e" opacity="0.6"/><rect x="2017.0" y="687" width="34" height="7" fill="#8d9091" opacity="0.8"/><circle cx="2073.7" cy="604" r="11" fill="#0a6aa3"/><circle cx="2073.7" cy="727" r="11" fill="#0a6aa3"/><circle cx="2073.7" cy="604" r="7.5" fill="#cfd5d8"/><circle cx="2073.7" cy="727" r="7.5" fill="#cfd5d8"/><line x1="2073.7" y1="604" x2="2073.7" y2="727" stroke="#e8eaea" stroke-width="5"/><rect x="2056.7" y="633" width="34" height="64" rx="5" fill="#2f3133"/><rect x="2061.7" y="636" width="10" height="58" fill="#4a4c4e" opacity="0.6"/><rect x="2056.7" y="687" width="34" height="7" fill="#8d9091" opacity="0.8"/><circle cx="1954.5" cy="757" r="11" fill="#0a6aa3"/><circle cx="1954.5" cy="881" r="11" fill="#0a6aa3"/><circle cx="1954.5" cy="757" r="7.5" fill="#cfd5d8"/><circle cx="1954.5" cy="881" r="7.5" fill="#cfd5d8"/><line x1="1954.5" y1="757" x2="1954.5" y2="881" stroke="#e8eaea" stroke-width="5"/><rect x="1937.5" y="786" width="34" height="63" rx="5" fill="#2f3133"/><rect x="1942.5" y="789" width="10" height="57" fill="#4a4c4e" opacity="0.6"/><rect x="1937.5" y="839" width="34" height="7" fill="#8d9091" opacity="0.8"/><circle cx="1995.0" cy="757" r="11" fill="#0a6aa3"/><circle cx="1995.0" cy="881" r="11" fill="#0a6aa3"/><circle cx="1995.0" cy="757" r="7.5" fill="#cfd5d8"/><circle cx="1995.0" cy="881" r="7.5" fill="#cfd5d8"/><line x1="1995.0" y1="757" x2="1995.0" y2="881" stroke="#e8eaea" stroke-width="5"/><rect x="1978.0" y="786" width="34" height="63" rx="5" fill="#2f3133"/><rect x="1983.0" y="789" width="10" height="57" fill="#4a4c4e" opacity="0.6"/><rect x="1978.0" y="839" width="34" height="7" fill="#8d9091" opacity="0.8"/><circle cx="2034.0" cy="757" r="11" fill="#0a6aa3"/><circle cx="2034.0" cy="881" r="11" fill="#0a6aa3"/><circle cx="2034.0" cy="757" r="7.5" fill="#cfd5d8"/><circle cx="2034.0" cy="881" r="7.5" fill="#cfd5d8"/><line x1="2034.0" y1="757" x2="2034.0" y2="881" stroke="#e8eaea" stroke-width="5"/><rect x="2017.0" y="786" width="34" height="63" rx="5" fill="#2f3133"/><rect x="2022.0" y="789" width="10" height="57" fill="#4a4c4e" opacity="0.6"/><rect x="2017.0" y="839" width="34" height="7" fill="#8d9091" opacity="0.8"/><circle cx="2073.7" cy="757" r="11" fill="#0a6aa3"/><circle cx="2073.7" cy="881" r="11" fill="#0a6aa3"/><circle cx="2073.7" cy="757" r="7.5" fill="#cfd5d8"/><circle cx="2073.7" cy="881" r="7.5" fill="#cfd5d8"/><line x1="2073.7" y1="757" x2="2073.7" y2="881" stroke="#e8eaea" stroke-width="5"/><rect x="2056.7" y="786" width="34" height="63" rx="5" fill="#2f3133"/><rect x="2061.7" y="789" width="10" height="57" fill="#4a4c4e" opacity="0.6"/><rect x="2056.7" y="839" width="34" height="7" fill="#8d9091" opacity="0.8"/><rect x="1808" y="644" width="95" height="379" fill="#2f3032"/><rect x="1808" y="644" width="16" height="379" fill="#4b4c4e"/><rect x="1880" y="644" width="23" height="379" fill="#262729"/><circle cx="1851" cy="680" r="21" fill="#4d5256"/><circle cx="1851" cy="680" r="19" fill="#aab4bc"/><circle cx="1848" cy="677" r="12" fill="#c4ccd2" opacity="0.6"/><g transform="rotate(-55 1851 680)"><rect x="1832" y="675" width="38" height="3" fill="#f2f5f7"/><rect x="1832" y="682" width="38" height="3" fill="#f2f5f7"/><rect x="1832" y="678" width="38" height="4" fill="#56606a"/></g><circle cx="1886" cy="683" r="5" fill="#0b0b0b"/><circle cx="1851" cy="743" r="21" fill="#4d5256"/><circle cx="1851" cy="743" r="19" fill="#aab4bc"/><circle cx="1848" cy="740" r="12" fill="#c4ccd2" opacity="0.6"/><g transform="rotate(-50 1851 743)"><rect x="1832" y="738" width="38" height="3" fill="#f2f5f7"/><rect x="1832" y="745" width="38" height="3" fill="#f2f5f7"/><rect x="1832" y="741" width="38" height="4" fill="#56606a"/></g><circle cx="1886" cy="746" r="5" fill="#0b0b0b"/><circle cx="1851" cy="806" r="21" fill="#4d5256"/><circle cx="1851" cy="806" r="19" fill="#aab4bc"/><circle cx="1848" cy="803" r="12" fill="#c4ccd2" opacity="0.6"/><g transform="rotate(-78 1851 806)"><rect x="1832" y="801" width="38" height="3" fill="#f2f5f7"/><rect x="1832" y="808" width="38" height="3" fill="#f2f5f7"/><rect x="1832" y="804" width="38" height="4" fill="#56606a"/></g><circle cx="1886" cy="809" r="5" fill="#0b0b0b"/><circle cx="1851" cy="869" r="21" fill="#4d5256"/><circle cx="1851" cy="869" r="19" fill="#aab4bc"/><circle cx="1848" cy="866" r="12" fill="#c4ccd2" opacity="0.6"/><g transform="rotate(-62 1851 869)"><rect x="1832" y="864" width="38" height="3" fill="#f2f5f7"/><rect x="1832" y="871" width="38" height="3" fill="#f2f5f7"/><rect x="1832" y="867" width="38" height="4" fill="#56606a"/></g><circle cx="1886" cy="872" r="5" fill="#0b0b0b"/><circle cx="1851" cy="932" r="21" fill="#4d5256"/><circle cx="1851" cy="932" r="19" fill="#aab4bc"/><circle cx="1848" cy="929" r="12" fill="#c4ccd2" opacity="0.6"/><g transform="rotate(14 1851 932)"><rect x="1832" y="927" width="38" height="3" fill="#f2f5f7"/><rect x="1832" y="934" width="38" height="3" fill="#f2f5f7"/><rect x="1832" y="930" width="38" height="4" fill="#56606a"/></g><circle cx="1886" cy="935" r="5" fill="#0b0b0b"/><circle cx="1851" cy="995" r="21" fill="#4d5256"/><circle cx="1851" cy="995" r="19" fill="#aab4bc"/><circle cx="1848" cy="992" r="12" fill="#c4ccd2" opacity="0.6"/><g transform="rotate(14 1851 995)"><rect x="1832" y="990" width="38" height="3" fill="#f2f5f7"/><rect x="1832" y="997" width="38" height="3" fill="#f2f5f7"/><rect x="1832" y="993" width="38" height="4" fill="#56606a"/></g><circle cx="1886" cy="998" r="5" fill="#0b0b0b"/><rect x="1829" y="711" width="43" height="5" fill="#0d0d0d"/><rect x="1829" y="836" width="43" height="5" fill="#0d0d0d"/><rect x="1829" y="961" width="43" height="5" fill="#0d0d0d"/><text transform="translate(1770 712) rotate(90)" font-family="Liberation Mono, monospace" font-size="21" font-weight="bold" fill="#e6f6fb" text-anchor="middle" dominant-baseline="central">1 A 2</text><text transform="translate(1770 838) rotate(90)" font-family="Liberation Mono, monospace" font-size="21" font-weight="bold" fill="#e6f6fb" text-anchor="middle" dominant-baseline="central">4 B 3</text><text transform="translate(1770 963) rotate(90)" font-family="Liberation Mono, monospace" font-size="21" font-weight="bold" fill="#e6f6fb" text-anchor="middle" dominant-baseline="central">+ PWR -</text><text transform="translate(1770 1045) rotate(90)" font-family="Liberation Mono, monospace" font-size="21" font-weight="bold" fill="#e6f6fb" text-anchor="middle" dominant-baseline="central">EXT</text><text transform="translate(1770 1098) rotate(90)" font-family="Liberation Mono, monospace" font-size="21" font-weight="bold" fill="#e6f6fb" text-anchor="middle" dominant-baseline="central">INT</text><rect x="1790" y="1024" width="28" height="40" rx="8" fill="#252527"/><rect x="1800" y="1046" width="7" height="7" fill="#ddd"/><rect x="1780" y="1064" width="38" height="63" rx="4" fill="#3c6dd0"/><rect x="1791" y="1077" width="11" height="40" rx="3" fill="#2a2a24"/><rect x="1794" y="1082" width="5" height="30" fill="#c9b98a"/><g stroke="#e6f6fb" stroke-width="3" fill="none"><path d="M1851 1031L1861 1090H1897L1905 1031Z"/><path d="M1843 1028L1912 1094M1912 1028L1843 1094"/><circle cx="1887" cy="1086" r="7"/></g><rect x="1840" y="1107" width="71" height="6" rx="3" fill="#e6f6fb"/><text x="1928" y="943" font-family="Liberation Mono, monospace" font-size="22" fill="#e6f6fb" textLength="94" lengthAdjust="spacingAndGlyphs">PKA03&#8217;1</text><text x="1927" y="965" font-family="Liberation Mono, monospace" font-size="22" fill="#e6f6fb" textLength="176" lengthAdjust="spacingAndGlyphs">MOTOR SHIELD</text><text x="2094" y="902" font-family="Liberation Sans, sans-serif" font-size="20" fill="#e6f6fb">C1</text><circle cx="2075" cy="924" r="10" fill="#0a6aa3"/><circle cx="2140" cy="924" r="10" fill="#0a6aa3"/><circle cx="2075" cy="924" r="7" fill="#c9cfd2"/><circle cx="2140" cy="924" r="7" fill="#9aa3a8"/><line x1="2075" y1="924" x2="2140" y2="924" stroke="#ddd" stroke-width="3"/><rect x="2085" y="913" width="40" height="26" rx="10" fill="#f0b224"/><rect x="2090" y="917" width="30" height="8" rx="4" fill="#f8d76a" opacity="0.8"/><ellipse cx="1992" cy="1058" rx="66" ry="73" fill="#0a6aa3"/><rect x="1920" y="1123" width="150" height="12" fill="#fff"/><ellipse cx="1992" cy="1058" rx="63.5" ry="70" fill="#3b3c3e"/><path d="M1932 1030 A63.5 70 0 0 1 2052 1030 L2030 1046 A43 43 0 0 0 1952 1046 Z" fill="#a9bcc8" opacity="0.85"/><path d="M1982 995 L1993 995 L1992 1028 L1984 1028 Z" fill="#222"/><circle cx="1991" cy="1073" r="43" fill="#e6e8ea"/><path d="M1991 1073 L1962 1105 A43 43 0 0 0 2018 1107 Z" fill="#d2d6d9"/><path d="M1991 1073 L2034 1073 A43 43 0 0 1 2026 1098 Z" fill="#c8ccd0"/><text transform="translate(2288 1003) rotate(90)" font-family="Liberation Sans, sans-serif" font-size="20" fill="#e6f6fb" text-anchor="middle" dominant-baseline="central">C3</text><circle cx="2326" cy="1006" r="31" fill="#9aa9b2"/><circle cx="2330" cy="1012" r="22" fill="#e9ecee"/><path d="M2326 975 A31 31 0 0 1 2355 995 L2326 1006Z" fill="#3a3d40" opacity="0.6"/><g fill="none" stroke="#e6f6fb" stroke-width="6"><path d="M2080 1073 A21 21 0 0 0 2080 1112"/><path d="M2115 1073 A21 21 0 0 0 2115 1112"/><path d="M2096 1092.5H2112"/></g><path d="M2254 1040 L2272 1058 L2254 1076 L2236 1058Z" fill="none" stroke="#e6f6fb" stroke-width="3"/><text x="2288" y="1072" font-family="Liberation Mono, monospace" font-size="22" fill="#e6f6fb" textLength="96" lengthAdjust="spacingAndGlyphs">1S 94V-0</text><rect x="2214.5" y="699" width="9" height="34" fill="#e8ecee"/><rect x="2214.5" y="865" width="9" height="30" fill="#e8ecee"/><rect x="2214.5" y="706" width="9" height="9" fill="#7c8488"/><rect x="2214.5" y="878" width="9" height="9" fill="#7c8488"/><rect x="2230.7" y="699" width="9" height="34" fill="#e8ecee"/><rect x="2230.7" y="865" width="9" height="30" fill="#e8ecee"/><rect x="2230.7" y="706" width="9" height="9" fill="#7c8488"/><rect x="2230.7" y="878" width="9" height="9" fill="#7c8488"/><rect x="2246.9" y="699" width="9" height="34" fill="#e8ecee"/><rect x="2246.9" y="865" width="9" height="30" fill="#e8ecee"/><rect x="2246.9" y="706" width="9" height="9" fill="#7c8488"/><rect x="2246.9" y="878" width="9" height="9" fill="#7c8488"/><rect x="2263.1" y="699" width="9" height="34" fill="#e8ecee"/><rect x="2263.1" y="865" width="9" height="30" fill="#e8ecee"/><rect x="2263.1" y="706" width="9" height="9" fill="#7c8488"/><rect x="2263.1" y="878" width="9" height="9" fill="#7c8488"/><rect x="2279.3" y="699" width="9" height="34" fill="#e8ecee"/><rect x="2279.3" y="865" width="9" height="30" fill="#e8ecee"/><rect x="2279.3" y="706" width="9" height="9" fill="#7c8488"/><rect x="2279.3" y="878" width="9" height="9" fill="#7c8488"/><rect x="2295.5" y="699" width="9" height="34" fill="#e8ecee"/><rect x="2295.5" y="865" width="9" height="30" fill="#e8ecee"/><rect x="2295.5" y="706" width="9" height="9" fill="#7c8488"/><rect x="2295.5" y="878" width="9" height="9" fill="#7c8488"/><rect x="2311.7" y="699" width="9" height="34" fill="#e8ecee"/><rect x="2311.7" y="865" width="9" height="30" fill="#e8ecee"/><rect x="2311.7" y="706" width="9" height="9" fill="#7c8488"/><rect x="2311.7" y="878" width="9" height="9" fill="#7c8488"/><rect x="2327.9" y="699" width="9" height="34" fill="#e8ecee"/><rect x="2327.9" y="865" width="9" height="30" fill="#e8ecee"/><rect x="2327.9" y="706" width="9" height="9" fill="#7c8488"/><rect x="2327.9" y="878" width="9" height="9" fill="#7c8488"/><rect x="2344.1" y="699" width="9" height="34" fill="#e8ecee"/><rect x="2344.1" y="865" width="9" height="30" fill="#e8ecee"/><rect x="2344.1" y="706" width="9" height="9" fill="#7c8488"/><rect x="2344.1" y="878" width="9" height="9" fill="#7c8488"/><rect x="2360.3" y="699" width="9" height="34" fill="#e8ecee"/><rect x="2360.3" y="865" width="9" height="30" fill="#e8ecee"/><rect x="2360.3" y="706" width="9" height="9" fill="#7c8488"/><rect x="2360.3" y="878" width="9" height="9" fill="#7c8488"/><rect x="2190" y="732" width="196" height="133" rx="4" fill="#2e3236"/><rect x="2194" y="736" width="188" height="125" rx="3" fill="#34383c"/><text x="2250" y="776" font-family="Liberation Sans, sans-serif" font-size="26" font-style="italic" font-weight="bold" fill="#4c4e48">ST</text><text x="2218" y="850" font-family="Liberation Mono, monospace" font-size="22" fill="#484c4c">M 5 5 308</text><circle cx="2152" cy="797" r="37" fill="#0a6aa3"/><circle cx="2152" cy="797" r="31" fill="#d9dee2"/><ellipse cx="2174" cy="797" rx="22" ry="20" fill="#f4f6f7"/><rect x="2192" y="784" width="16" height="28" fill="#8a8470"/><circle cx="2148" cy="790" r="12" fill="#ffffff" opacity="0.8"/><circle cx="2422" cy="797" r="37" fill="#0a6aa3"/><circle cx="2422" cy="797" r="31" fill="#d9dee2"/><ellipse cx="2400" cy="797" rx="22" ry="20" fill="#f4f6f7"/><rect x="2366" y="784" width="16" height="28" fill="#8a8470"/><circle cx="2426" cy="790" r="12" fill="#ffffff" opacity="0.8"/><path d="M2444 882 A30 36 0 0 0 2444 950" fill="none" stroke="#e6f6fb" stroke-width="2.5"/><path d="M2486 882 L2468 882 A26 36 0 0 0 2468 950 L2486 950 Z" fill="#1c1c1d"/><rect x="2470" y="886" width="5" height="60" fill="#3a3a3c" opacity="0.8"/><rect x="2489" y="885" width="3" height="62" fill="#e6f6fb"/><circle cx="2474" cy="878" r="9" fill="#b8bec2"/><circle cx="2441" cy="916" r="6" fill="#d0d4d6"/><path d="M2444 976 A30 36 0 0 0 2444 1044" fill="none" stroke="#e6f6fb" stroke-width="2.5"/><path d="M2486 976 L2468 976 A26 36 0 0 0 2468 1044 L2486 1044 Z" fill="#1c1c1d"/><rect x="2470" y="980" width="5" height="60" fill="#3a3a3c" opacity="0.8"/><rect x="2489" y="979" width="3" height="62" fill="#e6f6fb"/><circle cx="2474" cy="972" r="9" fill="#b8bec2"/><circle cx="2441" cy="1010" r="6" fill="#d0d4d6"/><rect x="565" y="1635" width="625" height="288" rx="62" ry="62" fill="#f6f6f6" stroke="#3b3b3b" stroke-width="7"/><rect x="580" y="1648" width="595" height="262" rx="50" fill="#f9f9f9"/><circle cx="671.2" cy="1696.3" r="31.5" fill="url(#whitebtn)" stroke="#333" stroke-width="2.3"/><text transform="translate(672.2 1696.3) rotate(90)" font-family="Liberation Sans, sans-serif" font-size="32" fill="#1a1a1a" text-anchor="middle" dominant-baseline="central">7</text><circle cx="745.3" cy="1696.3" r="31.5" fill="url(#whitebtn)" stroke="#333" stroke-width="2.3"/><text transform="translate(746.3 1696.3) rotate(90)" font-family="Liberation Sans, sans-serif" font-size="32" fill="#1a1a1a" text-anchor="middle" dominant-baseline="central">4</text><circle cx="819.9" cy="1696.3" r="31.5" fill="url(#whitebtn)" stroke="#333" stroke-width="2.3"/><text transform="translate(820.9 1696.3) rotate(90)" font-family="Liberation Sans, sans-serif" font-size="32" fill="#1a1a1a" text-anchor="middle" dominant-baseline="central">1</text><circle cx="894.0" cy="1696.3" r="31.5" fill="url(#whitebtn)" stroke="#333" stroke-width="2.3"/><text transform="translate(895.0 1696.3) rotate(90)" font-family="Liberation Sans, sans-serif" font-size="32" fill="#1a1a1a" text-anchor="middle" dominant-baseline="central">0</text><circle cx="968.9" cy="1696.3" r="32" fill="url(#blackbtn)"/><rect x="959.9" y="1680.3" width="18" height="3.2" fill="#f4f4f4"/><path d="M959.9 1697.8l9 -14l9 14z M959.9 1711.8l9 -14l9 14z" fill="#f4f4f4"/><circle cx="1043.6" cy="1696.3" r="31.5" fill="url(#whitebtn)" stroke="#333" stroke-width="2.3"/><text transform="translate(1043.6 1696.3) rotate(90)" font-family="Liberation Sans, sans-serif" font-size="17" fill="#333" text-anchor="middle" dominant-baseline="central" textLength="40" lengthAdjust="spacingAndGlyphs">TEST</text><circle cx="1117.6" cy="1696.3" r="32" fill="url(#redbtn)"/><path d="M1127.6 1685.3 A15 15 0 1 0 1127.6 1707.3" fill="none" stroke="#f6dede" stroke-width="3.2"/><line x1="1118.6" y1="1696.3" x2="1139.6" y2="1696.3" stroke="#f6dede" stroke-width="3.2"/><circle cx="671.2" cy="1779.2" r="31.5" fill="url(#whitebtn)" stroke="#333" stroke-width="2.3"/><text transform="translate(672.2 1779.2) rotate(90)" font-family="Liberation Sans, sans-serif" font-size="32" fill="#1a1a1a" text-anchor="middle" dominant-baseline="central">8</text><circle cx="745.3" cy="1779.2" r="31.5" fill="url(#whitebtn)" stroke="#333" stroke-width="2.3"/><text transform="translate(746.3 1779.2) rotate(90)" font-family="Liberation Sans, sans-serif" font-size="32" fill="#1a1a1a" text-anchor="middle" dominant-baseline="central">5</text><circle cx="819.9" cy="1779.2" r="31.5" fill="url(#whitebtn)" stroke="#333" stroke-width="2.3"/><text transform="translate(820.9 1779.2) rotate(90)" font-family="Liberation Sans, sans-serif" font-size="32" fill="#1a1a1a" text-anchor="middle" dominant-baseline="central">2</text><circle cx="894.0" cy="1779.2" r="32" fill="url(#blackbtn)"/><rect x="889.5" y="1762.2" width="9" height="34" rx="2" fill="#f4f4f4"/><circle cx="968.9" cy="1779.2" r="31.5" fill="url(#whitebtn)" stroke="#333" stroke-width="2.3"/><path d="M956.9 1769.2h24l-12 20z" fill="#1a1a1a"/><circle cx="1043.6" cy="1779.2" r="32" fill="url(#blackbtn)"/><rect x="1040.1" y="1766.2" width="7" height="26" fill="#f4f4f4"/><rect x="1030.6" y="1775.7" width="26" height="7" fill="#f4f4f4"/><circle cx="671.2" cy="1862.1" r="31.5" fill="url(#whitebtn)" stroke="#333" stroke-width="2.3"/><text transform="translate(672.2 1862.1) rotate(90)" font-family="Liberation Sans, sans-serif" font-size="32" fill="#1a1a1a" text-anchor="middle" dominant-baseline="central">9</text><circle cx="745.3" cy="1862.1" r="31.5" fill="url(#whitebtn)" stroke="#333" stroke-width="2.3"/><text transform="translate(746.3 1862.1) rotate(90)" font-family="Liberation Sans, sans-serif" font-size="32" fill="#1a1a1a" text-anchor="middle" dominant-baseline="central">6</text><circle cx="819.9" cy="1862.1" r="31.5" fill="url(#whitebtn)" stroke="#333" stroke-width="2.3"/><text transform="translate(820.9 1862.1) rotate(90)" font-family="Liberation Sans, sans-serif" font-size="32" fill="#1a1a1a" text-anchor="middle" dominant-baseline="central">3</text><circle cx="894.0" cy="1862.1" r="31.5" fill="url(#whitebtn)" stroke="#333" stroke-width="2.3"/><text transform="translate(895.0 1862.1) rotate(90)" font-family="Liberation Sans, sans-serif" font-size="32" fill="#1a1a1a" text-anchor="middle" dominant-baseline="central">C</text><circle cx="968.9" cy="1862.1" r="32" fill="url(#blackbtn)"/><rect x="959.9" y="1875.6" width="18" height="3.2" fill="#f4f4f4"/><path d="M959.9 1847.1l9 14l9 -14z M959.9 1861.1l9 14l9 -14z" fill="#f4f4f4"/><circle cx="1043.6" cy="1862.1" r="31.5" fill="url(#whitebtn)" stroke="#333" stroke-width="2.3"/><path d="M1026.6 1866.1 Q1059.6 1890.1 1056.6 1857.1 L1048.6 1857.1 Q1049.6 1878.1 1026.6 1866.1 Z" fill="#1a1a1a"/><path d="M1061.6 1859.1l-8 -15l-9 15z" fill="#1a1a1a"/><circle cx="1117.6" cy="1862.1" r="31.5" fill="url(#whitebtn)" stroke="#333" stroke-width="2.3"/><text transform="translate(1117.6 1862.1) rotate(90)" font-family="Liberation Sans, sans-serif" font-size="17" fill="#d22" text-anchor="middle" dominant-baseline="central" textLength="46" lengthAdjust="spacingAndGlyphs">MENU</text><defs><linearGradient id="mg_gear" gradientUnits="userSpaceOnUse" x1="690" y1="815" x2="760" y2="1090"><stop offset="0" stop-color="#cbc9c5"/><stop offset="0.3" stop-color="#bcbab6"/><stop offset="0.55" stop-color="#cecbc6"/><stop offset="0.72" stop-color="#b0aeaa"/><stop offset="0.88" stop-color="#9a9894"/><stop offset="1" stop-color="#8c8a86"/></linearGradient><linearGradient id="mg_can" gradientUnits="userSpaceOnUse" x1="830" y1="780" x2="900" y2="1030"><stop offset="0" stop-color="#dededc"/><stop offset="0.3" stop-color="#d0d0ce"/><stop offset="0.6" stop-color="#bdbdbb"/><stop offset="0.8" stop-color="#9c9c9a"/><stop offset="0.92" stop-color="#aeaeac"/><stop offset="1" stop-color="#bcbcba"/></linearGradient><linearGradient id="mg_face" gradientUnits="userSpaceOnUse" x1="560" y1="860" x2="700" y2="1100"><stop offset="0" stop-color="#c8c8c6"/><stop offset="0.5" stop-color="#bebebc"/><stop offset="1" stop-color="#aeaeac"/></linearGradient><linearGradient id="mg_shaft" gradientUnits="userSpaceOnUse" x1="540" y1="1040" x2="552" y2="1082"><stop offset="0" stop-color="#8c8c8a"/><stop offset="0.25" stop-color="#c9c9c7"/><stop offset="0.5" stop-color="#a8a8a6"/><stop offset="0.75" stop-color="#7e7e7c"/><stop offset="1" stop-color="#959593"/></linearGradient><linearGradient id="mg_shaft_l" x1="0" y1="0" x2="0" y2="1"><stop offset="0" stop-color="#8c8c8a"/><stop offset="0.25" stop-color="#cbcbc9"/><stop offset="0.5" stop-color="#a8a8a6"/><stop offset="0.8" stop-color="#7e7e7c"/><stop offset="1" stop-color="#959593"/></linearGradient></defs><path d="M950.0 768.0L994.0 752.0L1006.0 753.0L1022.0 790.0L1040.0 832.0L1050.0 880.0L1066.0 955.0L1064.0 968.0L1030.0 976.0L1009.0 982.0L1000.0 960.0 Z" fill="#e2e2e2"/><path d="M1005 760 L1030 830 L1045 900 L1058 955 L1040 962 L1020 900 L1010 840 L995 770Z" fill="#cfcfcf" opacity="0.7"/><path d="M990 800 L1012 850 L1020 920 L1008 930 L995 860Z" fill="#ececec" opacity="0.8"/><path d="M1007 768 L1030 762 L1036 776 L1012 782Z" fill="#b0b0b0"/><circle cx="1024" cy="773" r="4" fill="#fff"/><path d="M1064 930 L1082 924 L1086 937 L1068 942Z" fill="#b0b0b0"/><circle cx="1078" cy="934" r="4" fill="#fff"/><path d="M757 798 L899 757  C905.0 758.3 922.2 759.8 935.0 765.0 C947.8 770.2 965.0 775.8 976.0 788.0 C987.0 800.2 993.8 820.0 1001.0 838.0 C1008.2 856.0 1015.2 878.0 1019.0 896.0 C1022.8 914.0 1024.2 931.2 1024.0 946.0 C1023.8 960.8 1019.0 978.5 1018.0 985.0 L1006 988 L831 1063  C834.5 1060.0 847.2 1055.2 852.0 1045.0 C856.8 1034.8 859.0 1015.3 860.0 1002.0 C861.0 988.7 859.5 978.0 858.0 965.0 C856.5 952.0 854.3 937.7 851.0 924.0 C847.7 910.3 843.5 895.3 838.0 883.0 C832.5 870.7 825.2 860.2 818.0 850.0 C810.8 839.8 805.2 830.7 795.0 822.0 C784.8 813.3 763.3 802.0 757.0 798.0Z" fill="url(#mg_can)"/><path d="M899.0 757.0 C905.0 758.3 922.2 759.8 935.0 765.0 C947.8 770.2 965.0 775.8 976.0 788.0 C987.0 800.2 993.8 820.0 1001.0 838.0 C1008.2 856.0 1015.2 878.0 1019.0 896.0 C1022.8 914.0 1024.2 931.2 1024.0 946.0 C1023.8 960.8 1019.0 978.5 1018.0 985.0 L1000.0 985.0L1004.0 946.0L998.0 896.0L980.0 838.0L955.0 790.0L915.0 764.0 Z" fill="#e2e2e0" opacity="0.75"/><path d="M858 1010 L1012 950 L1014 970 L845 1045Z" fill="#7c7c7a" opacity="0.2"/><path d="M800.0 787.0 C806.3 792.5 827.7 805.3 838.0 820.0 C848.3 834.7 856.0 856.7 862.0 875.0 C868.0 893.3 871.7 914.0 874.0 930.0 C876.3 946.0 875.7 964.2 876.0 971.0 L989 943 L993.0 936.0 C991.8 925.0 990.7 890.2 986.0 870.0 C981.3 849.8 974.3 830.7 965.0 815.0 C955.7 799.3 940.0 784.8 930.0 776.0 C920.0 767.2 909.2 764.3 905.0 762.0 Z" fill="#ebebea"/><g font-family="Liberation Sans, sans-serif" fill="#2b2b2b"><text transform="translate(893 946) rotate(-117)" font-size="27" font-weight="bold" textLength="168" lengthAdjust="spacingAndGlyphs">moDELCRAFT</text><text transform="translate(920 938) rotate(-113)" font-size="22" textLength="165" lengthAdjust="spacingAndGlyphs" fill="#3a3a3a">RB350030-0A101R</text><text transform="translate(940.0 925.0) rotate(-110)" font-size="14" textLength="150" lengthAdjust="spacingAndGlyphs" fill="#4a4a4a">Operating voltage:   12VDC</text><text transform="translate(951.5 921.0) rotate(-110)" font-size="14" textLength="150" lengthAdjust="spacingAndGlyphs" fill="#4a4a4a">Speed under load:  174rpm</text><text transform="translate(963.0 917.0) rotate(-110)" font-size="14" textLength="150" lengthAdjust="spacingAndGlyphs" fill="#4a4a4a">Max. gear load:    6kg/cm</text><text transform="translate(974.5 913.0) rotate(-110)" font-size="14" textLength="150" lengthAdjust="spacingAndGlyphs" fill="#4a4a4a">Steady gear load:  2kg/cm</text></g><path d="M588 839 L757 798  C763.3 802.0 784.8 813.3 795.0 822.0 C805.2 830.7 810.8 839.8 818.0 850.0 C825.2 860.2 832.5 870.7 838.0 883.0 C843.5 895.3 847.7 910.3 851.0 924.0 C854.3 937.7 856.5 952.0 858.0 965.0 C859.5 978.0 861.0 988.7 860.0 1002.0 C859.0 1015.3 856.8 1034.8 852.0 1045.0 C847.2 1055.2 834.5 1060.0 831.0 1063.0 L814 1080 L662 1121 Z" fill="url(#mg_gear)"/><path d="M757.0 798.0 C763.3 802.0 784.8 813.3 795.0 822.0 C805.2 830.7 810.8 839.8 818.0 850.0 C825.2 860.2 832.5 870.7 838.0 883.0 C843.5 895.3 847.7 910.3 851.0 924.0 C854.3 937.7 856.5 952.0 858.0 965.0 C859.5 978.0 861.0 988.7 860.0 1002.0 C859.0 1015.3 856.8 1034.8 852.0 1045.0 C847.2 1055.2 834.5 1060.0 831.0 1063.0" fill="none" stroke="#8e8e8c" stroke-width="3" opacity="0.6"/><path d="M600 870 L770 825 L800 850 L640 900Z" fill="#dcdcda" opacity="0.35"/><g transform="translate(627 978) rotate(-15.4)"><ellipse cx="0" cy="0" rx="92" ry="141" fill="#b8b8b6"/><ellipse cx="-2" cy="0" rx="88" ry="137" fill="url(#mg_face)"/><ellipse cx="-2" cy="4" rx="64" ry="108" fill="none" stroke="#9c9c9a" stroke-width="3"/><ellipse cx="-3" cy="5" rx="61" ry="104" fill="#c3c3c1"/></g><ellipse cx="582.6" cy="863.0" rx="8" ry="11.5" transform="rotate(-15 582.6 863.0)" fill="#5a5a58"/><ellipse cx="582.6" cy="863.0" rx="5" ry="8" transform="rotate(-15 582.6 863.0)" fill="#3a3a38"/><ellipse cx="624.6" cy="864.0" rx="10" ry="13" transform="rotate(-15 624.6 864.0)" fill="#2f4a36"/><ellipse cx="624.6" cy="864.0" rx="7.5" ry="10" transform="rotate(-15 624.6 864.0)" fill="#d2d2d0"/><path d="M620.6 864.0h8M624.6 860.0v8" stroke="#6a6a68" stroke-width="2"/><ellipse cx="666.6" cy="896.0" rx="8" ry="11.5" transform="rotate(-15 666.6 896.0)" fill="#5a5a58"/><ellipse cx="666.6" cy="896.0" rx="5" ry="8" transform="rotate(-15 666.6 896.0)" fill="#3a3a38"/><ellipse cx="543.5" cy="948.8" rx="8" ry="11.5" transform="rotate(-15 543.5 948.8)" fill="#5a5a58"/><ellipse cx="543.5" cy="948.8" rx="5" ry="8" transform="rotate(-15 543.5 948.8)" fill="#3a3a38"/><ellipse cx="554.0" cy="1012.8" rx="10" ry="13" transform="rotate(-15 554.0 1012.8)" fill="#2f4a36"/><ellipse cx="554.0" cy="1012.8" rx="7.5" ry="10" transform="rotate(-15 554.0 1012.8)" fill="#d2d2d0"/><path d="M550.0 1012.8h8M554.0 1008.8v8" stroke="#6a6a68" stroke-width="2"/><ellipse cx="709.5" cy="1018.5" rx="8" ry="11.5" transform="rotate(-15 709.5 1018.5)" fill="#5a5a58"/><ellipse cx="709.5" cy="1018.5" rx="5" ry="8" transform="rotate(-15 709.5 1018.5)" fill="#3a3a38"/><ellipse cx="697.0" cy="1068.0" rx="10" ry="13" transform="rotate(-15 697.0 1068.0)" fill="#2f4a36"/><ellipse cx="697.0" cy="1068.0" rx="7.5" ry="10" transform="rotate(-15 697.0 1068.0)" fill="#d2d2d0"/><path d="M693.0 1068.0h8M697.0 1064.0v8" stroke="#6a6a68" stroke-width="2"/><ellipse cx="666.6" cy="1098.7" rx="8" ry="11.5" transform="rotate(-15 666.6 1098.7)" fill="#5a5a58"/><ellipse cx="666.6" cy="1098.7" rx="5" ry="8" transform="rotate(-15 666.6 1098.7)" fill="#3a3a38"/><g transform="translate(627 978) rotate(-15.4)"><ellipse cx="8" cy="52" rx="46" ry="66" fill="#c8c8c6" stroke="#a8a8a6" stroke-width="2"/><ellipse cx="-2" cy="58" rx="30" ry="48" fill="#6e6e6c"/><path d="M-6 20 L-50 20 A20 40 0 0 0 -50 100 L-6 100 A22 40 0 0 0 -6 20 Z" fill="#9e9e9c"/><path d="M-6 22 L-50 22 L-50 36 L-6 36 Z" fill="#b8b8b6" opacity="0.6"/><ellipse cx="-50" cy="60" rx="20" ry="40" fill="#b3b3b1" stroke="#8e8e8c" stroke-width="2"/><ellipse cx="-52" cy="60" rx="12" ry="26" fill="#a4a4a2"/><path d="M-52 40 L-154 40 L-154 80 L-52 80 Z" fill="url(#mg_shaft_l)"/><ellipse cx="-154" cy="60" rx="11" ry="20" fill="#b5b5b3" stroke="#8a8a88" stroke-width="2"/></g><polyline points="2428.0,510.0 2428.0,380.0 1289.0,380.0 1289.0,1706.5 2143.3,1706.5 2143.3,1662.5" fill="none" stroke="#1b37d0" stroke-width="4.4" stroke-linejoin="miter"/><polyline points="1023.7,773.2 1199.2,773.2 1199.2,806.0 1858.5,806.0" fill="none" stroke="#a87808" stroke-width="4.4" stroke-linejoin="miter"/><polyline points="1078.3,935.4 1199.2,935.4 1199.2,872.0 1858.5,872.0" fill="none" stroke="#dc1a92" stroke-width="4.4" stroke-linejoin="miter"/><polyline points="2209.0,1105.0 2209.0,1215.0 2795.7,1215.0 2795.7,1662.3 2474.4,1662.3" fill="none" stroke="#ff0000" stroke-width="4.4" stroke-linejoin="miter"/><polyline points="2270.5,1105.0 2270.5,1180.0 3025.4,1180.0 3025.4,1723.8 2172.6,1723.8" fill="none" stroke="#000000" stroke-width="4.4" stroke-linejoin="miter"/><circle cx="2428.0" cy="510.0" r="8.5" fill="#000"/><circle cx="2209.0" cy="1105.0" r="8.5" fill="#000"/><circle cx="2272.0" cy="1105.0" r="8.5" fill="#000"/><rect x="2129" y="1381" width="86" height="98" fill="#ffffff"/><line x1="2130" y1="1381" x2="2130" y2="1478" stroke="#777" stroke-width="2"/><line x1="2215" y1="1381" x2="2215" y2="1478" stroke="#ddd" stroke-width="1.5"/><rect x="2134" y="1480" width="10" height="125" fill="#c9cdd0"/><rect x="2137" y="1480" width="3" height="125" fill="#eef0f1"/><rect x="2142" y="1480" width="2" height="125" fill="#8b9094"/><rect x="2168" y="1480" width="10" height="125" fill="#c9cdd0"/><rect x="2171" y="1480" width="3" height="125" fill="#eef0f1"/><rect x="2176" y="1480" width="2" height="125" fill="#8b9094"/><rect x="2201" y="1480" width="10" height="125" fill="#c9cdd0"/><rect x="2204" y="1480" width="3" height="125" fill="#eef0f1"/><rect x="2209" y="1480" width="2" height="125" fill="#8b9094"/><path d="M2150 1475 L2139 1495 M2195 1475 L2206 1495" stroke="#9aa0a4" stroke-width="6"/><path d="M2140 1445 V1415 Q2140 1386 2173 1386 Q2207 1386 2207 1415 V1445 Z" fill="#1e1f21"/><path d="M2147 1396 L2203 1440 M2199 1396 L2143 1440" stroke="#d4d6d8" stroke-width="7"/><path d="M2131 1440 H2214 V1474 Q2173 1482 2131 1474 Z" fill="url(#can)"/><path d="M2135 1474 Q2173 1490 2212 1474 L2205 1482 Q2173 1494 2141 1482Z" fill="#151515"/><line x1="2052.4" y1="1601" x2="2474.4" y2="1601" stroke="#fff200" stroke-width="4.4"/><circle cx="2052.4" cy="1601.0" r="8.5" fill="#000"/><circle cx="2474.4" cy="1601.0" r="8.5" fill="#000"/><circle cx="2143.3" cy="1662.5" r="8.5" fill="#000"/><circle cx="2474.4" cy="1662.3" r="8.5" fill="#000"/><circle cx="2172.6" cy="1723.0" r="8.5" fill="#000"/><line x1="2049.3" y1="1632.6" x2="2143.0" y2="1632.6" stroke="#000" stroke-width="3.8"/><g transform="translate(2096.2 1632.6) rotate(0.00)"><rect x="-37.0" y="-12.2" width="74.0" height="24.4" rx="12.2" fill="#4aa0e2"/><rect x="-22.0" y="-12.2" width="5.3" height="24.4" fill="#7a5020"/><rect x="-11.0" y="-12.2" width="6.0" height="24.4" fill="#c00000"/><rect x="-1.0" y="-12.2" width="5.8" height="24.4" fill="#000"/><rect x="9.0" y="-12.2" width="5.5" height="24.4" fill="#000"/><rect x="22.0" y="-12.2" width="2.6" height="24.4" fill="#7a5020"/></g><line x1="2205.2" y1="1662.1" x2="2473.7" y2="1632.5" stroke="#000" stroke-width="3.8"/><g transform="translate(2339.6 1647.4) rotate(-6.29)"><rect x="-37" y="-12.2" width="74" height="24.4" rx="12.2" fill="#4aa0e2"/><rect x="-24.0" y="-12.2" width="4.0" height="24.4" fill="#7a5020"/><rect x="-13.0" y="-12.2" width="5.5" height="24.4" fill="#000"/><rect x="-3.0" y="-12.2" width="5.5" height="24.4" fill="#000"/><rect x="7.0" y="-12.2" width="5.5" height="24.4" fill="#000"/><rect x="20.0" y="-12.2" width="3.0" height="24.4" fill="#7a5020"/></g></svg></body></html>
